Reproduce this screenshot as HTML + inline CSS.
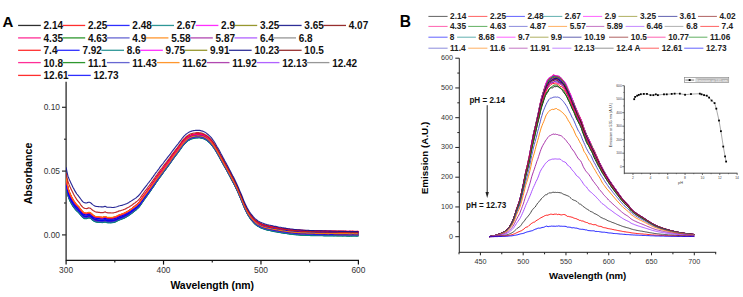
<!DOCTYPE html>
<html><head><meta charset="utf-8"><style>
html,body{margin:0;padding:0;background:#fff;width:743px;height:297px;overflow:hidden}
svg{display:block}
text{font-family:"Liberation Sans",sans-serif}
</style></head><body>
<svg width="743" height="297" viewBox="0 0 743 297" font-family="Liberation Sans, sans-serif">
<defs><clipPath id="clipA"><rect x="66" y="80" width="300" height="180"/></clipPath></defs>
<line x1="66.10" y1="81.80" x2="66.10" y2="261.00" stroke="#2a2a2a" stroke-width="1.3" />
<line x1="66.10" y1="260.40" x2="359.00" y2="260.40" stroke="#111" stroke-width="1.3" />
<line x1="62.00" y1="234.90" x2="66.10" y2="234.90" stroke="#2a2a2a" stroke-width="1.2" />
<text x="60.00" y="237.90" font-size="8.4" font-weight="normal" text-anchor="end" fill="#333" >0.00</text>
<line x1="62.00" y1="171.10" x2="66.10" y2="171.10" stroke="#2a2a2a" stroke-width="1.2" />
<text x="60.00" y="174.10" font-size="8.4" font-weight="normal" text-anchor="end" fill="#333" >0.05</text>
<line x1="62.00" y1="107.30" x2="66.10" y2="107.30" stroke="#2a2a2a" stroke-width="1.2" />
<text x="60.00" y="110.30" font-size="8.4" font-weight="normal" text-anchor="end" fill="#333" >0.10</text>
<line x1="64.00" y1="203.00" x2="66.10" y2="203.00" stroke="#2a2a2a" stroke-width="1.1" />
<line x1="64.00" y1="139.20" x2="66.10" y2="139.20" stroke="#2a2a2a" stroke-width="1.1" />
<line x1="66.10" y1="260.40" x2="66.10" y2="264.60" stroke="#111" stroke-width="1.2" />
<text x="66.10" y="272.90" font-size="8.4" font-weight="normal" text-anchor="middle" fill="#333" >300</text>
<line x1="163.53" y1="260.40" x2="163.53" y2="264.60" stroke="#111" stroke-width="1.2" />
<text x="163.53" y="272.90" font-size="8.4" font-weight="normal" text-anchor="middle" fill="#333" >400</text>
<line x1="260.97" y1="260.40" x2="260.97" y2="264.60" stroke="#111" stroke-width="1.2" />
<text x="260.97" y="272.90" font-size="8.4" font-weight="normal" text-anchor="middle" fill="#333" >500</text>
<line x1="358.40" y1="260.40" x2="358.40" y2="264.60" stroke="#111" stroke-width="1.2" />
<text x="358.40" y="272.90" font-size="8.4" font-weight="normal" text-anchor="middle" fill="#333" >600</text>
<line x1="114.82" y1="260.40" x2="114.82" y2="262.60" stroke="#111" stroke-width="1.1" />
<line x1="212.25" y1="260.40" x2="212.25" y2="262.60" stroke="#111" stroke-width="1.1" />
<line x1="309.68" y1="260.40" x2="309.68" y2="262.60" stroke="#111" stroke-width="1.1" />
<text x="170.40" y="289.00" font-size="10.45" font-weight="bold" text-anchor="start" fill="#000" >Wavelength (nm)</text>
<text x="32.20" y="173.40" font-size="10.7" font-weight="bold" text-anchor="middle" fill="#000" transform="rotate(-90 32.2 173.4)">Absorbance</text>
<text x="2.60" y="27.40" font-size="15.0" font-weight="bold" text-anchor="start" fill="#000" >A</text>
<g clip-path="url(#clipA)">
<polyline points="66.1,181.2 67.1,186.6 68.0,190.9 69.0,193.9 70.0,196.4 71.0,198.6 71.9,200.3 72.9,202.1 73.9,203.6 74.9,204.9 75.8,206.2 76.8,207.1 77.8,208.2 78.8,209.1 79.7,210.3 80.7,211.5 81.7,212.8 82.7,213.8 83.6,214.7 84.6,215.0 85.6,215.3 86.6,215.2 87.5,215.1 88.5,214.6 89.5,214.7 90.5,215.1 91.4,215.7 92.4,216.7 93.4,217.5 94.4,218.1 95.3,218.5 96.3,218.8 97.3,218.9 98.3,219.0 99.2,219.0 100.2,219.1 101.2,219.3 102.2,219.4 103.1,219.4 104.1,218.9 105.1,218.7 106.0,219.0 107.0,219.5 108.0,219.5 109.0,219.6 109.9,219.6 110.9,219.6 111.9,219.4 112.9,219.4 113.8,219.2 114.8,219.0 115.8,218.6 116.8,218.1 117.7,217.7 118.7,217.2 119.7,216.8 120.7,216.6 121.6,216.1 122.6,215.8 123.6,215.4 124.6,214.9 125.5,214.4 126.5,213.8 127.5,213.3 128.5,212.7 129.4,212.0 130.4,211.4 131.4,210.7 132.4,209.9 133.3,209.1 134.3,208.4 135.3,207.6 136.3,206.9 137.2,206.0 138.2,205.0 139.2,203.9 140.1,202.7 141.1,201.4 142.1,200.0 143.1,198.4 144.0,197.0 145.0,195.6 146.0,194.5 147.0,193.1 147.9,191.7 148.9,190.4 149.9,189.1 150.9,187.6 151.8,186.2 152.8,184.8 153.8,183.3 154.8,181.9 155.7,180.4 156.7,179.0 157.7,177.6 158.7,176.3 159.6,175.0 160.6,173.6 161.6,172.3 162.6,171.0 163.5,169.7 164.5,168.3 165.5,167.0 166.5,165.7 167.4,164.4 168.4,163.0 169.4,161.8 170.4,160.5 171.3,159.0 172.3,157.5 173.3,156.2 174.3,154.8 175.2,153.5 176.2,152.2 177.2,151.1 178.1,149.8 179.1,148.5 180.1,147.0 181.1,145.6 182.0,144.2 183.0,143.1 184.0,142.0 185.0,140.8 185.9,139.9 186.9,138.9 187.9,138.3 188.9,137.7 189.8,137.2 190.8,136.8 191.8,136.4 192.8,136.1 193.7,135.8 194.7,135.6 195.7,135.6 196.7,135.4 197.6,135.4 198.6,135.3 199.6,135.4 200.6,135.5 201.5,135.8 202.5,135.9 203.5,136.2 204.5,136.7 205.4,137.3 206.4,137.8 207.4,138.5 208.4,139.3 209.3,140.1 210.3,141.0 211.3,142.2 212.2,143.4 213.2,144.7 214.2,146.0 215.2,147.5 216.1,149.2 217.1,150.8 218.1,152.6 219.1,154.3 220.0,156.1 221.0,157.9 222.0,159.5 223.0,161.4 223.9,163.1 224.9,164.9 225.9,166.7 226.9,168.5 227.8,170.2 228.8,172.1 229.8,173.9 230.8,175.8 231.7,177.6 232.7,179.3 233.7,181.2 234.7,183.1 235.6,185.0 236.6,187.1 237.6,189.3 238.6,191.5 239.5,193.8 240.5,196.1 241.5,198.3 242.5,200.7 243.4,203.1 244.4,205.4 245.4,207.6 246.4,209.5 247.3,211.5 248.3,213.1 249.3,214.7 250.2,216.1 251.2,217.4 252.2,218.5 253.2,219.7 254.1,220.7 255.1,221.7 256.1,222.5 257.1,223.2 258.0,223.9 259.0,224.5 260.0,224.9 261.0,225.5 261.9,225.8 262.9,226.1 263.9,226.5 264.9,226.8 265.8,227.1 266.8,227.3 267.8,227.6 268.8,227.8 269.7,228.0 270.7,228.1 271.7,228.5 272.7,228.5 273.6,228.7 274.6,228.8 275.6,229.0 276.6,229.2 277.5,229.4 278.5,229.5 279.5,229.7 280.5,230.0 281.4,230.0 282.4,230.2 283.4,230.3 284.4,230.5 285.3,230.6 286.3,230.8 287.3,230.8 288.2,231.0 289.2,231.0 290.2,231.2 291.2,231.4 292.1,231.5 293.1,231.5 294.1,231.7 295.1,231.7 296.0,231.7 297.0,231.8 298.0,231.9 299.0,232.1 299.9,232.1 300.9,232.1 301.9,232.3 302.9,232.2 303.8,232.2 304.8,232.3 305.8,232.4 306.8,232.4 307.7,232.5 308.7,232.5 309.7,232.4 310.7,232.4 311.6,232.7 312.6,232.7 313.6,232.6 314.6,232.6 315.5,232.7 316.5,232.7 317.5,232.7 318.5,232.6 319.4,232.8 320.4,232.7 321.4,232.7 322.3,232.7 323.3,232.8 324.3,232.8 325.3,232.8 326.2,232.8 327.2,232.8 328.2,232.8 329.2,232.8 330.1,232.8 331.1,233.0 332.1,232.9 333.1,232.9 334.0,232.9 335.0,232.9 336.0,232.9 337.0,232.9 337.9,233.0 338.9,232.9 339.9,233.0 340.9,233.0 341.8,233.0 342.8,233.0 343.8,233.0 344.8,232.9 345.7,233.0 346.7,233.1 347.7,233.0 348.7,233.0 349.6,233.1 350.6,233.0 351.6,233.1 352.6,233.2 353.5,233.0 354.5,233.1 355.5,233.1 356.5,233.0 357.4,233.1 358.4,233.1" fill="none" stroke="#808080" stroke-width="1.2" stroke-linejoin="round" stroke-opacity="0.92"/>
<polyline points="66.1,182.5 67.1,187.8 68.0,191.9 69.0,195.0 70.0,197.4 71.0,199.5 71.9,201.3 72.9,202.9 73.9,204.4 74.9,205.7 75.8,206.9 76.8,208.0 77.8,209.0 78.8,209.9 79.7,211.0 80.7,212.3 81.7,213.5 82.7,214.6 83.6,215.4 84.6,215.7 85.6,216.0 86.6,216.1 87.5,215.9 88.5,215.4 89.5,215.4 90.5,215.8 91.4,216.5 92.4,217.5 93.4,218.2 94.4,218.8 95.3,219.3 96.3,219.5 97.3,219.6 98.3,219.7 99.2,219.8 100.2,219.9 101.2,220.0 102.2,220.1 103.1,220.0 104.1,219.6 105.1,219.3 106.0,219.8 107.0,220.2 108.0,220.3 109.0,220.3 109.9,220.2 110.9,220.3 111.9,220.1 112.9,220.2 113.8,219.9 114.8,219.6 115.8,219.3 116.8,218.8 117.7,218.2 118.7,217.9 119.7,217.4 120.7,217.2 121.6,216.8 122.6,216.5 123.6,216.1 124.6,215.6 125.5,215.1 126.5,214.5 127.5,213.9 128.5,213.3 129.4,212.6 130.4,212.0 131.4,211.3 132.4,210.5 133.3,209.7 134.3,209.0 135.3,208.2 136.3,207.4 137.2,206.6 138.2,205.7 139.2,204.5 140.1,203.4 141.1,201.8 142.1,200.5 143.1,199.1 144.0,197.7 145.0,196.3 146.0,194.9 147.0,193.7 147.9,192.4 148.9,191.0 149.9,189.5 150.9,188.2 151.8,186.8 152.8,185.4 153.8,184.0 154.8,182.5 155.7,181.0 156.7,179.7 157.7,178.2 158.7,177.0 159.6,175.5 160.6,174.2 161.6,172.8 162.6,171.6 163.5,170.3 164.5,169.0 165.5,167.6 166.5,166.3 167.4,164.9 168.4,163.7 169.4,162.3 170.4,161.0 171.3,159.5 172.3,158.1 173.3,156.9 174.3,155.4 175.2,154.1 176.2,152.9 177.2,151.7 178.1,150.4 179.1,149.0 180.1,147.6 181.1,146.2 182.0,144.8 183.0,143.6 184.0,142.5 185.0,141.5 185.9,140.4 186.9,139.5 187.9,138.9 188.9,138.3 189.8,137.8 190.8,137.2 191.8,136.9 192.8,136.6 193.7,136.4 194.7,136.2 195.7,136.0 196.7,136.0 197.6,135.9 198.6,135.9 199.6,135.9 200.6,136.1 201.5,136.3 202.5,136.5 203.5,136.8 204.5,137.3 205.4,137.7 206.4,138.5 207.4,139.0 208.4,139.9 209.3,140.7 210.3,141.6 211.3,142.6 212.2,143.9 213.2,145.3 214.2,146.6 215.2,148.1 216.1,149.6 217.1,151.4 218.1,153.0 219.1,154.8 220.0,156.7 221.0,158.4 222.0,160.1 223.0,162.0 223.9,163.7 224.9,165.4 225.9,167.2 226.9,168.9 227.8,170.7 228.8,172.6 229.8,174.3 230.8,176.2 231.7,178.0 232.7,179.7 233.7,181.7 234.7,183.6 235.6,185.4 236.6,187.6 237.6,189.7 238.6,191.9 239.5,194.2 240.5,196.6 241.5,198.8 242.5,201.2 243.4,203.6 244.4,205.9 245.4,208.1 246.4,210.1 247.3,211.9 248.3,213.7 249.3,215.2 250.2,216.6 251.2,217.9 252.2,219.1 253.2,220.3 254.1,221.3 255.1,222.1 256.1,223.0 257.1,223.7 258.0,224.3 259.0,224.9 260.0,225.5 261.0,225.9 261.9,226.3 262.9,226.7 263.9,227.2 264.9,227.3 265.8,227.7 266.8,227.9 267.8,228.3 268.8,228.3 269.7,228.6 270.7,228.7 271.7,229.0 272.7,229.0 273.6,229.2 274.6,229.5 275.6,229.7 276.6,229.9 277.5,230.0 278.5,230.2 279.5,230.4 280.5,230.5 281.4,230.7 282.4,230.8 283.4,231.0 284.4,231.1 285.3,231.2 286.3,231.3 287.3,231.5 288.2,231.5 289.2,231.6 290.2,231.8 291.2,232.0 292.1,232.0 293.1,232.2 294.1,232.3 295.1,232.3 296.0,232.5 297.0,232.5 298.0,232.6 299.0,232.7 299.9,232.7 300.9,232.7 301.9,232.9 302.9,232.9 303.8,232.9 304.8,232.9 305.8,232.9 306.8,233.0 307.7,233.1 308.7,233.2 309.7,233.1 310.7,233.1 311.6,233.2 312.6,233.3 313.6,233.2 314.6,233.3 315.5,233.3 316.5,233.3 317.5,233.4 318.5,233.4 319.4,233.5 320.4,233.4 321.4,233.3 322.3,233.5 323.3,233.4 324.3,233.5 325.3,233.5 326.2,233.4 327.2,233.6 328.2,233.5 329.2,233.6 330.1,233.5 331.1,233.6 332.1,233.6 333.1,233.5 334.0,233.6 335.0,233.7 336.0,233.5 337.0,233.6 337.9,233.6 338.9,233.6 339.9,233.7 340.9,233.6 341.8,233.6 342.8,233.7 343.8,233.7 344.8,233.6 345.7,233.6 346.7,233.7 347.7,233.8 348.7,233.7 349.6,233.8 350.6,233.7 351.6,233.7 352.6,233.7 353.5,233.7 354.5,233.8 355.5,233.8 356.5,233.8 357.4,233.8 358.4,233.8" fill="none" stroke="#808080" stroke-width="1.2" stroke-linejoin="round" stroke-opacity="0.92"/>
<polyline points="66.1,181.9 67.1,187.4 68.0,191.6 69.0,194.6 70.0,196.9 71.0,199.1 71.9,201.0 72.9,202.6 73.9,204.2 74.9,205.5 75.8,206.7 76.8,207.7 77.8,208.6 78.8,209.6 79.7,210.7 80.7,212.1 81.7,213.1 82.7,214.2 83.6,215.1 84.6,215.5 85.6,215.8 86.6,215.8 87.5,215.5 88.5,215.0 89.5,215.1 90.5,215.5 91.4,216.2 92.4,217.1 93.4,217.9 94.4,218.5 95.3,218.9 96.3,219.2 97.3,219.4 98.3,219.4 99.2,219.5 100.2,219.6 101.2,219.8 102.2,219.8 103.1,219.6 104.1,219.3 105.1,219.1 106.0,219.5 107.0,219.9 108.0,220.1 109.0,220.0 109.9,220.0 110.9,219.9 111.9,219.9 112.9,219.8 113.8,219.7 114.8,219.3 115.8,219.1 116.8,218.6 117.7,218.0 118.7,217.6 119.7,217.3 120.7,216.9 121.6,216.5 122.6,216.2 123.6,215.8 124.6,215.3 125.5,214.7 126.5,214.2 127.5,213.6 128.5,213.1 129.4,212.4 130.4,211.6 131.4,211.0 132.4,210.3 133.3,209.6 134.3,208.7 135.3,208.0 136.3,207.2 137.2,206.5 138.2,205.5 139.2,204.3 140.1,203.1 141.1,201.8 142.1,200.3 143.1,198.8 144.0,197.4 145.0,196.1 146.0,194.7 147.0,193.3 147.9,192.1 148.9,190.7 149.9,189.4 150.9,188.0 151.8,186.6 152.8,185.2 153.8,183.8 154.8,182.3 155.7,180.8 156.7,179.5 157.7,178.0 158.7,176.7 159.6,175.3 160.6,174.0 161.6,172.7 162.6,171.4 163.5,170.0 164.5,168.7 165.5,167.3 166.5,166.0 167.4,164.6 168.4,163.3 169.4,162.1 170.4,160.7 171.3,159.3 172.3,157.9 173.3,156.5 174.3,155.3 175.2,153.9 176.2,152.7 177.2,151.4 178.1,150.2 179.1,148.8 180.1,147.4 181.1,146.0 182.0,144.6 183.0,143.3 184.0,142.3 185.0,141.1 185.9,140.3 186.9,139.4 187.9,138.6 188.9,138.0 189.8,137.4 190.8,137.1 191.8,136.7 192.8,136.4 193.7,136.1 194.7,135.9 195.7,135.9 196.7,135.7 197.6,135.6 198.6,135.7 199.6,135.8 200.6,135.9 201.5,136.1 202.5,136.3 203.5,136.6 204.5,137.0 205.4,137.6 206.4,138.1 207.4,138.8 208.4,139.6 209.3,140.5 210.3,141.4 211.3,142.5 212.2,143.6 213.2,145.0 214.2,146.4 215.2,147.8 216.1,149.5 217.1,151.1 218.1,152.8 219.1,154.8 220.0,156.4 221.0,158.2 222.0,159.9 223.0,161.7 223.9,163.5 224.9,165.3 225.9,167.0 226.9,168.7 227.8,170.6 228.8,172.4 229.8,174.2 230.8,176.0 231.7,177.9 232.7,179.7 233.7,181.5 234.7,183.3 235.6,185.3 236.6,187.3 237.6,189.5 238.6,191.7 239.5,194.0 240.5,196.3 241.5,198.6 242.5,201.0 243.4,203.4 244.4,205.7 245.4,207.8 246.4,210.0 247.3,211.7 248.3,213.3 249.3,215.1 250.2,216.4 251.2,217.6 252.2,218.9 253.2,219.9 254.1,221.1 255.1,222.0 256.1,222.8 257.1,223.6 258.0,224.1 259.0,224.7 260.0,225.3 261.0,225.7 261.9,226.1 262.9,226.4 263.9,226.8 264.9,227.1 265.8,227.3 266.8,227.7 267.8,228.0 268.8,228.1 269.7,228.3 270.7,228.5 271.7,228.7 272.7,228.9 273.6,229.0 274.6,229.2 275.6,229.4 276.6,229.6 277.5,229.8 278.5,229.8 279.5,230.1 280.5,230.3 281.4,230.4 282.4,230.6 283.4,230.7 284.4,230.9 285.3,230.9 286.3,231.1 287.3,231.3 288.2,231.4 289.2,231.6 290.2,231.7 291.2,231.7 292.1,231.7 293.1,232.0 294.1,232.1 295.1,232.1 296.0,232.2 297.0,232.2 298.0,232.4 299.0,232.4 299.9,232.5 300.9,232.5 301.9,232.6 302.9,232.6 303.8,232.7 304.8,232.7 305.8,232.7 306.8,232.8 307.7,232.8 308.7,232.7 309.7,232.8 310.7,233.0 311.6,233.0 312.6,233.0 313.6,233.0 314.6,233.1 315.5,233.1 316.5,233.1 317.5,233.0 318.5,233.1 319.4,233.1 320.4,233.2 321.4,233.2 322.3,233.3 323.3,233.2 324.3,233.1 325.3,233.2 326.2,233.3 327.2,233.3 328.2,233.2 329.2,233.3 330.1,233.3 331.1,233.2 332.1,233.4 333.1,233.2 334.0,233.3 335.0,233.4 336.0,233.3 337.0,233.5 337.9,233.3 338.9,233.4 339.9,233.4 340.9,233.4 341.8,233.5 342.8,233.4 343.8,233.5 344.8,233.4 345.7,233.4 346.7,233.5 347.7,233.4 348.7,233.5 349.6,233.5 350.6,233.4 351.6,233.4 352.6,233.5 353.5,233.5 354.5,233.6 355.5,233.5 356.5,233.5 357.4,233.5 358.4,233.5" fill="none" stroke="#808000" stroke-width="1.2" stroke-linejoin="round" stroke-opacity="0.92"/>
<polyline points="66.1,184.8 67.1,190.0 68.0,194.1 69.0,197.1 70.0,199.4 71.0,201.5 71.9,203.1 72.9,204.7 73.9,206.1 74.9,207.5 75.8,208.5 76.8,209.6 77.8,210.7 78.8,211.5 79.7,212.6 80.7,213.9 81.7,215.0 82.7,216.0 83.6,216.9 84.6,217.3 85.6,217.5 86.6,217.5 87.5,217.2 88.5,216.8 89.5,216.8 90.5,217.3 91.4,218.0 92.4,218.9 93.4,219.6 94.4,220.1 95.3,220.6 96.3,220.9 97.3,221.1 98.3,221.1 99.2,221.2 100.2,221.3 101.2,221.4 102.2,221.4 103.1,221.4 104.1,220.9 105.1,220.8 106.0,221.2 107.0,221.5 108.0,221.7 109.0,221.7 109.9,221.7 110.9,221.6 111.9,221.6 112.9,221.4 113.8,221.3 114.8,220.9 115.8,220.6 116.8,220.1 117.7,219.7 118.7,219.2 119.7,218.9 120.7,218.5 121.6,218.2 122.6,217.7 123.6,217.3 124.6,217.0 125.5,216.4 126.5,215.8 127.5,215.2 128.5,214.7 129.4,214.0 130.4,213.2 131.4,212.6 132.4,211.7 133.3,211.0 134.3,210.3 135.3,209.6 136.3,208.8 137.2,207.8 138.2,206.9 139.2,205.8 140.1,204.5 141.1,203.1 142.1,201.7 143.1,200.4 144.0,199.0 145.0,197.5 146.0,196.2 147.0,194.9 147.9,193.4 148.9,192.2 149.9,190.8 150.9,189.3 151.8,188.0 152.8,186.6 153.8,185.2 154.8,183.6 155.7,182.3 156.7,180.8 157.7,179.4 158.7,178.1 159.6,176.7 160.6,175.4 161.6,174.0 162.6,172.7 163.5,171.4 164.5,170.0 165.5,168.7 166.5,167.4 167.4,166.1 168.4,164.8 169.4,163.5 170.4,162.0 171.3,160.8 172.3,159.2 173.3,157.9 174.3,156.6 175.2,155.2 176.2,154.0 177.2,152.8 178.1,151.4 179.1,150.0 180.1,148.8 181.1,147.3 182.0,146.0 183.0,144.7 184.0,143.4 185.0,142.5 185.9,141.6 186.9,140.7 187.9,139.9 188.9,139.3 189.8,138.9 190.8,138.3 191.8,137.9 192.8,137.8 193.7,137.5 194.7,137.3 195.7,137.1 196.7,137.0 197.6,137.0 198.6,136.9 199.6,137.1 200.6,137.1 201.5,137.3 202.5,137.6 203.5,137.9 204.5,138.3 205.4,138.7 206.4,139.4 207.4,140.1 208.4,140.8 209.3,141.7 210.3,142.6 211.3,143.7 212.2,144.9 213.2,146.3 214.2,147.5 215.2,149.1 216.1,150.7 217.1,152.4 218.1,154.1 219.1,156.0 220.0,157.6 221.0,159.4 222.0,161.1 223.0,162.8 223.9,164.7 224.9,166.3 225.9,168.2 226.9,169.9 227.8,171.8 228.8,173.5 229.8,175.4 230.8,177.2 231.7,179.1 232.7,180.8 233.7,182.7 234.7,184.5 235.6,186.5 236.6,188.5 237.6,190.7 238.6,192.9 239.5,195.2 240.5,197.5 241.5,199.8 242.5,202.2 243.4,204.6 244.4,206.9 245.4,209.1 246.4,211.1 247.3,213.0 248.3,214.6 249.3,216.3 250.2,217.6 251.2,218.9 252.2,220.2 253.2,221.3 254.1,222.3 255.1,223.3 256.1,224.0 257.1,224.8 258.0,225.4 259.0,225.9 260.0,226.5 261.0,227.0 261.9,227.3 262.9,227.8 263.9,228.1 264.9,228.4 265.8,228.8 266.8,229.0 267.8,229.2 268.8,229.5 269.7,229.7 270.7,230.1 271.7,230.1 272.7,230.3 273.6,230.4 274.6,230.6 275.6,230.8 276.6,230.9 277.5,231.1 278.5,231.4 279.5,231.4 280.5,231.6 281.4,231.8 282.4,232.1 283.4,232.1 284.4,232.3 285.3,232.4 286.3,232.6 287.3,232.6 288.2,232.8 289.2,233.0 290.2,233.0 291.2,233.3 292.1,233.3 293.1,233.4 294.1,233.5 295.1,233.7 296.0,233.8 297.0,233.8 298.0,233.8 299.0,234.0 299.9,234.0 300.9,234.1 301.9,234.1 302.9,234.2 303.8,234.2 304.8,234.4 305.8,234.4 306.8,234.4 307.7,234.5 308.7,234.4 309.7,234.4 310.7,234.5 311.6,234.5 312.6,234.5 313.6,234.6 314.6,234.5 315.5,234.7 316.5,234.5 317.5,234.7 318.5,234.6 319.4,234.7 320.4,234.7 321.4,234.7 322.3,234.7 323.3,234.8 324.3,234.7 325.3,234.8 326.2,234.8 327.2,234.7 328.2,234.9 329.2,234.8 330.1,234.9 331.1,234.8 332.1,234.8 333.1,234.8 334.0,234.9 335.0,234.9 336.0,234.9 337.0,234.8 337.9,234.9 338.9,234.8 339.9,235.0 340.9,234.9 341.8,235.0 342.8,235.0 343.8,234.9 344.8,234.9 345.7,235.0 346.7,234.9 347.7,235.0 348.7,235.0 349.6,235.0 350.6,235.0 351.6,235.1 352.6,235.1 353.5,235.0 354.5,235.0 355.5,234.9 356.5,235.0 357.4,235.0 358.4,235.1" fill="none" stroke="#808000" stroke-width="1.2" stroke-linejoin="round" stroke-opacity="0.92"/>
<polyline points="66.1,185.7 67.1,190.9 68.0,194.9 69.0,197.8 70.0,200.2 71.0,202.2 71.9,203.9 72.9,205.4 73.9,206.9 74.9,208.2 75.8,209.2 76.8,210.3 77.8,211.3 78.8,212.2 79.7,213.3 80.7,214.5 81.7,215.7 82.7,216.7 83.6,217.5 84.6,217.9 85.6,218.0 86.6,218.1 87.5,217.8 88.5,217.3 89.5,217.5 90.5,217.8 91.4,218.5 92.4,219.4 93.4,220.1 94.4,220.8 95.3,221.1 96.3,221.5 97.3,221.6 98.3,221.6 99.2,221.7 100.2,221.8 101.2,222.0 102.2,222.0 103.1,222.0 104.1,221.6 105.1,221.4 106.0,221.7 107.0,222.1 108.0,222.3 109.0,222.4 109.9,222.3 110.9,222.3 111.9,222.2 112.9,222.0 113.8,221.8 114.8,221.6 115.8,221.1 116.8,220.7 117.7,220.2 118.7,219.7 119.7,219.4 120.7,219.0 121.6,218.7 122.6,218.3 123.6,217.9 124.6,217.4 125.5,217.0 126.5,216.4 127.5,215.8 128.5,215.1 129.4,214.5 130.4,213.7 131.4,213.1 132.4,212.3 133.3,211.4 134.3,210.8 135.3,210.0 136.3,209.1 137.2,208.4 138.2,207.4 139.2,206.3 140.1,205.0 141.1,203.7 142.1,202.2 143.1,200.9 144.0,199.5 145.0,198.0 146.0,196.8 147.0,195.4 147.9,194.0 148.9,192.7 149.9,191.2 150.9,189.9 151.8,188.4 152.8,187.0 153.8,185.7 154.8,184.2 155.7,182.7 156.7,181.3 157.7,179.9 158.7,178.6 159.6,177.2 160.6,175.9 161.6,174.5 162.6,173.1 163.5,171.8 164.5,170.5 165.5,169.1 166.5,167.8 167.4,166.6 168.4,165.2 169.4,163.9 170.4,162.5 171.3,161.1 172.3,159.8 173.3,158.3 174.3,156.9 175.2,155.8 176.2,154.3 177.2,153.2 178.1,151.8 179.1,150.6 180.1,149.2 181.1,147.7 182.0,146.4 183.0,145.2 184.0,144.1 185.0,142.9 185.9,142.0 186.9,141.1 187.9,140.3 188.9,139.7 189.8,139.2 190.8,138.8 191.8,138.5 192.8,138.1 193.7,137.9 194.7,137.7 195.7,137.5 196.7,137.5 197.6,137.4 198.6,137.4 199.6,137.4 200.6,137.6 201.5,137.7 202.5,137.9 203.5,138.2 204.5,138.7 205.4,139.3 206.4,139.8 207.4,140.5 208.4,141.1 209.3,142.1 210.3,143.0 211.3,144.2 212.2,145.3 213.2,146.6 214.2,148.0 215.2,149.6 216.1,151.0 217.1,152.8 218.1,154.5 219.1,156.3 220.0,158.0 221.0,159.8 222.0,161.6 223.0,163.4 223.9,165.1 224.9,166.8 225.9,168.6 226.9,170.3 227.8,172.1 228.8,174.0 229.8,175.7 230.8,177.7 231.7,179.5 232.7,181.3 233.7,183.1 234.7,185.0 235.6,186.9 236.6,189.0 237.6,191.0 238.6,193.2 239.5,195.6 240.5,197.9 241.5,200.2 242.5,202.6 243.4,204.9 244.4,207.3 245.4,209.5 246.4,211.5 247.3,213.3 248.3,215.1 249.3,216.6 250.2,218.0 251.2,219.3 252.2,220.6 253.2,221.7 254.1,222.7 255.1,223.7 256.1,224.5 257.1,225.3 258.0,225.9 259.0,226.4 260.0,227.0 261.0,227.5 261.9,227.8 262.9,228.3 263.9,228.6 264.9,228.9 265.8,229.2 266.8,229.4 267.8,229.7 268.8,230.0 269.7,230.1 270.7,230.3 271.7,230.6 272.7,230.7 273.6,230.9 274.6,231.1 275.6,231.3 276.6,231.5 277.5,231.5 278.5,231.9 279.5,232.0 280.5,232.2 281.4,232.4 282.4,232.4 283.4,232.7 284.4,232.7 285.3,233.0 286.3,233.2 287.3,233.2 288.2,233.3 289.2,233.5 290.2,233.6 291.2,233.7 292.1,233.8 293.1,234.0 294.1,234.0 295.1,234.2 296.0,234.3 297.0,234.3 298.0,234.3 299.0,234.5 299.9,234.6 300.9,234.6 301.9,234.6 302.9,234.8 303.8,234.8 304.8,234.9 305.8,234.8 306.8,234.9 307.7,234.9 308.7,234.9 309.7,234.9 310.7,235.0 311.6,235.0 312.6,235.0 313.6,235.1 314.6,235.1 315.5,235.1 316.5,235.1 317.5,235.2 318.5,235.2 319.4,235.2 320.4,235.3 321.4,235.3 322.3,235.2 323.3,235.2 324.3,235.3 325.3,235.3 326.2,235.3 327.2,235.3 328.2,235.3 329.2,235.3 330.1,235.3 331.1,235.2 332.1,235.4 333.1,235.4 334.0,235.4 335.0,235.5 336.0,235.4 337.0,235.4 337.9,235.5 338.9,235.4 339.9,235.4 340.9,235.5 341.8,235.5 342.8,235.5 343.8,235.4 344.8,235.5 345.7,235.5 346.7,235.6 347.7,235.5 348.7,235.5 349.6,235.6 350.6,235.5 351.6,235.5 352.6,235.5 353.5,235.5 354.5,235.5 355.5,235.4 356.5,235.5 357.4,235.5 358.4,235.6" fill="none" stroke="#008000" stroke-width="1.2" stroke-linejoin="round" stroke-opacity="0.92"/>
<polyline points="66.1,185.8 67.1,191.1 68.0,195.1 69.0,198.1 70.0,200.4 71.0,202.4 71.9,204.0 72.9,205.6 73.9,207.1 74.9,208.3 75.8,209.5 76.8,210.6 77.8,211.4 78.8,212.4 79.7,213.4 80.7,214.7 81.7,215.8 82.7,216.9 83.6,217.6 84.6,218.1 85.6,218.2 86.6,218.3 87.5,217.9 88.5,217.6 89.5,217.6 90.5,217.9 91.4,218.7 92.4,219.5 93.4,220.4 94.4,220.9 95.3,221.4 96.3,221.6 97.3,221.8 98.3,221.9 99.2,221.9 100.2,222.0 101.2,222.1 102.2,222.2 103.1,222.2 104.1,221.7 105.1,221.5 106.0,221.8 107.0,222.3 108.0,222.4 109.0,222.4 109.9,222.5 110.9,222.3 111.9,222.3 112.9,222.3 113.8,222.0 114.8,221.7 115.8,221.2 116.8,220.8 117.7,220.3 118.7,219.8 119.7,219.5 120.7,219.2 121.6,218.9 122.6,218.4 123.6,218.0 124.6,217.5 125.5,217.1 126.5,216.4 127.5,215.9 128.5,215.3 129.4,214.6 130.4,213.9 131.4,213.2 132.4,212.5 133.3,211.7 134.3,210.9 135.3,210.1 136.3,209.4 137.2,208.4 138.2,207.5 139.2,206.5 140.1,205.1 141.1,203.8 142.1,202.4 143.1,200.9 144.0,199.6 145.0,198.2 146.0,196.7 147.0,195.4 147.9,194.1 148.9,192.8 149.9,191.3 150.9,190.0 151.8,188.6 152.8,187.2 153.8,185.7 154.8,184.3 155.7,182.8 156.7,181.3 157.7,180.0 158.7,178.6 159.6,177.3 160.6,176.0 161.6,174.7 162.6,173.2 163.5,172.0 164.5,170.7 165.5,169.3 166.5,167.9 167.4,166.6 168.4,165.3 169.4,164.1 170.4,162.7 171.3,161.3 172.3,159.9 173.3,158.4 174.3,157.1 175.2,155.7 176.2,154.5 177.2,153.3 178.1,152.1 179.1,150.7 180.1,149.2 181.1,147.9 182.0,146.5 183.0,145.3 184.0,144.0 185.0,143.0 185.9,142.0 186.9,141.2 187.9,140.3 188.9,139.9 189.8,139.3 190.8,138.8 191.8,138.5 192.8,138.2 193.7,138.0 194.7,137.7 195.7,137.7 196.7,137.5 197.6,137.6 198.6,137.4 199.6,137.5 200.6,137.7 201.5,137.8 202.5,138.1 203.5,138.4 204.5,138.7 205.4,139.3 206.4,139.9 207.4,140.5 208.4,141.4 209.3,142.1 210.3,143.2 211.3,144.2 212.2,145.4 213.2,146.8 214.2,148.1 215.2,149.7 216.1,151.1 217.1,152.8 218.1,154.6 219.1,156.4 220.0,158.2 221.0,160.0 222.0,161.7 223.0,163.4 223.9,165.2 224.9,166.9 225.9,168.7 226.9,170.5 227.8,172.2 228.8,174.0 229.8,175.9 230.8,177.7 231.7,179.6 232.7,181.4 233.7,183.3 234.7,185.1 235.6,186.9 236.6,189.1 237.6,191.2 238.6,193.4 239.5,195.6 240.5,197.9 241.5,200.3 242.5,202.7 243.4,205.0 244.4,207.3 245.4,209.6 246.4,211.6 247.3,213.4 248.3,215.1 249.3,216.7 250.2,218.2 251.2,219.5 252.2,220.7 253.2,221.8 254.1,222.8 255.1,223.8 256.1,224.7 257.1,225.3 258.0,226.0 259.0,226.5 260.0,227.1 261.0,227.6 261.9,227.9 262.9,228.3 263.9,228.7 264.9,229.0 265.8,229.2 266.8,229.6 267.8,229.9 268.8,230.0 269.7,230.2 270.7,230.4 271.7,230.6 272.7,230.7 273.6,231.1 274.6,231.2 275.6,231.4 276.6,231.6 277.5,231.8 278.5,231.9 279.5,232.2 280.5,232.3 281.4,232.5 282.4,232.6 283.4,232.7 284.4,233.0 285.3,233.0 286.3,233.2 287.3,233.4 288.2,233.4 289.2,233.7 290.2,233.7 291.2,233.9 292.1,234.0 293.1,234.0 294.1,234.2 295.1,234.3 296.0,234.3 297.0,234.5 298.0,234.5 299.0,234.7 299.9,234.7 300.9,234.8 301.9,234.8 302.9,234.9 303.8,234.9 304.8,234.9 305.8,235.0 306.8,235.0 307.7,235.0 308.7,235.1 309.7,235.1 310.7,235.1 311.6,235.1 312.6,235.2 313.6,235.2 314.6,235.4 315.5,235.2 316.5,235.2 317.5,235.3 318.5,235.4 319.4,235.3 320.4,235.4 321.4,235.2 322.3,235.3 323.3,235.5 324.3,235.4 325.3,235.4 326.2,235.4 327.2,235.4 328.2,235.5 329.2,235.5 330.1,235.5 331.1,235.4 332.1,235.5 333.1,235.4 334.0,235.6 335.0,235.5 336.0,235.5 337.0,235.6 337.9,235.6 338.9,235.6 339.9,235.6 340.9,235.6 341.8,235.6 342.8,235.6 343.8,235.6 344.8,235.6 345.7,235.6 346.7,235.6 347.7,235.6 348.7,235.6 349.6,235.8 350.6,235.6 351.6,235.6 352.6,235.7 353.5,235.7 354.5,235.7 355.5,235.6 356.5,235.7 357.4,235.7 358.4,235.7" fill="none" stroke="#008000" stroke-width="1.2" stroke-linejoin="round" stroke-opacity="0.92"/>
<polyline points="66.1,178.8 67.1,184.4 68.0,188.7 69.0,191.9 70.0,194.3 71.0,196.6 71.9,198.5 72.9,200.2 73.9,201.8 74.9,203.2 75.8,204.4 76.8,205.6 77.8,206.5 78.8,207.5 79.7,208.7 80.7,209.9 81.7,211.2 82.7,212.2 83.6,213.1 84.6,213.5 85.6,213.8 86.6,213.8 87.5,213.4 88.5,213.2 89.5,213.3 90.5,213.7 91.4,214.4 92.4,215.2 93.4,216.1 94.4,216.6 95.3,217.0 96.3,217.3 97.3,217.5 98.3,217.6 99.2,217.7 100.2,217.7 101.2,217.9 102.2,218.0 103.1,217.8 104.1,217.4 105.1,217.3 106.0,217.5 107.0,218.0 108.0,218.1 109.0,218.2 109.9,218.1 110.9,218.1 111.9,218.2 112.9,218.0 113.8,217.8 114.8,217.6 115.8,217.3 116.8,216.8 117.7,216.2 118.7,216.0 119.7,215.4 120.7,215.1 121.6,214.8 122.6,214.4 123.6,214.1 124.6,213.6 125.5,213.1 126.5,212.5 127.5,212.0 128.5,211.5 129.4,210.8 130.4,210.1 131.4,209.3 132.4,208.6 133.3,207.9 134.3,207.1 135.3,206.5 136.3,205.6 137.2,204.7 138.2,203.8 139.2,202.8 140.1,201.5 141.1,200.1 142.1,198.7 143.1,197.4 144.0,195.9 145.0,194.6 146.0,193.1 147.0,191.9 147.9,190.5 148.9,189.3 149.9,187.8 150.9,186.4 151.8,185.0 152.8,183.5 153.8,182.2 154.8,180.7 155.7,179.2 156.7,177.9 157.7,176.5 158.7,175.2 159.6,173.9 160.6,172.4 161.6,171.2 162.6,169.8 163.5,168.5 164.5,167.2 165.5,165.8 166.5,164.6 167.4,163.2 168.4,161.9 169.4,160.7 170.4,159.3 171.3,157.9 172.3,156.5 173.3,155.1 174.3,153.7 175.2,152.4 176.2,151.3 177.2,149.9 178.1,148.8 179.1,147.4 180.1,145.9 181.1,144.5 182.0,143.2 183.0,141.9 184.0,140.8 185.0,139.7 185.9,138.9 186.9,138.1 187.9,137.3 188.9,136.6 189.8,136.1 190.8,135.7 191.8,135.2 192.8,135.1 193.7,134.8 194.7,134.7 195.7,134.5 196.7,134.4 197.6,134.3 198.6,134.2 199.6,134.5 200.6,134.5 201.5,134.7 202.5,135.0 203.5,135.2 204.5,135.7 205.4,136.1 206.4,136.8 207.4,137.4 208.4,138.2 209.3,139.1 210.3,140.1 211.3,141.1 212.2,142.3 213.2,143.5 214.2,145.0 215.2,146.5 216.1,148.1 217.1,149.8 218.1,151.5 219.1,153.4 220.0,155.1 221.0,156.8 222.0,158.7 223.0,160.5 223.9,162.0 224.9,164.0 225.9,165.7 226.9,167.5 227.8,169.2 228.8,171.0 229.8,172.7 230.8,174.6 231.7,176.5 232.7,178.4 233.7,180.1 234.7,182.1 235.6,184.0 236.6,186.1 237.6,188.2 238.6,190.5 239.5,192.7 240.5,195.1 241.5,197.4 242.5,199.6 243.4,202.1 244.4,204.5 245.4,206.5 246.4,208.7 247.3,210.4 248.3,212.2 249.3,213.6 250.2,215.0 251.2,216.4 252.2,217.6 253.2,218.7 254.1,219.6 255.1,220.6 256.1,221.3 257.1,222.1 258.0,222.8 259.0,223.4 260.0,223.9 261.0,224.2 261.9,224.7 262.9,225.0 263.9,225.4 264.9,225.7 265.8,226.0 266.8,226.2 267.8,226.4 268.8,226.6 269.7,226.9 270.7,227.0 271.7,227.2 272.7,227.3 273.6,227.6 274.6,227.7 275.6,227.9 276.6,228.1 277.5,228.2 278.5,228.4 279.5,228.5 280.5,228.7 281.4,228.9 282.4,229.0 283.4,229.1 284.4,229.3 285.3,229.4 286.3,229.6 287.3,229.7 288.2,229.7 289.2,229.8 290.2,230.0 291.2,230.1 292.1,230.2 293.1,230.2 294.1,230.3 295.1,230.5 296.0,230.5 297.0,230.5 298.0,230.7 299.0,230.8 299.9,230.8 300.9,230.8 301.9,230.9 302.9,230.9 303.8,230.9 304.8,231.0 305.8,231.0 306.8,231.1 307.7,231.1 308.7,231.1 309.7,231.2 310.7,231.2 311.6,231.3 312.6,231.3 313.6,231.3 314.6,231.4 315.5,231.3 316.5,231.4 317.5,231.3 318.5,231.4 319.4,231.4 320.4,231.5 321.4,231.4 322.3,231.5 323.3,231.5 324.3,231.6 325.3,231.5 326.2,231.6 327.2,231.5 328.2,231.6 329.2,231.7 330.1,231.5 331.1,231.6 332.1,231.6 333.1,231.6 334.0,231.7 335.0,231.6 336.0,231.7 337.0,231.7 337.9,231.7 338.9,231.7 339.9,231.7 340.9,231.7 341.8,231.7 342.8,231.7 343.8,231.7 344.8,231.7 345.7,231.8 346.7,231.8 347.7,231.8 348.7,231.7 349.6,231.9 350.6,231.8 351.6,231.9 352.6,231.8 353.5,231.8 354.5,231.8 355.5,231.9 356.5,231.8 357.4,231.8 358.4,231.8" fill="none" stroke="#ff8000" stroke-width="1.2" stroke-linejoin="round" stroke-opacity="0.92"/>
<polyline points="66.1,181.5 67.1,186.9 68.0,191.0 69.0,194.2 70.0,196.6 71.0,198.6 71.9,200.6 72.9,202.1 73.9,203.7 74.9,205.1 75.8,206.3 76.8,207.4 77.8,208.4 78.8,209.3 79.7,210.4 80.7,211.7 81.7,212.8 82.7,214.0 83.6,214.8 84.6,215.2 85.6,215.4 86.6,215.4 87.5,215.2 88.5,214.8 89.5,214.9 90.5,215.2 91.4,215.9 92.4,216.9 93.4,217.7 94.4,218.2 95.3,218.7 96.3,218.9 97.3,219.0 98.3,219.1 99.2,219.3 100.2,219.4 101.2,219.4 102.2,219.6 103.1,219.4 104.1,219.0 105.1,218.8 106.0,219.2 107.0,219.6 108.0,219.7 109.0,219.7 109.9,219.7 110.9,219.7 111.9,219.6 112.9,219.6 113.8,219.3 114.8,219.0 115.8,218.8 116.8,218.2 117.7,217.8 118.7,217.3 119.7,216.9 120.7,216.6 121.6,216.3 122.6,216.0 123.6,215.5 124.6,215.1 125.5,214.5 126.5,214.0 127.5,213.4 128.5,212.7 129.4,212.2 130.4,211.5 131.4,210.8 132.4,210.0 133.3,209.2 134.3,208.5 135.3,207.7 136.3,206.9 137.2,206.1 138.2,205.1 139.2,204.1 140.1,202.9 141.1,201.5 142.1,200.0 143.1,198.7 144.0,197.2 145.0,195.9 146.0,194.5 147.0,193.1 147.9,191.9 148.9,190.5 149.9,189.2 150.9,187.8 151.8,186.4 152.8,184.9 153.8,183.5 154.8,181.9 155.7,180.6 156.7,179.2 157.7,177.7 158.7,176.4 159.6,175.1 160.6,173.7 161.6,172.4 162.6,171.1 163.5,169.8 164.5,168.5 165.5,167.1 166.5,165.8 167.4,164.4 168.4,163.2 169.4,161.9 170.4,160.5 171.3,159.1 172.3,157.6 173.3,156.3 174.3,154.9 175.2,153.7 176.2,152.3 177.2,151.2 178.1,150.0 179.1,148.6 180.1,147.2 181.1,145.7 182.0,144.5 183.0,143.2 184.0,142.0 185.0,140.9 185.9,140.0 186.9,139.1 187.9,138.5 188.9,137.8 189.8,137.2 190.8,136.9 191.8,136.5 192.8,136.2 193.7,135.9 194.7,135.8 195.7,135.6 196.7,135.5 197.6,135.6 198.6,135.5 199.6,135.6 200.6,135.6 201.5,135.8 202.5,136.1 203.5,136.3 204.5,136.8 205.4,137.3 206.4,138.0 207.4,138.6 208.4,139.3 209.3,140.3 210.3,141.2 211.3,142.4 212.2,143.5 213.2,144.8 214.2,146.2 215.2,147.7 216.1,149.3 217.1,150.9 218.1,152.6 219.1,154.4 220.0,156.2 221.0,158.0 222.0,159.8 223.0,161.6 223.9,163.2 224.9,165.1 225.9,166.8 226.9,168.6 227.8,170.4 228.8,172.2 229.8,174.0 230.8,175.7 231.7,177.6 232.7,179.5 233.7,181.3 234.7,183.2 235.6,185.1 236.6,187.1 237.6,189.2 238.6,191.5 239.5,193.9 240.5,196.1 241.5,198.4 242.5,200.8 243.4,203.2 244.4,205.5 245.4,207.7 246.4,209.6 247.3,211.5 248.3,213.2 249.3,214.8 250.2,216.3 251.2,217.5 252.2,218.7 253.2,219.9 254.1,220.7 255.1,221.8 256.1,222.7 257.1,223.3 258.0,223.8 259.0,224.5 260.0,225.0 261.0,225.5 261.9,225.8 262.9,226.2 263.9,226.7 264.9,226.9 265.8,227.2 266.8,227.5 267.8,227.7 268.8,227.8 269.7,228.0 270.7,228.3 271.7,228.5 272.7,228.7 273.6,228.8 274.6,229.0 275.6,229.2 276.6,229.4 277.5,229.5 278.5,229.7 279.5,229.9 280.5,230.1 281.4,230.2 282.4,230.4 283.4,230.6 284.4,230.6 285.3,230.7 286.3,230.9 287.3,231.0 288.2,231.1 289.2,231.1 290.2,231.4 291.2,231.4 292.1,231.6 293.1,231.7 294.1,231.7 295.1,231.9 296.0,232.0 297.0,232.0 298.0,232.1 299.0,232.2 299.9,232.1 300.9,232.2 301.9,232.3 302.9,232.4 303.8,232.4 304.8,232.4 305.8,232.5 306.8,232.5 307.7,232.5 308.7,232.5 309.7,232.6 310.7,232.7 311.6,232.6 312.6,232.7 313.6,232.8 314.6,232.7 315.5,232.7 316.5,232.7 317.5,232.8 318.5,232.8 319.4,232.8 320.4,232.9 321.4,232.8 322.3,232.9 323.3,232.9 324.3,233.0 325.3,233.0 326.2,233.0 327.2,233.0 328.2,233.0 329.2,233.0 330.1,233.0 331.1,233.0 332.1,233.1 333.1,233.0 334.0,233.1 335.0,233.0 336.0,233.1 337.0,233.1 337.9,233.0 338.9,233.0 339.9,233.1 340.9,233.1 341.8,233.1 342.8,233.1 343.8,233.1 344.8,233.2 345.7,233.1 346.7,233.1 347.7,233.1 348.7,233.2 349.6,233.2 350.6,233.3 351.6,233.2 352.6,233.2 353.5,233.2 354.5,233.3 355.5,233.2 356.5,233.2 357.4,233.2 358.4,233.2" fill="none" stroke="#a040ff" stroke-width="1.2" stroke-linejoin="round" stroke-opacity="0.92"/>
<polyline points="66.1,185.5 67.1,190.7 68.0,194.7 69.0,197.7 70.0,200.0 71.0,202.0 71.9,203.7 72.9,205.2 73.9,206.8 74.9,208.0 75.8,209.1 76.8,210.1 77.8,211.2 78.8,211.9 79.7,213.0 80.7,214.4 81.7,215.5 82.7,216.5 83.6,217.5 84.6,217.7 85.6,218.0 86.6,217.9 87.5,217.6 88.5,217.3 89.5,217.3 90.5,217.7 91.4,218.4 92.4,219.3 93.4,220.1 94.4,220.6 95.3,221.1 96.3,221.3 97.3,221.5 98.3,221.5 99.2,221.6 100.2,221.7 101.2,221.8 102.2,222.0 103.1,221.9 104.1,221.4 105.1,221.2 106.0,221.6 107.0,221.9 108.0,222.1 109.0,222.1 109.9,222.1 110.9,222.1 111.9,222.0 112.9,221.8 113.8,221.7 114.8,221.3 115.8,221.1 116.8,220.5 117.7,220.1 118.7,219.7 119.7,219.2 120.7,218.8 121.6,218.5 122.6,218.1 123.6,217.7 124.6,217.2 125.5,216.8 126.5,216.2 127.5,215.6 128.5,215.0 129.4,214.4 130.4,213.7 131.4,213.0 132.4,212.3 133.3,211.5 134.3,210.7 135.3,209.9 136.3,209.0 137.2,208.3 138.2,207.3 139.2,206.1 140.1,205.0 141.1,203.5 142.1,202.1 143.1,200.7 144.0,199.3 145.0,197.9 146.0,196.4 147.0,195.2 147.9,193.9 148.9,192.5 149.9,191.2 150.9,189.8 151.8,188.5 152.8,186.9 153.8,185.5 154.8,183.9 155.7,182.5 156.7,181.2 157.7,179.8 158.7,178.4 159.6,177.1 160.6,175.8 161.6,174.4 162.6,173.2 163.5,171.8 164.5,170.4 165.5,169.1 166.5,167.7 167.4,166.3 168.4,165.1 169.4,163.7 170.4,162.4 171.3,161.0 172.3,159.6 173.3,158.3 174.3,156.9 175.2,155.6 176.2,154.3 177.2,153.1 178.1,151.8 179.1,150.4 180.1,149.1 181.1,147.7 182.0,146.3 183.0,145.0 184.0,143.9 185.0,142.8 185.9,141.9 186.9,140.9 187.9,140.3 188.9,139.7 189.8,139.1 190.8,138.6 191.8,138.3 192.8,137.9 193.7,137.9 194.7,137.6 195.7,137.5 196.7,137.3 197.6,137.3 198.6,137.2 199.6,137.3 200.6,137.5 201.5,137.6 202.5,137.8 203.5,138.2 204.5,138.6 205.4,139.1 206.4,139.7 207.4,140.4 208.4,141.1 209.3,141.8 210.3,142.9 211.3,144.1 212.2,145.2 213.2,146.6 214.2,147.9 215.2,149.4 216.1,150.9 217.1,152.7 218.1,154.4 219.1,156.1 220.0,158.0 221.0,159.6 222.0,161.5 223.0,163.2 223.9,164.9 224.9,166.7 225.9,168.5 226.9,170.3 227.8,172.1 228.8,173.8 229.8,175.6 230.8,177.6 231.7,179.4 232.7,181.1 233.7,182.9 234.7,184.8 235.6,186.8 236.6,188.9 237.6,190.9 238.6,193.2 239.5,195.5 240.5,197.8 241.5,200.0 242.5,202.5 243.4,204.8 244.4,207.2 245.4,209.4 246.4,211.4 247.3,213.2 248.3,214.9 249.3,216.5 250.2,217.9 251.2,219.4 252.2,220.5 253.2,221.6 254.1,222.6 255.1,223.6 256.1,224.5 257.1,225.2 258.0,225.8 259.0,226.4 260.0,226.9 261.0,227.3 261.9,227.8 262.9,228.2 263.9,228.5 264.9,228.9 265.8,229.0 266.8,229.4 267.8,229.6 268.8,229.8 269.7,230.1 270.7,230.2 271.7,230.4 272.7,230.7 273.6,230.8 274.6,230.9 275.6,231.2 276.6,231.5 277.5,231.5 278.5,231.7 279.5,231.9 280.5,231.9 281.4,232.3 282.4,232.4 283.4,232.5 284.4,232.8 285.3,232.8 286.3,233.0 287.3,233.1 288.2,233.1 289.2,233.3 290.2,233.5 291.2,233.6 292.1,233.8 293.1,233.7 294.1,234.0 295.1,234.0 296.0,234.1 297.0,234.1 298.0,234.3 299.0,234.4 299.9,234.4 300.9,234.5 301.9,234.5 302.9,234.5 303.8,234.5 304.8,234.8 305.8,234.7 306.8,234.7 307.7,234.7 308.7,234.7 309.7,234.8 310.7,234.8 311.6,234.9 312.6,235.0 313.6,235.0 314.6,234.9 315.5,235.0 316.5,234.9 317.5,235.0 318.5,235.0 319.4,235.1 320.4,235.0 321.4,235.1 322.3,235.1 323.3,235.0 324.3,235.2 325.3,235.1 326.2,235.2 327.2,235.1 328.2,235.2 329.2,235.2 330.1,235.3 331.1,235.2 332.1,235.3 333.1,235.2 334.0,235.3 335.0,235.2 336.0,235.3 337.0,235.2 337.9,235.4 338.9,235.4 339.9,235.3 340.9,235.3 341.8,235.4 342.8,235.4 343.8,235.4 344.8,235.3 345.7,235.3 346.7,235.4 347.7,235.3 348.7,235.3 349.6,235.3 350.6,235.4 351.6,235.3 352.6,235.4 353.5,235.3 354.5,235.5 355.5,235.4 356.5,235.4 357.4,235.4 358.4,235.4" fill="none" stroke="#a040ff" stroke-width="1.2" stroke-linejoin="round" stroke-opacity="0.92"/>
<polyline points="66.1,180.5 67.1,185.9 68.0,190.2 69.0,193.3 70.0,195.8 71.0,198.0 71.9,199.7 72.9,201.5 73.9,203.1 74.9,204.3 75.8,205.6 76.8,206.8 77.8,207.6 78.8,208.7 79.7,209.8 80.7,211.0 81.7,212.3 82.7,213.3 83.6,214.3 84.6,214.6 85.6,214.9 86.6,214.9 87.5,214.6 88.5,214.2 89.5,214.2 90.5,214.6 91.4,215.3 92.4,216.3 93.4,217.0 94.4,217.7 95.3,218.1 96.3,218.4 97.3,218.5 98.3,218.6 99.2,218.7 100.2,218.7 101.2,218.8 102.2,219.0 103.1,218.7 104.1,218.4 105.1,218.2 106.0,218.6 107.0,219.1 108.0,219.2 109.0,219.1 109.9,219.2 110.9,219.1 111.9,219.1 112.9,218.9 113.8,218.7 114.8,218.5 115.8,218.1 116.8,217.8 117.7,217.2 118.7,216.8 119.7,216.4 120.7,216.1 121.6,215.7 122.6,215.4 123.6,215.0 124.6,214.5 125.5,214.1 126.5,213.4 127.5,213.0 128.5,212.4 129.4,211.7 130.4,210.9 131.4,210.2 132.4,209.4 133.3,208.8 134.3,207.9 135.3,207.2 136.3,206.4 137.2,205.5 138.2,204.7 139.2,203.6 140.1,202.3 141.1,201.0 142.1,199.5 143.1,198.1 144.0,196.7 145.0,195.4 146.0,194.1 147.0,192.7 147.9,191.3 148.9,190.0 149.9,188.7 150.9,187.2 151.8,185.8 152.8,184.4 153.8,183.0 154.8,181.5 155.7,180.1 156.7,178.7 157.7,177.3 158.7,176.0 159.6,174.6 160.6,173.3 161.6,171.9 162.6,170.6 163.5,169.3 164.5,168.0 165.5,166.7 166.5,165.3 167.4,164.0 168.4,162.7 169.4,161.4 170.4,160.0 171.3,158.7 172.3,157.3 173.3,155.8 174.3,154.6 175.2,153.2 176.2,152.0 177.2,150.8 178.1,149.5 179.1,148.1 180.1,146.8 181.1,145.3 182.0,144.0 183.0,142.6 184.0,141.6 185.0,140.5 185.9,139.6 186.9,138.8 187.9,138.0 188.9,137.5 189.8,136.9 190.8,136.5 191.8,136.1 192.8,135.7 193.7,135.5 194.7,135.4 195.7,135.3 196.7,135.1 197.6,135.1 198.6,135.1 199.6,135.2 200.6,135.2 201.5,135.4 202.5,135.7 203.5,136.0 204.5,136.3 205.4,136.9 206.4,137.5 207.4,138.2 208.4,139.0 209.3,139.8 210.3,140.8 211.3,141.9 212.2,143.1 213.2,144.4 214.2,145.8 215.2,147.2 216.1,148.9 217.1,150.5 218.1,152.3 219.1,154.1 220.0,155.8 221.0,157.6 222.0,159.3 223.0,161.0 223.9,162.9 224.9,164.6 225.9,166.4 226.9,168.1 227.8,170.0 228.8,171.7 229.8,173.7 230.8,175.4 231.7,177.2 232.7,179.0 233.7,180.9 234.7,182.8 235.6,184.7 236.6,186.8 237.6,188.9 238.6,191.0 239.5,193.5 240.5,195.7 241.5,198.1 242.5,200.4 243.4,202.8 244.4,205.0 245.4,207.4 246.4,209.3 247.3,211.1 248.3,212.8 249.3,214.4 250.2,215.9 251.2,217.0 252.2,218.3 253.2,219.4 254.1,220.4 255.1,221.3 256.1,222.2 257.1,222.9 258.0,223.4 259.0,224.1 260.0,224.5 261.0,224.9 261.9,225.4 262.9,225.8 263.9,226.1 264.9,226.4 265.8,226.9 266.8,227.0 267.8,227.2 268.8,227.4 269.7,227.7 270.7,227.8 271.7,228.1 272.7,228.2 273.6,228.4 274.6,228.5 275.6,228.7 276.6,228.9 277.5,228.9 278.5,229.2 279.5,229.5 280.5,229.5 281.4,229.7 282.4,229.9 283.4,229.9 284.4,230.0 285.3,230.2 286.3,230.4 287.3,230.5 288.2,230.6 289.2,230.7 290.2,230.8 291.2,231.0 292.1,231.0 293.1,231.1 294.1,231.2 295.1,231.4 296.0,231.4 297.0,231.5 298.0,231.6 299.0,231.6 299.9,231.7 300.9,231.7 301.9,231.8 302.9,231.8 303.8,231.9 304.8,231.8 305.8,231.9 306.8,232.0 307.7,232.0 308.7,232.0 309.7,232.2 310.7,232.2 311.6,232.2 312.6,232.3 313.6,232.1 314.6,232.1 315.5,232.2 316.5,232.4 317.5,232.3 318.5,232.4 319.4,232.4 320.4,232.3 321.4,232.4 322.3,232.4 323.3,232.4 324.3,232.4 325.3,232.4 326.2,232.5 327.2,232.5 328.2,232.5 329.2,232.5 330.1,232.5 331.1,232.5 332.1,232.5 333.1,232.6 334.0,232.5 335.0,232.5 336.0,232.6 337.0,232.6 337.9,232.5 338.9,232.6 339.9,232.6 340.9,232.6 341.8,232.6 342.8,232.6 343.8,232.6 344.8,232.7 345.7,232.6 346.7,232.7 347.7,232.7 348.7,232.6 349.6,232.6 350.6,232.7 351.6,232.6 352.6,232.7 353.5,232.7 354.5,232.7 355.5,232.7 356.5,232.7 357.4,232.7 358.4,232.8" fill="none" stroke="#a020a0" stroke-width="1.2" stroke-linejoin="round" stroke-opacity="0.92"/>
<polyline points="66.1,184.5 67.1,189.8 68.0,194.0 69.0,196.9 70.0,199.2 71.0,201.2 71.9,203.0 72.9,204.6 73.9,206.0 74.9,207.2 75.8,208.5 76.8,209.5 77.8,210.5 78.8,211.3 79.7,212.4 80.7,213.8 81.7,214.9 82.7,216.0 83.6,216.8 84.6,217.2 85.6,217.3 86.6,217.4 87.5,217.0 88.5,216.7 89.5,216.7 90.5,217.1 91.4,217.7 92.4,218.7 93.4,219.6 94.4,220.0 95.3,220.5 96.3,220.7 97.3,221.0 98.3,220.9 99.2,221.1 100.2,221.1 101.2,221.3 102.2,221.3 103.1,221.5 104.1,220.9 105.1,220.7 106.0,221.0 107.0,221.4 108.0,221.6 109.0,221.5 109.9,221.6 110.9,221.5 111.9,221.5 112.9,221.3 113.8,221.0 114.8,221.0 115.8,220.6 116.8,220.1 117.7,219.5 118.7,219.1 119.7,218.7 120.7,218.4 121.6,218.1 122.6,217.6 123.6,217.3 124.6,216.8 125.5,216.2 126.5,215.7 127.5,215.1 128.5,214.6 129.4,213.9 130.4,213.1 131.4,212.4 132.4,211.7 133.3,210.9 134.3,210.2 135.3,209.4 136.3,208.6 137.2,207.7 138.2,206.8 139.2,205.6 140.1,204.4 141.1,203.1 142.1,201.6 143.1,200.1 144.0,198.8 145.0,197.5 146.0,196.2 147.0,194.7 147.9,193.4 148.9,192.0 149.9,190.7 150.9,189.2 151.8,188.0 152.8,186.4 153.8,184.9 154.8,183.6 155.7,182.2 156.7,180.8 157.7,179.3 158.7,178.0 159.6,176.6 160.6,175.3 161.6,174.0 162.6,172.5 163.5,171.3 164.5,169.9 165.5,168.5 166.5,167.3 167.4,165.9 168.4,164.6 169.4,163.2 170.4,161.9 171.3,160.5 172.3,159.1 173.3,157.8 174.3,156.5 175.2,155.1 176.2,153.9 177.2,152.6 178.1,151.3 179.1,150.0 180.1,148.5 181.1,147.2 182.0,145.7 183.0,144.5 184.0,143.4 185.0,142.2 185.9,141.4 186.9,140.5 187.9,139.8 188.9,139.2 189.8,138.6 190.8,138.2 191.8,137.9 192.8,137.6 193.7,137.3 194.7,137.2 195.7,137.1 196.7,137.0 197.6,136.9 198.6,136.8 199.6,136.9 200.6,137.0 201.5,137.1 202.5,137.4 203.5,137.8 204.5,138.1 205.4,138.7 206.4,139.2 207.4,139.9 208.4,140.7 209.3,141.5 210.3,142.5 211.3,143.7 212.2,144.8 213.2,146.1 214.2,147.5 215.2,149.0 216.1,150.6 217.1,152.3 218.1,154.0 219.1,155.7 220.0,157.6 221.0,159.3 222.0,161.1 223.0,162.9 223.9,164.5 224.9,166.3 225.9,168.1 226.9,169.9 227.8,171.6 228.8,173.5 229.8,175.3 230.8,177.1 231.7,178.9 232.7,180.8 233.7,182.6 234.7,184.3 235.6,186.3 236.6,188.4 237.6,190.6 238.6,192.9 239.5,195.1 240.5,197.4 241.5,199.7 242.5,202.1 243.4,204.5 244.4,206.8 245.4,208.9 246.4,211.0 247.3,212.9 248.3,214.6 249.3,216.2 250.2,217.5 251.2,218.9 252.2,220.1 253.2,221.2 254.1,222.2 255.1,223.1 256.1,224.0 257.1,224.7 258.0,225.4 259.0,225.9 260.0,226.4 261.0,226.9 261.9,227.4 262.9,227.7 263.9,228.0 264.9,228.4 265.8,228.7 266.8,228.9 267.8,229.2 268.8,229.4 269.7,229.5 270.7,229.8 271.7,230.0 272.7,230.2 273.6,230.3 274.6,230.5 275.6,230.8 276.6,230.9 277.5,231.2 278.5,231.2 279.5,231.5 280.5,231.5 281.4,231.8 282.4,231.8 283.4,232.0 284.4,232.2 285.3,232.3 286.3,232.5 287.3,232.6 288.2,232.7 289.2,232.8 290.2,232.9 291.2,233.1 292.1,233.2 293.1,233.4 294.1,233.5 295.1,233.5 296.0,233.6 297.0,233.7 298.0,233.8 299.0,233.9 299.9,233.9 300.9,234.1 301.9,234.0 302.9,234.0 303.8,234.1 304.8,234.1 305.8,234.3 306.8,234.2 307.7,234.2 308.7,234.3 309.7,234.3 310.7,234.3 311.6,234.3 312.6,234.4 313.6,234.4 314.6,234.4 315.5,234.5 316.5,234.5 317.5,234.5 318.5,234.5 319.4,234.6 320.4,234.5 321.4,234.6 322.3,234.5 323.3,234.6 324.3,234.7 325.3,234.6 326.2,234.7 327.2,234.7 328.2,234.7 329.2,234.6 330.1,234.6 331.1,234.7 332.1,234.7 333.1,234.6 334.0,234.7 335.0,234.8 336.0,234.7 337.0,234.7 337.9,234.7 338.9,234.7 339.9,234.7 340.9,234.8 341.8,234.8 342.8,234.9 343.8,234.8 344.8,234.9 345.7,234.9 346.7,234.9 347.7,234.8 348.7,234.8 349.6,234.9 350.6,235.0 351.6,234.9 352.6,234.9 353.5,234.9 354.5,234.9 355.5,235.0 356.5,234.8 357.4,234.9 358.4,234.9" fill="none" stroke="#a020a0" stroke-width="1.2" stroke-linejoin="round" stroke-opacity="0.92"/>
<polyline points="66.1,182.9 67.1,188.2 68.0,192.4 69.0,195.4 70.0,197.8 71.0,199.9 71.9,201.6 72.9,203.2 73.9,204.8 74.9,206.2 75.8,207.3 76.8,208.4 77.8,209.3 78.8,210.2 79.7,211.3 80.7,212.6 81.7,213.7 82.7,214.9 83.6,215.8 84.6,216.2 85.6,216.3 86.6,216.3 87.5,216.1 88.5,215.5 89.5,215.7 90.5,216.1 91.4,216.8 92.4,217.8 93.4,218.5 94.4,219.1 95.3,219.6 96.3,219.9 97.3,219.9 98.3,219.9 99.2,220.1 100.2,220.2 101.2,220.3 102.2,220.4 103.1,220.3 104.1,219.8 105.1,219.7 106.0,219.9 107.0,220.4 108.0,220.5 109.0,220.6 109.9,220.5 110.9,220.4 111.9,220.5 112.9,220.4 113.8,220.1 114.8,219.9 115.8,219.6 116.8,219.1 117.7,218.5 118.7,218.1 119.7,217.8 120.7,217.4 121.6,217.2 122.6,216.7 123.6,216.2 124.6,215.8 125.5,215.3 126.5,214.8 127.5,214.2 128.5,213.6 129.4,213.0 130.4,212.3 131.4,211.6 132.4,210.8 133.3,210.1 134.3,209.2 135.3,208.6 136.3,207.7 137.2,206.9 138.2,206.0 139.2,204.8 140.1,203.7 141.1,202.1 142.1,200.8 143.1,199.4 144.0,198.0 145.0,196.6 146.0,195.3 147.0,193.9 147.9,192.5 148.9,191.1 149.9,189.9 150.9,188.4 151.8,187.0 152.8,185.6 153.8,184.2 154.8,182.6 155.7,181.2 156.7,180.0 157.7,178.4 158.7,177.1 159.6,175.8 160.6,174.4 161.6,173.2 162.6,171.8 163.5,170.4 164.5,169.2 165.5,167.9 166.5,166.5 167.4,165.1 168.4,163.9 169.4,162.5 170.4,161.2 171.3,159.7 172.3,158.3 173.3,157.0 174.3,155.6 175.2,154.3 176.2,153.1 177.2,151.9 178.1,150.6 179.1,149.2 180.1,147.8 181.1,146.4 182.0,145.0 183.0,143.8 184.0,142.7 185.0,141.6 185.9,140.6 186.9,139.7 187.9,139.1 188.9,138.5 189.8,137.9 190.8,137.5 191.8,137.1 192.8,136.8 193.7,136.6 194.7,136.4 195.7,136.4 196.7,136.1 197.6,136.1 198.6,136.1 199.6,136.1 200.6,136.3 201.5,136.5 202.5,136.7 203.5,137.0 204.5,137.5 205.4,137.9 206.4,138.5 207.4,139.2 208.4,140.0 209.3,140.8 210.3,141.8 211.3,142.8 212.2,144.0 213.2,145.5 214.2,146.8 215.2,148.4 216.1,149.9 217.1,151.6 218.1,153.3 219.1,155.0 220.0,156.8 221.0,158.6 222.0,160.4 223.0,162.2 223.9,163.9 224.9,165.5 225.9,167.3 226.9,169.2 227.8,171.0 228.8,172.8 229.8,174.5 230.8,176.4 231.7,178.3 232.7,180.1 233.7,181.9 234.7,183.8 235.6,185.7 236.6,187.7 237.6,190.0 238.6,192.2 239.5,194.5 240.5,196.7 241.5,199.0 242.5,201.4 243.4,203.8 244.4,206.1 245.4,208.2 246.4,210.3 247.3,212.2 248.3,213.8 249.3,215.4 250.2,216.9 251.2,218.1 252.2,219.4 253.2,220.5 254.1,221.5 255.1,222.4 256.1,223.2 257.1,223.9 258.0,224.6 259.0,225.1 260.0,225.6 261.0,226.1 261.9,226.5 262.9,226.9 263.9,227.2 264.9,227.5 265.8,227.8 266.8,228.2 267.8,228.3 268.8,228.6 269.7,228.7 270.7,229.1 271.7,229.2 272.7,229.3 273.6,229.6 274.6,229.7 275.6,229.8 276.6,230.1 277.5,230.2 278.5,230.4 279.5,230.6 280.5,230.6 281.4,230.9 282.4,231.0 283.4,231.2 284.4,231.3 285.3,231.5 286.3,231.5 287.3,231.7 288.2,231.9 289.2,232.0 290.2,232.1 291.2,232.3 292.1,232.4 293.1,232.5 294.1,232.6 295.1,232.5 296.0,232.7 297.0,232.7 298.0,232.8 299.0,232.9 299.9,233.0 300.9,233.0 301.9,233.1 302.9,233.2 303.8,233.1 304.8,233.1 305.8,233.2 306.8,233.3 307.7,233.4 308.7,233.2 309.7,233.3 310.7,233.5 311.6,233.5 312.6,233.5 313.6,233.5 314.6,233.5 315.5,233.6 316.5,233.6 317.5,233.6 318.5,233.6 319.4,233.7 320.4,233.6 321.4,233.6 322.3,233.7 323.3,233.8 324.3,233.7 325.3,233.8 326.2,233.8 327.2,233.7 328.2,233.7 329.2,233.8 330.1,233.8 331.1,233.7 332.1,233.9 333.1,233.8 334.0,233.8 335.0,233.8 336.0,233.9 337.0,233.9 337.9,233.8 338.9,233.8 339.9,233.9 340.9,233.9 341.8,233.9 342.8,233.9 343.8,234.0 344.8,233.9 345.7,233.9 346.7,234.0 347.7,233.9 348.7,234.0 349.6,234.1 350.6,234.0 351.6,234.1 352.6,233.9 353.5,234.0 354.5,233.9 355.5,234.1 356.5,234.0 357.4,233.9 358.4,233.9" fill="none" stroke="#800000" stroke-width="1.2" stroke-linejoin="round" stroke-opacity="0.92"/>
<polyline points="66.1,179.6 67.1,185.0 68.0,189.4 69.0,192.5 70.0,195.0 71.0,197.2 71.9,199.2 72.9,200.8 73.9,202.4 74.9,203.8 75.8,204.9 76.8,206.0 77.8,207.0 78.8,207.9 79.7,209.1 80.7,210.5 81.7,211.6 82.7,212.7 83.6,213.6 84.6,214.0 85.6,214.2 86.6,214.2 87.5,214.1 88.5,213.6 89.5,213.6 90.5,214.1 91.4,214.8 92.4,215.8 93.4,216.5 94.4,217.2 95.3,217.5 96.3,217.8 97.3,217.9 98.3,218.0 99.2,218.0 100.2,218.2 101.2,218.3 102.2,218.5 103.1,218.4 104.1,217.9 105.1,217.7 106.0,218.0 107.0,218.5 108.0,218.6 109.0,218.6 109.9,218.5 110.9,218.5 111.9,218.6 112.9,218.4 113.8,218.2 114.8,218.0 115.8,217.6 116.8,217.1 117.7,216.6 118.7,216.2 119.7,215.9 120.7,215.5 121.6,215.2 122.6,214.8 123.6,214.4 124.6,214.1 125.5,213.4 126.5,213.0 127.5,212.3 128.5,211.8 129.4,211.1 130.4,210.5 131.4,209.8 132.4,208.9 133.3,208.2 134.3,207.6 135.3,206.7 136.3,206.0 137.2,205.1 138.2,204.2 139.2,203.1 140.1,201.9 141.1,200.6 142.1,199.1 143.1,197.6 144.0,196.3 145.0,194.8 146.0,193.5 147.0,192.2 147.9,190.9 148.9,189.4 149.9,188.2 150.9,186.8 151.8,185.4 152.8,183.9 153.8,182.6 154.8,181.1 155.7,179.7 156.7,178.2 157.7,176.9 158.7,175.4 159.6,174.1 160.6,172.9 161.6,171.6 162.6,170.2 163.5,168.9 164.5,167.6 165.5,166.1 166.5,164.8 167.4,163.4 168.4,162.3 169.4,160.9 170.4,159.6 171.3,158.2 172.3,156.8 173.3,155.3 174.3,154.0 175.2,152.8 176.2,151.6 177.2,150.3 178.1,149.0 179.1,147.7 180.1,146.3 181.1,144.9 182.0,143.6 183.0,142.3 184.0,141.2 185.0,140.2 185.9,139.1 186.9,138.4 187.9,137.5 188.9,136.9 189.8,136.3 190.8,136.0 191.8,135.6 192.8,135.3 193.7,135.1 194.7,135.0 195.7,134.8 196.7,134.7 197.6,134.6 198.6,134.7 199.6,134.6 200.6,134.9 201.5,135.0 202.5,135.2 203.5,135.5 204.5,136.0 205.4,136.5 206.4,137.1 207.4,137.8 208.4,138.6 209.3,139.4 210.3,140.4 211.3,141.4 212.2,142.7 213.2,144.0 214.2,145.3 215.2,146.9 216.1,148.4 217.1,150.1 218.1,151.8 219.1,153.6 220.0,155.5 221.0,157.2 222.0,158.9 223.0,160.7 223.9,162.5 224.9,164.1 225.9,166.0 226.9,167.7 227.8,169.5 228.8,171.3 229.8,173.1 230.8,175.0 231.7,176.8 232.7,178.7 233.7,180.6 234.7,182.4 235.6,184.3 236.6,186.4 237.6,188.5 238.6,190.7 239.5,193.0 240.5,195.3 241.5,197.7 242.5,200.0 243.4,202.4 244.4,204.7 245.4,206.9 246.4,208.9 247.3,210.7 248.3,212.4 249.3,214.0 250.2,215.4 251.2,216.7 252.2,217.9 253.2,219.0 254.1,220.0 255.1,221.0 256.1,221.7 257.1,222.5 258.0,223.1 259.0,223.6 260.0,224.2 261.0,224.6 261.9,225.1 262.9,225.4 263.9,225.8 264.9,226.1 265.8,226.3 266.8,226.6 267.8,226.8 268.8,226.9 269.7,227.1 270.7,227.4 271.7,227.5 272.7,227.7 273.6,227.8 274.6,228.1 275.6,228.2 276.6,228.4 277.5,228.6 278.5,228.8 279.5,228.8 280.5,229.1 281.4,229.3 282.4,229.3 283.4,229.5 284.4,229.6 285.3,229.8 286.3,230.0 287.3,230.1 288.2,230.1 289.2,230.2 290.2,230.4 291.2,230.5 292.1,230.5 293.1,230.7 294.1,230.9 295.1,230.8 296.0,230.9 297.0,231.0 298.0,231.0 299.0,231.1 299.9,231.3 300.9,231.3 301.9,231.3 302.9,231.3 303.8,231.3 304.8,231.4 305.8,231.4 306.8,231.5 307.7,231.5 308.7,231.6 309.7,231.6 310.7,231.6 311.6,231.7 312.6,231.6 313.6,231.7 314.6,231.7 315.5,231.7 316.5,231.8 317.5,231.7 318.5,231.8 319.4,231.8 320.4,231.8 321.4,231.9 322.3,231.9 323.3,231.9 324.3,231.9 325.3,232.0 326.2,232.0 327.2,232.0 328.2,232.0 329.2,232.0 330.1,232.0 331.1,232.1 332.1,231.9 333.1,232.0 334.0,232.0 335.0,232.0 336.0,232.0 337.0,232.1 337.9,232.1 338.9,232.1 339.9,232.1 340.9,232.1 341.8,232.1 342.8,232.3 343.8,232.1 344.8,232.2 345.7,232.2 346.7,232.2 347.7,232.2 348.7,232.2 349.6,232.2 350.6,232.2 351.6,232.2 352.6,232.2 353.5,232.2 354.5,232.2 355.5,232.1 356.5,232.2 357.4,232.3 358.4,232.3" fill="none" stroke="#ff0080" stroke-width="1.2" stroke-linejoin="round" stroke-opacity="0.92"/>
<polyline points="66.1,179.7 67.1,185.3 68.0,189.6 69.0,192.8 70.0,195.2 71.0,197.4 71.9,199.2 72.9,200.9 73.9,202.5 74.9,203.9 75.8,205.2 76.8,206.3 77.8,207.2 78.8,208.1 79.7,209.4 80.7,210.7 81.7,211.8 82.7,212.8 83.6,213.8 84.6,214.2 85.6,214.3 86.6,214.5 87.5,214.1 88.5,213.6 89.5,213.8 90.5,214.2 91.4,214.9 92.4,215.9 93.4,216.6 94.4,217.2 95.3,217.7 96.3,217.9 97.3,218.1 98.3,218.2 99.2,218.2 100.2,218.3 101.2,218.4 102.2,218.5 103.1,218.6 104.1,218.0 105.1,217.8 106.0,218.2 107.0,218.6 108.0,218.7 109.0,218.6 109.9,218.8 110.9,218.7 111.9,218.7 112.9,218.7 113.8,218.4 114.8,218.1 115.8,217.7 116.8,217.2 117.7,216.8 118.7,216.4 119.7,216.0 120.7,215.6 121.6,215.4 122.6,215.0 123.6,214.6 124.6,214.2 125.5,213.5 126.5,213.1 127.5,212.5 128.5,211.8 129.4,211.3 130.4,210.6 131.4,209.8 132.4,209.2 133.3,208.4 134.3,207.6 135.3,206.8 136.3,206.0 137.2,205.2 138.2,204.2 139.2,203.1 140.1,201.9 141.1,200.6 142.1,199.2 143.1,197.8 144.0,196.3 145.0,195.1 146.0,193.6 147.0,192.2 147.9,191.0 148.9,189.7 149.9,188.3 150.9,186.9 151.8,185.5 152.8,184.1 153.8,182.7 154.8,181.2 155.7,179.7 156.7,178.4 157.7,177.0 158.7,175.6 159.6,174.3 160.6,173.0 161.6,171.6 162.6,170.3 163.5,168.9 164.5,167.6 165.5,166.4 166.5,165.0 167.4,163.6 168.4,162.4 169.4,161.0 170.4,159.6 171.3,158.2 172.3,156.9 173.3,155.4 174.3,154.3 175.2,153.0 176.2,151.6 177.2,150.4 178.1,149.1 179.1,147.8 180.1,146.4 181.1,145.0 182.0,143.6 183.0,142.5 184.0,141.2 185.0,140.2 185.9,139.2 186.9,138.5 187.9,137.7 188.9,137.1 189.8,136.5 190.8,136.0 191.8,135.7 192.8,135.5 193.7,135.2 194.7,135.0 195.7,135.0 196.7,134.8 197.6,134.7 198.6,134.7 199.6,134.8 200.6,134.9 201.5,135.1 202.5,135.4 203.5,135.6 204.5,136.1 205.4,136.6 206.4,137.3 207.4,137.9 208.4,138.6 209.3,139.5 210.3,140.5 211.3,141.5 212.2,142.7 213.2,144.1 214.2,145.5 215.2,147.0 216.1,148.6 217.1,150.2 218.1,151.9 219.1,153.7 220.0,155.6 221.0,157.3 222.0,159.1 223.0,160.8 223.9,162.6 224.9,164.4 225.9,166.0 226.9,167.7 227.8,169.5 228.8,171.4 229.8,173.3 230.8,175.1 231.7,177.0 232.7,178.7 233.7,180.6 234.7,182.5 235.6,184.4 236.6,186.4 237.6,188.6 238.6,190.8 239.5,193.2 240.5,195.4 241.5,197.8 242.5,200.0 243.4,202.5 244.4,204.8 245.4,207.0 246.4,209.1 247.3,210.9 248.3,212.5 249.3,214.0 250.2,215.5 251.2,216.8 252.2,218.0 253.2,219.2 254.1,220.2 255.1,221.1 256.1,221.9 257.1,222.6 258.0,223.1 259.0,223.8 260.0,224.2 261.0,224.6 261.9,225.0 262.9,225.6 263.9,225.9 264.9,226.1 265.8,226.5 266.8,226.7 267.8,227.0 268.8,227.2 269.7,227.4 270.7,227.5 271.7,227.6 272.7,227.8 273.6,228.0 274.6,228.3 275.6,228.4 276.6,228.5 277.5,228.7 278.5,228.9 279.5,229.1 280.5,229.2 281.4,229.4 282.4,229.5 283.4,229.6 284.4,229.7 285.3,229.8 286.3,230.1 287.3,230.1 288.2,230.2 289.2,230.4 290.2,230.4 291.2,230.6 292.1,230.6 293.1,230.7 294.1,230.9 295.1,231.0 296.0,231.1 297.0,231.2 298.0,231.1 299.0,231.2 299.9,231.2 300.9,231.3 301.9,231.4 302.9,231.4 303.8,231.5 304.8,231.6 305.8,231.6 306.8,231.6 307.7,231.7 308.7,231.7 309.7,231.7 310.7,231.8 311.6,231.8 312.6,231.7 313.6,231.7 314.6,231.9 315.5,231.9 316.5,231.9 317.5,231.9 318.5,231.8 319.4,231.9 320.4,231.9 321.4,231.9 322.3,232.0 323.3,232.0 324.3,232.0 325.3,232.0 326.2,232.1 327.2,232.0 328.2,232.0 329.2,232.0 330.1,232.1 331.1,232.2 332.1,232.2 333.1,232.1 334.0,232.1 335.0,232.2 336.0,232.2 337.0,232.2 337.9,232.3 338.9,232.2 339.9,232.3 340.9,232.2 341.8,232.2 342.8,232.3 343.8,232.2 344.8,232.2 345.7,232.3 346.7,232.3 347.7,232.2 348.7,232.3 349.6,232.2 350.6,232.4 351.6,232.3 352.6,232.3 353.5,232.4 354.5,232.5 355.5,232.3 356.5,232.4 357.4,232.4 358.4,232.3" fill="none" stroke="#000000" stroke-width="1.2" stroke-linejoin="round" stroke-opacity="0.92"/>
<polyline points="66.1,186.1 67.1,191.4 68.0,195.4 69.0,198.3 70.0,200.5 71.0,202.6 71.9,204.1 72.9,205.8 73.9,207.2 74.9,208.7 75.8,209.5 76.8,210.7 77.8,211.6 78.8,212.5 79.7,213.5 80.7,214.8 81.7,215.9 82.7,217.1 83.6,217.8 84.6,218.2 85.6,218.3 86.6,218.4 87.5,218.1 88.5,217.7 89.5,217.7 90.5,218.1 91.4,218.7 92.4,219.7 93.4,220.5 94.4,221.0 95.3,221.5 96.3,221.8 97.3,221.9 98.3,221.9 99.2,222.0 100.2,222.2 101.2,222.2 102.2,222.4 103.1,222.3 104.1,221.8 105.1,221.7 106.0,222.0 107.0,222.4 108.0,222.5 109.0,222.5 109.9,222.5 110.9,222.6 111.9,222.4 112.9,222.2 113.8,222.1 114.8,221.9 115.8,221.4 116.8,220.9 117.7,220.5 118.7,220.0 119.7,219.6 120.7,219.3 121.6,218.9 122.6,218.5 123.6,218.1 124.6,217.7 125.5,217.2 126.5,216.7 127.5,216.1 128.5,215.3 129.4,214.7 130.4,214.1 131.4,213.3 132.4,212.6 133.3,211.8 134.3,211.0 135.3,210.3 136.3,209.5 137.2,208.6 138.2,207.7 139.2,206.5 140.1,205.4 141.1,203.9 142.1,202.5 143.1,201.0 144.0,199.7 145.0,198.4 146.0,197.0 147.0,195.6 147.9,194.3 148.9,192.9 149.9,191.6 150.9,190.0 151.8,188.7 152.8,187.3 153.8,185.9 154.8,184.4 155.7,182.9 156.7,181.5 157.7,180.1 158.7,178.6 159.6,177.4 160.6,176.1 161.6,174.8 162.6,173.4 163.5,172.0 164.5,170.7 165.5,169.5 166.5,168.1 167.4,166.8 168.4,165.4 169.4,164.1 170.4,162.7 171.3,161.4 172.3,160.0 173.3,158.5 174.3,157.2 175.2,155.8 176.2,154.6 177.2,153.4 178.1,152.1 179.1,150.8 180.1,149.4 181.1,148.0 182.0,146.6 183.0,145.4 184.0,144.2 185.0,143.1 185.9,142.2 186.9,141.3 187.9,140.6 188.9,140.0 189.8,139.5 190.8,139.0 191.8,138.6 192.8,138.3 193.7,138.1 194.7,137.9 195.7,137.8 196.7,137.7 197.6,137.7 198.6,137.5 199.6,137.5 200.6,137.8 201.5,138.0 202.5,138.2 203.5,138.5 204.5,139.0 205.4,139.3 206.4,140.1 207.4,140.6 208.4,141.5 209.3,142.3 210.3,143.3 211.3,144.3 212.2,145.5 213.2,146.8 214.2,148.2 215.2,149.7 216.1,151.3 217.1,153.0 218.1,154.7 219.1,156.4 220.0,158.3 221.0,160.0 222.0,161.8 223.0,163.6 223.9,165.2 224.9,167.1 225.9,168.7 226.9,170.5 227.8,172.4 228.8,174.1 229.8,176.0 230.8,177.8 231.7,179.7 232.7,181.4 233.7,183.3 234.7,185.2 235.6,187.1 236.6,189.2 237.6,191.3 238.6,193.5 239.5,195.8 240.5,198.1 241.5,200.5 242.5,202.8 243.4,205.2 244.4,207.4 245.4,209.7 246.4,211.8 247.3,213.5 248.3,215.2 249.3,216.8 250.2,218.3 251.2,219.5 252.2,220.9 253.2,221.9 254.1,222.9 255.1,223.9 256.1,224.6 257.1,225.5 258.0,226.1 259.0,226.7 260.0,227.2 261.0,227.6 261.9,228.1 262.9,228.5 263.9,228.8 264.9,229.2 265.8,229.4 266.8,229.7 267.8,230.0 268.8,230.0 269.7,230.3 270.7,230.6 271.7,230.7 272.7,231.0 273.6,231.1 274.6,231.3 275.6,231.5 276.6,231.7 277.5,231.9 278.5,232.0 279.5,232.2 280.5,232.3 281.4,232.7 282.4,232.7 283.4,232.9 284.4,233.1 285.3,233.2 286.3,233.2 287.3,233.4 288.2,233.5 289.2,233.8 290.2,233.8 291.2,233.9 292.1,234.0 293.1,234.1 294.1,234.3 295.1,234.5 296.0,234.5 297.0,234.6 298.0,234.7 299.0,234.8 299.9,234.9 300.9,235.0 301.9,234.9 302.9,235.0 303.8,235.0 304.8,235.0 305.8,235.1 306.8,235.1 307.7,235.1 308.7,235.2 309.7,235.3 310.7,235.3 311.6,235.3 312.6,235.4 313.6,235.3 314.6,235.4 315.5,235.4 316.5,235.4 317.5,235.4 318.5,235.4 319.4,235.4 320.4,235.4 321.4,235.5 322.3,235.5 323.3,235.5 324.3,235.6 325.3,235.5 326.2,235.6 327.2,235.6 328.2,235.5 329.2,235.6 330.1,235.7 331.1,235.6 332.1,235.6 333.1,235.7 334.0,235.6 335.0,235.6 336.0,235.6 337.0,235.6 337.9,235.7 338.9,235.6 339.9,235.7 340.9,235.7 341.8,235.6 342.8,235.7 343.8,235.7 344.8,235.7 345.7,235.7 346.7,235.8 347.7,235.6 348.7,235.8 349.6,235.7 350.6,235.8 351.6,235.8 352.6,235.7 353.5,235.8 354.5,235.9 355.5,235.8 356.5,235.7 357.4,235.8 358.4,235.8" fill="none" stroke="#008080" stroke-width="1.2" stroke-linejoin="round" stroke-opacity="0.92"/>
<polyline points="66.1,186.7 67.1,191.8 68.0,195.8 69.0,198.8 70.0,201.1 71.0,202.8 71.9,204.6 72.9,206.2 73.9,207.6 74.9,208.8 75.8,210.0 76.8,211.1 77.8,211.8 78.8,212.8 79.7,213.9 80.7,215.1 81.7,216.3 82.7,217.3 83.6,218.1 84.6,218.6 85.6,218.6 86.6,218.7 87.5,218.3 88.5,217.9 89.5,217.9 90.5,218.3 91.4,219.0 92.4,220.0 93.4,220.8 94.4,221.4 95.3,221.8 96.3,222.0 97.3,222.2 98.3,222.2 99.2,222.4 100.2,222.4 101.2,222.5 102.2,222.6 103.1,222.5 104.1,222.2 105.1,221.9 106.0,222.3 107.0,222.7 108.0,222.8 109.0,222.8 109.9,222.7 110.9,222.8 111.9,222.7 112.9,222.6 113.8,222.3 114.8,222.1 115.8,221.7 116.8,221.2 117.7,220.7 118.7,220.3 119.7,219.9 120.7,219.5 121.6,219.2 122.6,218.8 123.6,218.4 124.6,217.9 125.5,217.4 126.5,216.8 127.5,216.3 128.5,215.7 129.4,215.0 130.4,214.3 131.4,213.6 132.4,212.7 133.3,212.0 134.3,211.3 135.3,210.5 136.3,209.7 137.2,208.7 138.2,207.9 139.2,206.8 140.1,205.6 141.1,204.2 142.1,202.6 143.1,201.3 144.0,199.9 145.0,198.6 146.0,197.2 147.0,195.8 147.9,194.5 148.9,193.1 149.9,191.7 150.9,190.3 151.8,188.9 152.8,187.5 153.8,186.1 154.8,184.5 155.7,183.2 156.7,181.7 157.7,180.4 158.7,179.0 159.6,177.6 160.6,176.4 161.6,174.9 162.6,173.7 163.5,172.3 164.5,170.9 165.5,169.7 166.5,168.2 167.4,166.9 168.4,165.8 169.4,164.2 170.4,162.9 171.3,161.6 172.3,160.2 173.3,158.7 174.3,157.5 175.2,156.1 176.2,154.8 177.2,153.7 178.1,152.3 179.1,150.9 180.1,149.7 181.1,148.3 182.0,146.9 183.0,145.5 184.0,144.4 185.0,143.4 185.9,142.5 186.9,141.6 187.9,140.7 188.9,140.2 189.8,139.7 190.8,139.2 191.8,138.8 192.8,138.6 193.7,138.2 194.7,138.1 195.7,138.0 196.7,137.9 197.6,137.8 198.6,137.8 199.6,137.8 200.6,137.9 201.5,138.1 202.5,138.5 203.5,138.7 204.5,139.1 205.4,139.6 206.4,140.2 207.4,140.8 208.4,141.7 209.3,142.5 210.3,143.4 211.3,144.6 212.2,145.7 213.2,147.0 214.2,148.4 215.2,149.9 216.1,151.5 217.1,153.2 218.1,154.9 219.1,156.6 220.0,158.4 221.0,160.2 222.0,161.9 223.0,163.7 223.9,165.5 224.9,167.2 225.9,168.9 226.9,170.8 227.8,172.5 228.8,174.3 229.8,176.1 230.8,178.0 231.7,179.8 232.7,181.7 233.7,183.5 234.7,185.3 235.6,187.3 236.6,189.4 237.6,191.5 238.6,193.7 239.5,196.0 240.5,198.3 241.5,200.5 242.5,203.0 243.4,205.4 244.4,207.7 245.4,209.9 246.4,211.9 247.3,213.7 248.3,215.4 249.3,217.1 250.2,218.4 251.2,219.8 252.2,220.9 253.2,222.1 254.1,223.2 255.1,224.1 256.1,225.0 257.1,225.7 258.0,226.3 259.0,226.8 260.0,227.4 261.0,227.9 261.9,228.2 262.9,228.7 263.9,229.0 264.9,229.3 265.8,229.6 266.8,230.0 267.8,230.2 268.8,230.3 269.7,230.5 270.7,230.8 271.7,230.9 272.7,231.3 273.6,231.4 274.6,231.6 275.6,231.8 276.6,232.0 277.5,232.1 278.5,232.2 279.5,232.4 280.5,232.6 281.4,232.8 282.4,232.9 283.4,233.1 284.4,233.4 285.3,233.4 286.3,233.5 287.3,233.8 288.2,233.8 289.2,233.9 290.2,234.1 291.2,234.2 292.1,234.3 293.1,234.5 294.1,234.6 295.1,234.7 296.0,234.8 297.0,234.9 298.0,234.9 299.0,235.0 299.9,235.0 300.9,235.2 301.9,235.2 302.9,235.2 303.8,235.2 304.8,235.3 305.8,235.4 306.8,235.4 307.7,235.4 308.7,235.5 309.7,235.5 310.7,235.6 311.6,235.6 312.6,235.6 313.6,235.6 314.6,235.7 315.5,235.6 316.5,235.6 317.5,235.6 318.5,235.7 319.4,235.7 320.4,235.6 321.4,235.6 322.3,235.7 323.3,235.8 324.3,235.8 325.3,235.7 326.2,235.8 327.2,235.9 328.2,235.8 329.2,235.8 330.1,235.9 331.1,235.9 332.1,235.9 333.1,235.9 334.0,235.9 335.0,235.9 336.0,235.9 337.0,236.0 337.9,235.9 338.9,235.9 339.9,235.9 340.9,236.0 341.8,236.0 342.8,236.1 343.8,236.0 344.8,236.0 345.7,236.0 346.7,236.0 347.7,236.1 348.7,236.1 349.6,236.0 350.6,236.0 351.6,236.1 352.6,236.0 353.5,236.0 354.5,236.0 355.5,236.0 356.5,236.2 357.4,236.0 358.4,236.0" fill="none" stroke="#008080" stroke-width="1.2" stroke-linejoin="round" stroke-opacity="0.92"/>
<polyline points="66.1,178.2 67.1,183.7 68.0,188.1 69.0,191.4 70.0,193.9 71.0,196.1 71.9,197.9 72.9,199.6 73.9,201.2 74.9,202.6 75.8,204.0 76.8,205.1 77.8,206.1 78.8,207.1 79.7,208.3 80.7,209.5 81.7,210.9 82.7,211.9 83.6,212.6 84.6,213.1 85.6,213.3 86.6,213.4 87.5,213.2 88.5,212.7 89.5,212.8 90.5,213.2 91.4,213.9 92.4,214.9 93.4,215.6 94.4,216.2 95.3,216.6 96.3,217.0 97.3,217.1 98.3,217.2 99.2,217.3 100.2,217.3 101.2,217.5 102.2,217.5 103.1,217.5 104.1,216.9 105.1,216.8 106.0,217.1 107.0,217.7 108.0,217.7 109.0,217.7 109.9,217.8 110.9,217.7 111.9,217.8 112.9,217.5 113.8,217.4 114.8,217.1 115.8,216.7 116.8,216.4 117.7,215.9 118.7,215.4 119.7,215.1 120.7,214.8 121.6,214.4 122.6,214.0 123.6,213.7 124.6,213.1 125.5,212.8 126.5,212.2 127.5,211.5 128.5,211.0 129.4,210.4 130.4,209.7 131.4,209.0 132.4,208.3 133.3,207.4 134.3,206.6 135.3,206.0 136.3,205.3 137.2,204.4 138.2,203.4 139.2,202.3 140.1,201.1 141.1,199.7 142.1,198.3 143.1,196.9 144.0,195.4 145.0,194.1 146.0,192.8 147.0,191.5 147.9,190.2 148.9,188.8 149.9,187.5 150.9,186.1 151.8,184.7 152.8,183.2 153.8,181.9 154.8,180.3 155.7,178.8 156.7,177.5 157.7,176.2 158.7,174.8 159.6,173.4 160.6,172.2 161.6,170.8 162.6,169.6 163.5,168.2 164.5,166.8 165.5,165.6 166.5,164.1 167.4,162.9 168.4,161.6 169.4,160.3 170.4,159.0 171.3,157.5 172.3,156.1 173.3,154.7 174.3,153.5 175.2,152.3 176.2,150.9 177.2,149.6 178.1,148.4 179.1,147.0 180.1,145.6 181.1,144.3 182.0,143.0 183.0,141.7 184.0,140.5 185.0,139.5 185.9,138.5 186.9,137.8 187.9,136.9 188.9,136.3 189.8,135.8 190.8,135.3 191.8,135.0 192.8,134.7 193.7,134.5 194.7,134.2 195.7,134.2 196.7,134.0 197.6,134.0 198.6,133.9 199.6,133.9 200.6,134.2 201.5,134.4 202.5,134.6 203.5,135.0 204.5,135.2 205.4,135.8 206.4,136.6 207.4,137.2 208.4,137.9 209.3,138.8 210.3,139.7 211.3,140.9 212.2,142.0 213.2,143.4 214.2,144.7 215.2,146.3 216.1,147.8 217.1,149.5 218.1,151.3 219.1,153.0 220.0,154.8 221.0,156.5 222.0,158.4 223.0,160.1 223.9,161.8 224.9,163.7 225.9,165.4 226.9,167.1 227.8,169.0 228.8,170.9 229.8,172.6 230.8,174.4 231.7,176.2 232.7,178.1 233.7,179.8 234.7,181.8 235.6,183.8 236.6,185.7 237.6,187.9 238.6,190.2 239.5,192.5 240.5,194.7 241.5,197.0 242.5,199.4 243.4,201.8 244.4,204.0 245.4,206.3 246.4,208.4 247.3,210.2 248.3,211.8 249.3,213.3 250.2,214.7 251.2,216.1 252.2,217.2 253.2,218.3 254.1,219.3 255.1,220.3 256.1,221.2 257.1,221.9 258.0,222.4 259.0,223.0 260.0,223.5 261.0,223.9 261.9,224.4 262.9,224.7 263.9,225.0 264.9,225.3 265.8,225.6 266.8,225.9 267.8,226.1 268.8,226.4 269.7,226.5 270.7,226.7 271.7,226.9 272.7,227.0 273.6,227.2 274.6,227.4 275.6,227.5 276.6,227.7 277.5,227.9 278.5,228.0 279.5,228.1 280.5,228.4 281.4,228.5 282.4,228.6 283.4,228.7 284.4,228.9 285.3,229.1 286.3,229.2 287.3,229.3 288.2,229.3 289.2,229.4 290.2,229.6 291.2,229.8 292.1,229.8 293.1,229.8 294.1,230.0 295.1,230.1 296.0,230.3 297.0,230.2 298.0,230.3 299.0,230.3 299.9,230.4 300.9,230.4 301.9,230.4 302.9,230.6 303.8,230.6 304.8,230.6 305.8,230.6 306.8,230.6 307.7,230.7 308.7,230.8 309.7,230.7 310.7,230.8 311.6,230.8 312.6,230.9 313.6,230.8 314.6,231.0 315.5,230.9 316.5,230.9 317.5,231.0 318.5,231.0 319.4,231.0 320.4,231.1 321.4,231.1 322.3,231.1 323.3,231.1 324.3,231.2 325.3,231.2 326.2,231.1 327.2,231.2 328.2,231.1 329.2,231.2 330.1,231.2 331.1,231.3 332.1,231.2 333.1,231.2 334.0,231.3 335.0,231.3 336.0,231.3 337.0,231.3 337.9,231.3 338.9,231.3 339.9,231.4 340.9,231.2 341.8,231.3 342.8,231.4 343.8,231.4 344.8,231.4 345.7,231.3 346.7,231.4 347.7,231.3 348.7,231.4 349.6,231.4 350.6,231.5 351.6,231.4 352.6,231.4 353.5,231.4 354.5,231.5 355.5,231.5 356.5,231.5 357.4,231.4 358.4,231.5" fill="none" stroke="#ff00ff" stroke-width="1.2" stroke-linejoin="round" stroke-opacity="0.92"/>
<polyline points="66.1,184.0 67.1,189.4 68.0,193.4 69.0,196.5 70.0,198.8 71.0,200.7 71.9,202.6 72.9,204.1 73.9,205.6 74.9,207.0 75.8,208.1 76.8,209.3 77.8,210.1 78.8,211.1 79.7,212.1 80.7,213.4 81.7,214.6 82.7,215.6 83.6,216.4 84.6,216.9 85.6,217.0 86.6,217.0 87.5,216.8 88.5,216.3 89.5,216.4 90.5,216.7 91.4,217.5 92.4,218.4 93.4,219.2 94.4,219.8 95.3,220.3 96.3,220.4 97.3,220.6 98.3,220.7 99.2,220.8 100.2,220.8 101.2,220.9 102.2,221.1 103.1,221.0 104.1,220.6 105.1,220.3 106.0,220.6 107.0,221.1 108.0,221.2 109.0,221.2 109.9,221.3 110.9,221.3 111.9,221.2 112.9,221.1 113.8,220.8 114.8,220.5 115.8,220.3 116.8,219.7 117.7,219.3 118.7,218.8 119.7,218.4 120.7,218.0 121.6,217.7 122.6,217.4 123.6,216.9 124.6,216.5 125.5,215.9 126.5,215.4 127.5,214.8 128.5,214.2 129.4,213.6 130.4,212.9 131.4,212.1 132.4,211.4 133.3,210.7 134.3,209.8 135.3,209.1 136.3,208.3 137.2,207.4 138.2,206.5 139.2,205.4 140.1,204.2 141.1,202.9 142.1,201.4 143.1,199.9 144.0,198.6 145.0,197.2 146.0,195.8 147.0,194.6 147.9,193.1 148.9,191.9 149.9,190.4 150.9,189.1 151.8,187.7 152.8,186.1 153.8,184.8 154.8,183.4 155.7,181.8 156.7,180.5 157.7,179.1 158.7,177.8 159.6,176.4 160.6,175.1 161.6,173.8 162.6,172.4 163.5,171.0 164.5,169.7 165.5,168.3 166.5,167.0 167.4,165.7 168.4,164.4 169.4,163.1 170.4,161.6 171.3,160.4 172.3,158.9 173.3,157.5 174.3,156.2 175.2,154.9 176.2,153.7 177.2,152.4 178.1,151.2 179.1,149.7 180.1,148.4 181.1,147.0 182.0,145.6 183.0,144.4 184.0,143.2 185.0,142.1 185.9,141.2 186.9,140.4 187.9,139.6 188.9,139.0 189.8,138.4 190.8,138.0 191.8,137.7 192.8,137.4 193.7,137.1 194.7,137.0 195.7,136.8 196.7,136.8 197.6,136.6 198.6,136.7 199.6,136.7 200.6,136.7 201.5,137.0 202.5,137.2 203.5,137.6 204.5,137.9 205.4,138.4 206.4,139.0 207.4,139.8 208.4,140.6 209.3,141.3 210.3,142.2 211.3,143.4 212.2,144.6 213.2,145.9 214.2,147.4 215.2,148.8 216.1,150.5 217.1,152.0 218.1,153.8 219.1,155.5 220.0,157.3 221.0,159.1 222.0,160.9 223.0,162.7 223.9,164.3 224.9,166.3 225.9,168.0 226.9,169.7 227.8,171.4 228.8,173.3 229.8,175.1 230.8,176.8 231.7,178.7 232.7,180.7 233.7,182.4 234.7,184.2 235.6,186.2 236.6,188.3 237.6,190.4 238.6,192.6 239.5,194.9 240.5,197.2 241.5,199.5 242.5,201.9 243.4,204.2 244.4,206.5 245.4,208.9 246.4,210.8 247.3,212.7 248.3,214.3 249.3,215.8 250.2,217.3 251.2,218.6 252.2,219.9 253.2,221.0 254.1,222.0 255.1,222.9 256.1,223.8 257.1,224.4 258.0,225.2 259.0,225.6 260.0,226.3 261.0,226.6 261.9,227.1 262.9,227.5 263.9,227.8 264.9,228.2 265.8,228.4 266.8,228.8 267.8,228.9 268.8,229.1 269.7,229.4 270.7,229.5 271.7,229.7 272.7,229.8 273.6,230.1 274.6,230.3 275.6,230.6 276.6,230.7 277.5,230.8 278.5,231.0 279.5,231.2 280.5,231.3 281.4,231.4 282.4,231.6 283.4,231.9 284.4,231.9 285.3,232.1 286.3,232.2 287.3,232.4 288.2,232.5 289.2,232.6 290.2,232.7 291.2,232.9 292.1,233.0 293.1,233.0 294.1,233.2 295.1,233.3 296.0,233.3 297.0,233.4 298.0,233.5 299.0,233.6 299.9,233.6 300.9,233.7 301.9,233.7 302.9,233.7 303.8,233.8 304.8,233.9 305.8,233.9 306.8,233.9 307.7,233.9 308.7,234.0 309.7,234.0 310.7,234.0 311.6,234.1 312.6,234.1 313.6,234.2 314.6,234.1 315.5,234.2 316.5,234.1 317.5,234.2 318.5,234.3 319.4,234.3 320.4,234.3 321.4,234.3 322.3,234.3 323.3,234.3 324.3,234.4 325.3,234.4 326.2,234.4 327.2,234.3 328.2,234.4 329.2,234.4 330.1,234.4 331.1,234.5 332.1,234.5 333.1,234.5 334.0,234.5 335.0,234.4 336.0,234.5 337.0,234.6 337.9,234.6 338.9,234.6 339.9,234.7 340.9,234.6 341.8,234.6 342.8,234.6 343.8,234.6 344.8,234.6 345.7,234.6 346.7,234.6 347.7,234.5 348.7,234.6 349.6,234.7 350.6,234.6 351.6,234.6 352.6,234.5 353.5,234.6 354.5,234.6 355.5,234.6 356.5,234.6 357.4,234.6 358.4,234.6" fill="none" stroke="#ff0000" stroke-width="1.2" stroke-linejoin="round" stroke-opacity="0.92"/>
<polyline points="66.1,182.2 67.1,187.5 68.0,191.7 69.0,194.8 70.0,197.2 71.0,199.3 71.9,201.1 72.9,202.8 73.9,204.3 74.9,205.6 75.8,206.7 76.8,207.9 77.8,208.9 78.8,209.7 79.7,210.8 80.7,212.1 81.7,213.4 82.7,214.4 83.6,215.4 84.6,215.7 85.6,215.8 86.6,215.9 87.5,215.6 88.5,215.2 89.5,215.2 90.5,215.8 91.4,216.4 92.4,217.3 93.4,218.1 94.4,218.7 95.3,219.1 96.3,219.3 97.3,219.6 98.3,219.6 99.2,219.6 100.2,219.8 101.2,219.8 102.2,220.0 103.1,219.9 104.1,219.4 105.1,219.2 106.0,219.6 107.0,220.1 108.0,220.0 109.0,220.1 109.9,220.1 110.9,220.1 111.9,220.1 112.9,220.0 113.8,219.7 114.8,219.5 115.8,219.1 116.8,218.7 117.7,218.2 118.7,217.7 119.7,217.4 120.7,217.1 121.6,216.7 122.6,216.3 123.6,215.9 124.6,215.5 125.5,215.0 126.5,214.4 127.5,213.9 128.5,213.2 129.4,212.5 130.4,211.9 131.4,211.1 132.4,210.4 133.3,209.6 134.3,208.9 135.3,208.2 136.3,207.3 137.2,206.5 138.2,205.5 139.2,204.5 140.1,203.2 141.1,201.8 142.1,200.5 143.1,199.1 144.0,197.6 145.0,196.3 146.0,194.9 147.0,193.5 147.9,192.2 148.9,190.9 149.9,189.4 150.9,188.1 151.8,186.7 152.8,185.4 153.8,183.8 154.8,182.5 155.7,181.0 156.7,179.5 157.7,178.0 158.7,176.8 159.6,175.5 160.6,174.1 161.6,172.8 162.6,171.4 163.5,170.1 164.5,168.8 165.5,167.5 166.5,166.2 167.4,164.8 168.4,163.5 169.4,162.2 170.4,160.8 171.3,159.4 172.3,158.0 173.3,156.7 174.3,155.3 175.2,154.0 176.2,152.8 177.2,151.5 178.1,150.2 179.1,148.9 180.1,147.5 181.1,146.1 182.0,144.8 183.0,143.6 184.0,142.4 185.0,141.3 185.9,140.4 186.9,139.6 187.9,138.7 188.9,138.1 189.8,137.6 190.8,137.1 191.8,136.8 192.8,136.5 193.7,136.2 194.7,136.1 195.7,136.0 196.7,135.9 197.6,135.8 198.6,135.8 199.6,135.7 200.6,136.0 201.5,136.1 202.5,136.4 203.5,136.7 204.5,137.1 205.4,137.7 206.4,138.2 207.4,138.9 208.4,139.7 209.3,140.5 210.3,141.4 211.3,142.7 212.2,143.9 213.2,145.1 214.2,146.5 215.2,147.9 216.1,149.6 217.1,151.4 218.1,153.0 219.1,154.8 220.0,156.4 221.0,158.3 222.0,160.1 223.0,161.7 223.9,163.6 224.9,165.3 225.9,167.1 226.9,168.8 227.8,170.6 228.8,172.4 229.8,174.3 230.8,176.1 231.7,178.0 232.7,179.8 233.7,181.6 234.7,183.5 235.6,185.3 236.6,187.5 237.6,189.6 238.6,191.8 239.5,194.1 240.5,196.5 241.5,198.7 242.5,201.1 243.4,203.4 244.4,205.7 245.4,208.0 246.4,210.0 247.3,211.9 248.3,213.6 249.3,215.1 250.2,216.5 251.2,217.8 252.2,218.9 253.2,220.1 254.1,221.1 255.1,222.1 256.1,222.9 257.1,223.6 258.0,224.3 259.0,224.9 260.0,225.3 261.0,225.8 261.9,226.3 262.9,226.6 263.9,227.0 264.9,227.3 265.8,227.6 266.8,227.8 267.8,228.0 268.8,228.4 269.7,228.4 270.7,228.6 271.7,228.8 272.7,229.0 273.6,229.2 274.6,229.3 275.6,229.5 276.6,229.7 277.5,229.9 278.5,230.1 279.5,230.2 280.5,230.4 281.4,230.5 282.4,230.7 283.4,230.9 284.4,231.0 285.3,231.1 286.3,231.3 287.3,231.4 288.2,231.4 289.2,231.5 290.2,231.7 291.2,231.8 292.1,232.0 293.1,232.1 294.1,232.2 295.1,232.2 296.0,232.3 297.0,232.3 298.0,232.5 299.0,232.4 299.9,232.5 300.9,232.6 301.9,232.8 302.9,232.6 303.8,232.8 304.8,233.0 305.8,232.8 306.8,232.9 307.7,233.0 308.7,233.0 309.7,233.0 310.7,233.1 311.6,233.1 312.6,233.1 313.6,233.1 314.6,232.9 315.5,233.2 316.5,233.2 317.5,233.2 318.5,233.2 319.4,233.2 320.4,233.2 321.4,233.2 322.3,233.3 323.3,233.4 324.3,233.3 325.3,233.3 326.2,233.3 327.2,233.4 328.2,233.4 329.2,233.4 330.1,233.4 331.1,233.3 332.1,233.4 333.1,233.5 334.0,233.5 335.0,233.4 336.0,233.5 337.0,233.4 337.9,233.5 338.9,233.5 339.9,233.5 340.9,233.5 341.8,233.5 342.8,233.4 343.8,233.5 344.8,233.6 345.7,233.6 346.7,233.5 347.7,233.5 348.7,233.6 349.6,233.6 350.6,233.5 351.6,233.6 352.6,233.6 353.5,233.7 354.5,233.6 355.5,233.7 356.5,233.5 357.4,233.6 358.4,233.6" fill="none" stroke="#000080" stroke-width="1.2" stroke-linejoin="round" stroke-opacity="0.92"/>
<polyline points="66.1,179.2 67.1,184.6 68.0,188.9 69.0,192.1 70.0,194.7 71.0,196.8 71.9,198.6 72.9,200.4 73.9,202.0 74.9,203.4 75.8,204.7 76.8,205.8 77.8,206.7 78.8,207.8 79.7,208.8 80.7,210.1 81.7,211.4 82.7,212.4 83.6,213.2 84.6,213.7 85.6,213.9 86.6,213.9 87.5,213.8 88.5,213.3 89.5,213.4 90.5,213.7 91.4,214.6 92.4,215.4 93.4,216.2 94.4,216.8 95.3,217.2 96.3,217.4 97.3,217.7 98.3,217.8 99.2,217.8 100.2,217.9 101.2,218.0 102.2,218.1 103.1,218.1 104.1,217.6 105.1,217.5 106.0,217.9 107.0,218.1 108.0,218.3 109.0,218.3 109.9,218.3 110.9,218.3 111.9,218.3 112.9,218.1 113.8,217.9 114.8,217.8 115.8,217.4 116.8,216.9 117.7,216.4 118.7,215.9 119.7,215.5 120.7,215.3 121.6,214.9 122.6,214.6 123.6,214.2 124.6,213.7 125.5,213.3 126.5,212.6 127.5,212.1 128.5,211.5 129.4,210.9 130.4,210.1 131.4,209.5 132.4,208.8 133.3,208.0 134.3,207.2 135.3,206.4 136.3,205.8 137.2,204.9 138.2,203.9 139.2,202.8 140.1,201.6 141.1,200.3 142.1,198.8 143.1,197.4 144.0,196.1 145.0,194.7 146.0,193.3 147.0,192.1 147.9,190.6 148.9,189.3 149.9,187.9 150.9,186.5 151.8,185.0 152.8,183.8 153.8,182.3 154.8,180.9 155.7,179.3 156.7,177.9 157.7,176.6 158.7,175.3 159.6,173.9 160.6,172.6 161.6,171.4 162.6,170.0 163.5,168.6 164.5,167.2 165.5,165.9 166.5,164.6 167.4,163.3 168.4,162.0 169.4,160.6 170.4,159.4 171.3,157.9 172.3,156.5 173.3,155.2 174.3,153.8 175.2,152.7 176.2,151.3 177.2,150.2 178.1,148.8 179.1,147.5 180.1,146.1 181.1,144.7 182.0,143.4 183.0,142.1 184.0,141.0 185.0,139.8 185.9,139.0 186.9,138.1 187.9,137.3 188.9,136.7 189.8,136.3 190.8,135.8 191.8,135.4 192.8,135.1 193.7,134.9 194.7,134.7 195.7,134.6 196.7,134.4 197.6,134.4 198.6,134.5 199.6,134.4 200.6,134.6 201.5,134.8 202.5,135.2 203.5,135.4 204.5,135.7 205.4,136.2 206.4,137.0 207.4,137.6 208.4,138.3 209.3,139.1 210.3,140.2 211.3,141.3 212.2,142.4 213.2,143.8 214.2,145.2 215.2,146.7 216.1,148.2 217.1,150.0 218.1,151.6 219.1,153.4 220.0,155.2 221.0,156.9 222.0,158.7 223.0,160.5 223.9,162.3 224.9,164.0 225.9,165.8 226.9,167.5 227.8,169.2 228.8,171.2 229.8,173.1 230.8,174.8 231.7,176.7 232.7,178.5 233.7,180.3 234.7,182.2 235.6,184.1 236.6,186.2 237.6,188.4 238.6,190.6 239.5,192.8 240.5,195.1 241.5,197.4 242.5,199.8 243.4,202.2 244.4,204.5 245.4,206.6 246.4,208.7 247.3,210.5 248.3,212.2 249.3,213.7 250.2,215.2 251.2,216.4 252.2,217.6 253.2,218.8 254.1,219.8 255.1,220.8 256.1,221.5 257.1,222.2 258.0,222.8 259.0,223.5 260.0,224.0 261.0,224.4 261.9,224.8 262.9,225.1 263.9,225.5 264.9,225.8 265.8,226.1 266.8,226.3 267.8,226.6 268.8,226.8 269.7,227.0 270.7,227.1 271.7,227.3 272.7,227.5 273.6,227.7 274.6,227.8 275.6,228.0 276.6,228.2 277.5,228.3 278.5,228.6 279.5,228.6 280.5,228.8 281.4,229.0 282.4,229.2 283.4,229.2 284.4,229.3 285.3,229.5 286.3,229.7 287.3,229.8 288.2,229.8 289.2,230.0 290.2,230.1 291.2,230.1 292.1,230.3 293.1,230.4 294.1,230.5 295.1,230.6 296.0,230.6 297.0,230.7 298.0,230.8 299.0,230.7 299.9,230.9 300.9,231.0 301.9,231.0 302.9,231.1 303.8,231.1 304.8,231.1 305.8,231.1 306.8,231.3 307.7,231.3 308.7,231.4 309.7,231.3 310.7,231.4 311.6,231.3 312.6,231.3 313.6,231.4 314.6,231.4 315.5,231.6 316.5,231.4 317.5,231.5 318.5,231.5 319.4,231.6 320.4,231.6 321.4,231.5 322.3,231.7 323.3,231.7 324.3,231.7 325.3,231.6 326.2,231.8 327.2,231.6 328.2,231.7 329.2,231.7 330.1,231.6 331.1,231.7 332.1,231.7 333.1,231.7 334.0,231.8 335.0,231.8 336.0,231.8 337.0,231.8 337.9,231.8 338.9,231.9 339.9,231.9 340.9,231.8 341.8,231.9 342.8,231.9 343.8,231.8 344.8,232.0 345.7,232.0 346.7,231.9 347.7,231.9 348.7,231.9 349.6,231.9 350.6,231.9 351.6,232.0 352.6,232.0 353.5,232.0 354.5,232.0 355.5,232.0 356.5,231.9 357.4,231.9 358.4,231.9" fill="none" stroke="#000080" stroke-width="1.2" stroke-linejoin="round" stroke-opacity="0.92"/>
<polyline points="66.1,181.7 67.1,187.1 68.0,191.3 69.0,194.4 70.0,196.9 71.0,198.9 71.9,200.7 72.9,202.3 73.9,203.9 74.9,205.2 75.8,206.5 76.8,207.6 77.8,208.5 78.8,209.4 79.7,210.6 80.7,211.9 81.7,213.1 82.7,214.1 83.6,214.9 84.6,215.3 85.6,215.6 86.6,215.6 87.5,215.2 88.5,214.9 89.5,215.0 90.5,215.4 91.4,216.0 92.4,216.9 93.4,217.8 94.4,218.3 95.3,218.7 96.3,219.0 97.3,219.1 98.3,219.4 99.2,219.4 100.2,219.4 101.2,219.6 102.2,219.7 103.1,219.6 104.1,219.2 105.1,218.9 106.0,219.3 107.0,219.8 108.0,219.8 109.0,219.7 109.9,219.9 110.9,219.8 111.9,219.8 112.9,219.7 113.8,219.5 114.8,219.2 115.8,218.9 116.8,218.4 117.7,217.8 118.7,217.5 119.7,217.2 120.7,216.8 121.6,216.4 122.6,216.0 123.6,215.7 124.6,215.0 125.5,214.7 126.5,214.2 127.5,213.6 128.5,212.9 129.4,212.3 130.4,211.6 131.4,210.9 132.4,210.2 133.3,209.4 134.3,208.7 135.3,207.9 136.3,207.1 137.2,206.2 138.2,205.4 139.2,204.2 140.1,203.0 141.1,201.5 142.1,200.2 143.1,198.8 144.0,197.3 145.0,196.0 146.0,194.6 147.0,193.3 147.9,191.9 148.9,190.6 149.9,189.2 150.9,187.8 151.8,186.5 152.8,184.9 153.8,183.6 154.8,182.0 155.7,180.7 156.7,179.3 157.7,178.0 158.7,176.7 159.6,175.3 160.6,174.0 161.6,172.5 162.6,171.3 163.5,169.8 164.5,168.7 165.5,167.2 166.5,165.9 167.4,164.7 168.4,163.3 169.4,161.9 170.4,160.6 171.3,159.2 172.3,157.7 173.3,156.4 174.3,155.1 175.2,153.8 176.2,152.6 177.2,151.3 178.1,150.0 179.1,148.7 180.1,147.3 181.1,145.9 182.0,144.5 183.0,143.3 184.0,142.1 185.0,141.0 185.9,140.2 186.9,139.2 187.9,138.5 188.9,137.9 189.8,137.4 190.8,137.0 191.8,136.5 192.8,136.3 193.7,136.1 194.7,135.9 195.7,135.8 196.7,135.6 197.6,135.6 198.6,135.6 199.6,135.7 200.6,135.8 201.5,136.0 202.5,136.2 203.5,136.5 204.5,137.0 205.4,137.4 206.4,138.0 207.4,138.8 208.4,139.5 209.3,140.3 210.3,141.3 211.3,142.3 212.2,143.6 213.2,144.9 214.2,146.3 215.2,147.8 216.1,149.4 217.1,151.1 218.1,152.7 219.1,154.4 220.0,156.3 221.0,158.0 222.0,159.8 223.0,161.6 223.9,163.3 224.9,165.2 225.9,166.9 226.9,168.6 227.8,170.4 228.8,172.3 229.8,174.0 230.8,176.1 231.7,177.7 232.7,179.6 233.7,181.3 234.7,183.3 235.6,185.2 236.6,187.3 237.6,189.4 238.6,191.6 239.5,193.9 240.5,196.2 241.5,198.5 242.5,200.9 243.4,203.2 244.4,205.6 245.4,207.7 246.4,209.8 247.3,211.6 248.3,213.3 249.3,214.9 250.2,216.3 251.2,217.7 252.2,218.8 253.2,220.0 254.1,220.9 255.1,221.8 256.1,222.8 257.1,223.4 258.0,224.1 259.0,224.6 260.0,225.2 261.0,225.7 261.9,226.0 262.9,226.4 263.9,226.7 264.9,227.1 265.8,227.2 266.8,227.5 267.8,227.8 268.8,228.1 269.7,228.2 270.7,228.4 271.7,228.6 272.7,228.8 273.6,229.0 274.6,229.1 275.6,229.3 276.6,229.4 277.5,229.8 278.5,229.8 279.5,230.0 280.5,230.1 281.4,230.2 282.4,230.4 283.4,230.5 284.4,230.8 285.3,230.9 286.3,231.0 287.3,231.1 288.2,231.2 289.2,231.4 290.2,231.4 291.2,231.5 292.1,231.6 293.1,231.7 294.1,232.0 295.1,232.0 296.0,232.1 297.0,232.2 298.0,232.2 299.0,232.3 299.9,232.3 300.9,232.4 301.9,232.4 302.9,232.5 303.8,232.6 304.8,232.6 305.8,232.6 306.8,232.5 307.7,232.7 308.7,232.8 309.7,232.7 310.7,232.7 311.6,232.8 312.6,232.8 313.6,232.9 314.6,232.8 315.5,233.0 316.5,233.0 317.5,232.9 318.5,233.0 319.4,232.9 320.4,233.0 321.4,233.0 322.3,233.0 323.3,232.9 324.3,233.1 325.3,233.1 326.2,233.1 327.2,233.1 328.2,233.2 329.2,233.1 330.1,233.2 331.1,233.1 332.1,233.1 333.1,233.1 334.0,233.2 335.0,233.2 336.0,233.2 337.0,233.2 337.9,233.3 338.9,233.3 339.9,233.1 340.9,233.3 341.8,233.3 342.8,233.3 343.8,233.3 344.8,233.3 345.7,233.3 346.7,233.3 347.7,233.4 348.7,233.4 349.6,233.4 350.6,233.3 351.6,233.3 352.6,233.3 353.5,233.4 354.5,233.4 355.5,233.3 356.5,233.4 357.4,233.5 358.4,233.3" fill="none" stroke="#4545c8" stroke-width="1.2" stroke-linejoin="round" stroke-opacity="0.92"/>
<polyline points="66.1,184.9 67.1,190.2 68.0,194.2 69.0,197.3 70.0,199.6 71.0,201.6 71.9,203.3 72.9,204.9 73.9,206.4 74.9,207.6 75.8,208.8 76.8,210.0 77.8,210.8 78.8,211.7 79.7,212.7 80.7,214.1 81.7,215.1 82.7,216.3 83.6,217.1 84.6,217.5 85.6,217.6 86.6,217.7 87.5,217.4 88.5,217.0 89.5,217.0 90.5,217.4 91.4,218.1 92.4,219.1 93.4,219.7 94.4,220.3 95.3,220.8 96.3,221.0 97.3,221.2 98.3,221.3 99.2,221.4 100.2,221.6 101.2,221.5 102.2,221.6 103.1,221.6 104.1,221.1 105.1,220.8 106.0,221.4 107.0,221.7 108.0,221.7 109.0,221.8 109.9,221.7 110.9,221.8 111.9,221.8 112.9,221.7 113.8,221.4 114.8,221.1 115.8,220.7 116.8,220.3 117.7,219.8 118.7,219.4 119.7,219.1 120.7,218.6 121.6,218.2 122.6,217.7 123.6,217.5 124.6,217.0 125.5,216.6 126.5,216.0 127.5,215.4 128.5,214.7 129.4,214.1 130.4,213.4 131.4,212.7 132.4,211.9 133.3,211.1 134.3,210.4 135.3,209.6 136.3,208.8 137.2,208.0 138.2,207.0 139.2,205.9 140.1,204.7 141.1,203.4 142.1,201.9 143.1,200.4 144.0,199.1 145.0,197.7 146.0,196.4 147.0,194.9 147.9,193.7 148.9,192.3 149.9,190.9 150.9,189.6 151.8,188.1 152.8,186.8 153.8,185.2 154.8,183.8 155.7,182.4 156.7,181.0 157.7,179.5 158.7,178.1 159.6,176.8 160.6,175.5 161.6,174.3 162.6,172.7 163.5,171.6 164.5,170.2 165.5,168.8 166.5,167.5 167.4,166.2 168.4,164.8 169.4,163.6 170.4,162.1 171.3,160.8 172.3,159.4 173.3,157.9 174.3,156.6 175.2,155.5 176.2,154.1 177.2,152.8 178.1,151.5 179.1,150.2 180.1,148.8 181.1,147.4 182.0,146.0 183.0,144.8 184.0,143.7 185.0,142.6 185.9,141.6 186.9,140.7 187.9,140.0 188.9,139.4 189.8,138.9 190.8,138.4 191.8,138.1 192.8,137.7 193.7,137.5 194.7,137.3 195.7,137.3 196.7,137.1 197.6,137.1 198.6,137.0 199.6,137.1 200.6,137.1 201.5,137.4 202.5,137.6 203.5,137.9 204.5,138.4 205.4,138.9 206.4,139.5 207.4,140.1 208.4,140.9 209.3,141.7 210.3,142.6 211.3,143.8 212.2,145.0 213.2,146.3 214.2,147.8 215.2,149.2 216.1,150.7 217.1,152.4 218.1,154.2 219.1,156.0 220.0,157.7 221.0,159.5 222.0,161.2 223.0,163.0 223.9,164.7 224.9,166.4 225.9,168.3 226.9,170.0 227.8,171.9 228.8,173.7 229.8,175.4 230.8,177.3 231.7,179.1 232.7,181.0 233.7,182.8 234.7,184.8 235.6,186.6 236.6,188.8 237.6,190.9 238.6,193.1 239.5,195.2 240.5,197.7 241.5,199.9 242.5,202.2 243.4,204.7 244.4,207.0 245.4,209.3 246.4,211.2 247.3,213.1 248.3,214.7 249.3,216.3 250.2,217.7 251.2,219.1 252.2,220.3 253.2,221.4 254.1,222.4 255.1,223.3 256.1,224.2 257.1,224.9 258.0,225.6 259.0,226.1 260.0,226.6 261.0,227.1 261.9,227.5 262.9,227.9 263.9,228.3 264.9,228.6 265.8,228.9 266.8,229.1 267.8,229.4 268.8,229.6 269.7,229.8 270.7,229.9 271.7,230.2 272.7,230.4 273.6,230.5 274.6,230.8 275.6,230.8 276.6,231.1 277.5,231.3 278.5,231.5 279.5,231.6 280.5,231.8 281.4,232.1 282.4,232.2 283.4,232.3 284.4,232.4 285.3,232.7 286.3,232.7 287.3,232.8 288.2,232.9 289.2,233.1 290.2,233.2 291.2,233.3 292.1,233.4 293.1,233.5 294.1,233.7 295.1,233.8 296.0,233.8 297.0,234.0 298.0,234.0 299.0,234.0 299.9,234.2 300.9,234.2 301.9,234.3 302.9,234.3 303.8,234.3 304.8,234.4 305.8,234.4 306.8,234.5 307.7,234.5 308.7,234.5 309.7,234.5 310.7,234.5 311.6,234.5 312.6,234.7 313.6,234.6 314.6,234.6 315.5,234.7 316.5,234.9 317.5,234.8 318.5,234.7 319.4,234.9 320.4,234.7 321.4,234.9 322.3,234.8 323.3,234.9 324.3,234.9 325.3,234.9 326.2,235.0 327.2,234.9 328.2,235.0 329.2,234.9 330.1,235.0 331.1,234.9 332.1,234.9 333.1,235.0 334.0,235.1 335.0,235.0 336.0,235.0 337.0,235.0 337.9,235.0 338.9,235.0 339.9,235.1 340.9,235.1 341.8,235.1 342.8,235.1 343.8,235.1 344.8,235.0 345.7,235.1 346.7,235.0 347.7,235.1 348.7,235.2 349.6,235.2 350.6,235.1 351.6,235.1 352.6,235.1 353.5,235.1 354.5,235.2 355.5,235.2 356.5,235.1 357.4,235.1 358.4,235.1" fill="none" stroke="#4545c8" stroke-width="1.2" stroke-linejoin="round" stroke-opacity="0.92"/>
<polyline points="66.1,180.3 67.1,185.7 68.0,190.1 69.0,193.1 70.0,195.5 71.0,197.8 71.9,199.6 72.9,201.3 73.9,202.8 74.9,204.3 75.8,205.5 76.8,206.6 77.8,207.6 78.8,208.6 79.7,209.6 80.7,210.9 81.7,212.1 82.7,213.2 83.6,214.2 84.6,214.5 85.6,214.7 86.6,214.8 87.5,214.5 88.5,214.0 89.5,214.1 90.5,214.5 91.4,215.2 92.4,216.1 93.4,216.9 94.4,217.4 95.3,217.8 96.3,218.2 97.3,218.3 98.3,218.4 99.2,218.5 100.2,218.6 101.2,218.7 102.2,218.9 103.1,218.7 104.1,218.3 105.1,218.2 106.0,218.4 107.0,218.9 108.0,219.0 109.0,219.0 109.9,219.0 110.9,219.0 111.9,219.0 112.9,218.8 113.8,218.6 114.8,218.3 115.8,218.0 116.8,217.6 117.7,217.1 118.7,216.6 119.7,216.3 120.7,215.9 121.6,215.7 122.6,215.2 123.6,214.8 124.6,214.4 125.5,213.9 126.5,213.2 127.5,212.7 128.5,212.2 129.4,211.5 130.4,210.8 131.4,210.1 132.4,209.4 133.3,208.6 134.3,207.8 135.3,207.1 136.3,206.3 137.2,205.4 138.2,204.5 139.2,203.4 140.1,202.2 141.1,200.9 142.1,199.4 143.1,198.1 144.0,196.6 145.0,195.2 146.0,194.0 147.0,192.6 147.9,191.2 148.9,189.9 149.9,188.5 150.9,187.1 151.8,185.7 152.8,184.4 153.8,182.9 154.8,181.4 155.7,180.0 156.7,178.6 157.7,177.3 158.7,175.8 159.6,174.5 160.6,173.3 161.6,171.9 162.6,170.5 163.5,169.2 164.5,167.9 165.5,166.5 166.5,165.2 167.4,163.9 168.4,162.6 169.4,161.3 170.4,160.0 171.3,158.6 172.3,157.1 173.3,155.7 174.3,154.4 175.2,153.2 176.2,151.9 177.2,150.6 178.1,149.3 179.1,148.1 180.1,146.6 181.1,145.2 182.0,143.8 183.0,142.5 184.0,141.6 185.0,140.5 185.9,139.5 186.9,138.5 187.9,137.9 188.9,137.2 189.8,136.7 190.8,136.3 191.8,136.0 192.8,135.6 193.7,135.5 194.7,135.3 195.7,135.1 196.7,135.0 197.6,135.0 198.6,135.0 199.6,135.0 200.6,135.0 201.5,135.3 202.5,135.5 203.5,135.8 204.5,136.3 205.4,136.8 206.4,137.4 207.4,138.1 208.4,138.8 209.3,139.8 210.3,140.7 211.3,141.8 212.2,142.9 213.2,144.2 214.2,145.7 215.2,147.2 216.1,148.8 217.1,150.4 218.1,152.1 219.1,153.9 220.0,155.7 221.0,157.5 222.0,159.2 223.0,161.0 223.9,162.7 224.9,164.5 225.9,166.3 226.9,167.9 227.8,169.9 228.8,171.7 229.8,173.4 230.8,175.3 231.7,177.1 232.7,178.9 233.7,180.7 234.7,182.7 235.6,184.5 236.6,186.7 237.6,188.9 238.6,191.1 239.5,193.3 240.5,195.7 241.5,197.9 242.5,200.3 243.4,202.7 244.4,205.1 245.4,207.2 246.4,209.2 247.3,211.1 248.3,212.7 249.3,214.2 250.2,215.7 251.2,217.0 252.2,218.2 253.2,219.2 254.1,220.3 255.1,221.2 256.1,222.0 257.1,222.8 258.0,223.4 259.0,223.9 260.0,224.5 261.0,225.0 261.9,225.2 262.9,225.6 263.9,226.1 264.9,226.2 265.8,226.7 266.8,226.9 267.8,227.2 268.8,227.3 269.7,227.5 270.7,227.7 271.7,227.9 272.7,228.1 273.6,228.3 274.6,228.5 275.6,228.5 276.6,228.8 277.5,228.9 278.5,229.0 279.5,229.2 280.5,229.4 281.4,229.5 282.4,229.7 283.4,229.9 284.4,229.9 285.3,230.0 286.3,230.2 287.3,230.3 288.2,230.5 289.2,230.6 290.2,230.7 291.2,230.9 292.1,231.0 293.1,231.0 294.1,231.2 295.1,231.2 296.0,231.2 297.0,231.4 298.0,231.5 299.0,231.5 299.9,231.5 300.9,231.6 301.9,231.7 302.9,231.7 303.8,231.7 304.8,231.8 305.8,231.9 306.8,231.9 307.7,231.9 308.7,232.0 309.7,231.9 310.7,232.0 311.6,232.0 312.6,232.0 313.6,232.1 314.6,232.1 315.5,232.1 316.5,232.2 317.5,232.1 318.5,232.2 319.4,232.2 320.4,232.3 321.4,232.2 322.3,232.2 323.3,232.2 324.3,232.3 325.3,232.3 326.2,232.4 327.2,232.3 328.2,232.3 329.2,232.3 330.1,232.4 331.1,232.3 332.1,232.4 333.1,232.5 334.0,232.4 335.0,232.4 336.0,232.4 337.0,232.3 337.9,232.5 338.9,232.4 339.9,232.5 340.9,232.5 341.8,232.5 342.8,232.5 343.8,232.6 344.8,232.5 345.7,232.5 346.7,232.5 347.7,232.5 348.7,232.6 349.6,232.6 350.6,232.5 351.6,232.6 352.6,232.6 353.5,232.6 354.5,232.6 355.5,232.7 356.5,232.6 357.4,232.5 358.4,232.6" fill="none" stroke="#0000ff" stroke-width="1.2" stroke-linejoin="round" stroke-opacity="0.92"/>
<polyline points="66.1,183.4 67.1,188.6 68.0,192.8 69.0,195.8 70.0,198.2 71.0,200.2 71.9,202.0 72.9,203.6 73.9,205.1 74.9,206.5 75.8,207.6 76.8,208.7 77.8,209.7 78.8,210.6 79.7,211.6 80.7,212.9 81.7,214.2 82.7,215.1 83.6,216.0 84.6,216.4 85.6,216.5 86.6,216.7 87.5,216.3 88.5,215.9 89.5,215.9 90.5,216.3 91.4,217.0 92.4,218.0 93.4,218.8 94.4,219.3 95.3,219.8 96.3,219.9 97.3,220.1 98.3,220.4 99.2,220.5 100.2,220.4 101.2,220.6 102.2,220.6 103.1,220.7 104.1,220.1 105.1,220.0 106.0,220.3 107.0,220.8 108.0,220.7 109.0,220.9 109.9,220.7 110.9,220.8 111.9,220.8 112.9,220.7 113.8,220.5 114.8,220.1 115.8,219.9 116.8,219.4 117.7,218.9 118.7,218.4 119.7,218.0 120.7,217.8 121.6,217.4 122.6,216.9 123.6,216.6 124.6,216.0 125.5,215.5 126.5,215.0 127.5,214.4 128.5,213.9 129.4,213.2 130.4,212.5 131.4,211.7 132.4,211.0 133.3,210.3 134.3,209.5 135.3,208.8 136.3,207.9 137.2,207.1 138.2,206.1 139.2,205.0 140.1,203.8 141.1,202.4 142.1,201.0 143.1,199.6 144.0,198.2 145.0,196.8 146.0,195.5 147.0,194.2 147.9,192.8 148.9,191.4 149.9,190.2 150.9,188.6 151.8,187.4 152.8,185.9 153.8,184.4 154.8,182.9 155.7,181.5 156.7,180.1 157.7,178.7 158.7,177.3 159.6,175.9 160.6,174.7 161.6,173.5 162.6,172.1 163.5,170.7 164.5,169.2 165.5,168.1 166.5,166.7 167.4,165.3 168.4,164.0 169.4,162.8 170.4,161.3 171.3,160.1 172.3,158.6 173.3,157.1 174.3,155.9 175.2,154.6 176.2,153.2 177.2,152.1 178.1,150.8 179.1,149.5 180.1,148.0 181.1,146.7 182.0,145.3 183.0,144.1 184.0,143.0 185.0,141.8 185.9,140.9 186.9,140.1 187.9,139.3 188.9,138.7 189.8,138.2 190.8,137.6 191.8,137.3 192.8,137.1 193.7,136.8 194.7,136.6 195.7,136.5 196.7,136.4 197.6,136.4 198.6,136.3 199.6,136.5 200.6,136.4 201.5,136.7 202.5,136.8 203.5,137.3 204.5,137.6 205.4,138.2 206.4,138.8 207.4,139.4 208.4,140.2 209.3,141.0 210.3,142.1 211.3,143.0 212.2,144.3 213.2,145.6 214.2,147.0 215.2,148.5 216.1,150.1 217.1,151.6 218.1,153.5 219.1,155.2 220.0,157.1 221.0,158.7 222.0,160.6 223.0,162.4 223.9,164.1 224.9,165.9 225.9,167.7 226.9,169.5 227.8,171.2 228.8,173.0 229.8,174.8 230.8,176.6 231.7,178.4 232.7,180.2 233.7,182.1 234.7,184.0 235.6,185.8 236.6,187.8 237.6,190.1 238.6,192.4 239.5,194.6 240.5,196.9 241.5,199.2 242.5,201.7 243.4,204.0 244.4,206.3 245.4,208.6 246.4,210.6 247.3,212.3 248.3,214.0 249.3,215.6 250.2,217.0 251.2,218.3 252.2,219.5 253.2,220.6 254.1,221.7 255.1,222.6 256.1,223.4 257.1,224.2 258.0,224.9 259.0,225.4 260.0,225.9 261.0,226.4 261.9,226.7 262.9,227.2 263.9,227.5 264.9,227.8 265.8,228.2 266.8,228.4 267.8,228.5 268.8,228.7 269.7,229.0 270.7,229.1 271.7,229.3 272.7,229.6 273.6,229.8 274.6,229.9 275.6,230.1 276.6,230.3 277.5,230.4 278.5,230.6 279.5,230.8 280.5,230.9 281.4,231.1 282.4,231.2 283.4,231.4 284.4,231.6 285.3,231.7 286.3,231.8 287.3,231.9 288.2,232.1 289.2,232.3 290.2,232.4 291.2,232.5 292.1,232.5 293.1,232.6 294.1,232.9 295.1,232.9 296.0,233.0 297.0,233.1 298.0,233.1 299.0,233.2 299.9,233.3 300.9,233.3 301.9,233.3 302.9,233.4 303.8,233.4 304.8,233.5 305.8,233.6 306.8,233.5 307.7,233.6 308.7,233.7 309.7,233.7 310.7,233.6 311.6,233.7 312.6,233.7 313.6,233.8 314.6,233.7 315.5,233.8 316.5,233.9 317.5,233.9 318.5,233.9 319.4,233.9 320.4,233.9 321.4,234.0 322.3,233.9 323.3,233.9 324.3,234.1 325.3,233.9 326.2,234.0 327.2,234.0 328.2,234.0 329.2,234.0 330.1,234.1 331.1,234.2 332.1,234.1 333.1,234.1 334.0,234.1 335.0,234.1 336.0,234.1 337.0,234.2 337.9,234.1 338.9,234.2 339.9,234.2 340.9,234.2 341.8,234.2 342.8,234.2 343.8,234.2 344.8,234.1 345.7,234.2 346.7,234.2 347.7,234.2 348.7,234.3 349.6,234.3 350.6,234.3 351.6,234.3 352.6,234.4 353.5,234.2 354.5,234.2 355.5,234.3 356.5,234.3 357.4,234.2 358.4,234.3" fill="none" stroke="#0000ff" stroke-width="1.2" stroke-linejoin="round" stroke-opacity="0.92"/>
<polyline points="66.1,178.6 67.1,184.2 68.0,188.5 69.0,191.6 70.0,194.2 71.0,196.4 71.9,198.3 72.9,200.0 73.9,201.7 74.9,203.1 75.8,204.3 76.8,205.4 77.8,206.4 78.8,207.4 79.7,208.5 80.7,209.9 81.7,211.1 82.7,212.1 83.6,213.1 84.6,213.3 85.6,213.7 86.6,213.6 87.5,213.3 88.5,212.9 89.5,213.1 90.5,213.5 91.4,214.3 92.4,215.1 93.4,215.9 94.4,216.4 95.3,216.9 96.3,217.2 97.3,217.4 98.3,217.4 99.2,217.5 100.2,217.6 101.2,217.8 102.2,217.9 103.1,217.8 104.1,217.3 105.1,217.1 106.0,217.5 107.0,217.8 108.0,218.0 109.0,217.9 109.9,218.0 110.9,218.2 111.9,218.0 112.9,217.9 113.8,217.6 114.8,217.5 115.8,217.1 116.8,216.7 117.7,216.1 118.7,215.8 119.7,215.3 120.7,215.0 121.6,214.6 122.6,214.3 123.6,213.9 124.6,213.4 125.5,213.0 126.5,212.4 127.5,211.9 128.5,211.2 129.4,210.5 130.4,209.9 131.4,209.3 132.4,208.4 133.3,207.8 134.3,207.0 135.3,206.2 136.3,205.5 137.2,204.6 138.2,203.7 139.2,202.5 140.1,201.3 141.1,200.1 142.1,198.6 143.1,197.2 144.0,195.8 145.0,194.4 146.0,193.1 147.0,191.7 147.9,190.4 148.9,189.0 149.9,187.6 150.9,186.3 151.8,184.8 152.8,183.5 153.8,182.1 154.8,180.6 155.7,179.2 156.7,177.8 157.7,176.4 158.7,175.0 159.6,173.7 160.6,172.5 161.6,171.1 162.6,169.8 163.5,168.4 164.5,167.0 165.5,165.7 166.5,164.4 167.4,163.2 168.4,161.8 169.4,160.5 170.4,159.1 171.3,157.7 172.3,156.4 173.3,155.0 174.3,153.5 175.2,152.4 176.2,151.1 177.2,149.9 178.1,148.7 179.1,147.2 180.1,145.9 181.1,144.5 182.0,143.1 183.0,142.0 184.0,140.7 185.0,139.7 185.9,138.7 186.9,137.8 187.9,137.1 188.9,136.5 189.8,136.0 190.8,135.5 191.8,135.3 192.8,134.9 193.7,134.8 194.7,134.5 195.7,134.3 196.7,134.3 197.6,134.1 198.6,134.2 199.6,134.2 200.6,134.4 201.5,134.5 202.5,134.8 203.5,135.1 204.5,135.5 205.4,136.1 206.4,136.6 207.4,137.3 208.4,138.2 209.3,138.9 210.3,139.9 211.3,141.0 212.2,142.2 213.2,143.6 214.2,145.0 215.2,146.4 216.1,148.1 217.1,149.7 218.1,151.4 219.1,153.2 220.0,154.9 221.0,156.7 222.0,158.6 223.0,160.3 223.9,162.2 224.9,163.8 225.9,165.6 226.9,167.4 227.8,169.2 228.8,170.9 229.8,172.8 230.8,174.7 231.7,176.5 232.7,178.2 233.7,180.0 234.7,182.0 235.6,183.8 236.6,186.1 237.6,188.2 238.6,190.4 239.5,192.6 240.5,194.9 241.5,197.2 242.5,199.5 243.4,202.0 244.4,204.3 245.4,206.4 246.4,208.5 247.3,210.4 248.3,212.1 249.3,213.6 250.2,214.9 251.2,216.2 252.2,217.5 253.2,218.5 254.1,219.7 255.1,220.5 256.1,221.4 257.1,222.0 258.0,222.7 259.0,223.2 260.0,223.7 261.0,224.2 261.9,224.5 262.9,225.0 263.9,225.2 264.9,225.6 265.8,226.0 266.8,226.0 267.8,226.3 268.8,226.5 269.7,226.7 270.7,226.9 271.7,227.1 272.7,227.4 273.6,227.5 274.6,227.6 275.6,227.7 276.6,228.0 277.5,228.2 278.5,228.2 279.5,228.5 280.5,228.6 281.4,228.8 282.4,228.8 283.4,229.0 284.4,229.1 285.3,229.2 286.3,229.3 287.3,229.4 288.2,229.6 289.2,229.7 290.2,229.8 291.2,229.9 292.1,230.1 293.1,230.2 294.1,230.3 295.1,230.4 296.0,230.4 297.0,230.4 298.0,230.5 299.0,230.6 299.9,230.6 300.9,230.6 301.9,230.8 302.9,230.8 303.8,230.7 304.8,230.8 305.8,230.9 306.8,230.9 307.7,231.1 308.7,231.1 309.7,231.1 310.7,231.1 311.6,231.1 312.6,231.3 313.6,231.2 314.6,231.2 315.5,231.3 316.5,231.3 317.5,231.2 318.5,231.3 319.4,231.3 320.4,231.3 321.4,231.3 322.3,231.4 323.3,231.4 324.3,231.4 325.3,231.4 326.2,231.4 327.2,231.5 328.2,231.5 329.2,231.5 330.1,231.4 331.1,231.5 332.1,231.5 333.1,231.5 334.0,231.5 335.0,231.5 336.0,231.5 337.0,231.5 337.9,231.6 338.9,231.5 339.9,231.6 340.9,231.6 341.8,231.7 342.8,231.6 343.8,231.5 344.8,231.6 345.7,231.6 346.7,231.7 347.7,231.7 348.7,231.6 349.6,231.7 350.6,231.6 351.6,231.7 352.6,231.7 353.5,231.7 354.5,231.7 355.5,231.6 356.5,231.7 357.4,231.7 358.4,231.6" fill="none" stroke="#ff00ff" stroke-width="1.2" stroke-linejoin="round" stroke-opacity="0.92"/>
<polyline points="66.1,178.4 67.1,183.9 68.0,188.3 69.0,191.5 70.0,194.0 71.0,196.3 71.9,198.1 72.9,199.9 73.9,201.5 74.9,202.8 75.8,204.1 76.8,205.3 77.8,206.3 78.8,207.1 79.7,208.4 80.7,209.7 81.7,211.0 82.7,212.1 83.6,212.9 84.6,213.2 85.6,213.4 86.6,213.5 87.5,213.3 88.5,212.9 89.5,212.9 90.5,213.4 91.4,214.0 92.4,215.0 93.4,215.8 94.4,216.3 95.3,216.8 96.3,217.2 97.3,217.2 98.3,217.2 99.2,217.4 100.2,217.6 101.2,217.6 102.2,217.7 103.1,217.5 104.1,217.2 105.1,216.9 106.0,217.3 107.0,217.8 108.0,217.9 109.0,217.9 109.9,217.9 110.9,217.8 111.9,217.8 112.9,217.8 113.8,217.6 114.8,217.3 115.8,216.9 116.8,216.6 117.7,216.1 118.7,215.5 119.7,215.3 120.7,214.9 121.6,214.6 122.6,214.1 123.6,213.7 124.6,213.4 125.5,212.9 126.5,212.3 127.5,211.7 128.5,211.0 129.4,210.4 130.4,209.8 131.4,209.1 132.4,208.4 133.3,207.6 134.3,206.8 135.3,206.0 136.3,205.3 137.2,204.4 138.2,203.5 139.2,202.5 140.1,201.2 141.1,199.9 142.1,198.4 143.1,197.1 144.0,195.6 145.0,194.2 146.0,193.1 147.0,191.6 147.9,190.3 148.9,188.9 149.9,187.5 150.9,186.2 151.8,184.8 152.8,183.4 153.8,182.0 154.8,180.4 155.7,179.1 156.7,177.7 157.7,176.3 158.7,175.0 159.6,173.5 160.6,172.3 161.6,170.9 162.6,169.6 163.5,168.3 164.5,167.0 165.5,165.6 166.5,164.3 167.4,163.0 168.4,161.7 169.4,160.4 170.4,159.1 171.3,157.6 172.3,156.3 173.3,154.8 174.3,153.6 175.2,152.2 176.2,151.1 177.2,149.7 178.1,148.4 179.1,147.1 180.1,145.7 181.1,144.5 182.0,143.0 183.0,141.7 184.0,140.6 185.0,139.6 185.9,138.6 186.9,137.7 187.9,137.0 188.9,136.4 189.8,135.9 190.8,135.4 191.8,135.1 192.8,134.9 193.7,134.6 194.7,134.4 195.7,134.2 196.7,134.1 197.6,134.1 198.6,134.0 199.6,134.2 200.6,134.3 201.5,134.4 202.5,134.7 203.5,135.0 204.5,135.4 205.4,136.0 206.4,136.7 207.4,137.3 208.4,138.0 209.3,138.8 210.3,139.8 211.3,140.9 212.2,142.2 213.2,143.4 214.2,145.0 215.2,146.4 216.1,147.9 217.1,149.6 218.1,151.4 219.1,153.1 220.0,154.9 221.0,156.6 222.0,158.5 223.0,160.2 223.9,162.0 224.9,163.6 225.9,165.5 226.9,167.3 227.8,169.0 228.8,170.8 229.8,172.6 230.8,174.5 231.7,176.3 232.7,178.1 233.7,179.9 234.7,181.9 235.6,183.9 236.6,186.0 237.6,188.0 238.6,190.2 239.5,192.5 240.5,194.8 241.5,197.3 242.5,199.4 243.4,202.0 244.4,204.2 245.4,206.4 246.4,208.4 247.3,210.2 248.3,211.9 249.3,213.4 250.2,214.9 251.2,216.2 252.2,217.4 253.2,218.5 254.1,219.5 255.1,220.3 256.1,221.3 257.1,221.8 258.0,222.6 259.0,223.1 260.0,223.6 261.0,224.1 261.9,224.5 262.9,224.9 263.9,225.2 264.9,225.4 265.8,225.7 266.8,226.0 267.8,226.2 268.8,226.4 269.7,226.6 270.7,226.9 271.7,227.0 272.7,227.2 273.6,227.3 274.6,227.5 275.6,227.7 276.6,227.8 277.5,228.0 278.5,228.2 279.5,228.3 280.5,228.5 281.4,228.7 282.4,228.9 283.4,228.9 284.4,229.1 285.3,229.1 286.3,229.2 287.3,229.5 288.2,229.5 289.2,229.6 290.2,229.7 291.2,229.8 292.1,230.0 293.1,230.0 294.1,230.1 295.1,230.2 296.0,230.2 297.0,230.3 298.0,230.4 299.0,230.4 299.9,230.5 300.9,230.6 301.9,230.7 302.9,230.6 303.8,230.8 304.8,230.8 305.8,230.8 306.8,230.8 307.7,230.8 308.7,230.9 309.7,230.9 310.7,230.9 311.6,231.1 312.6,231.0 313.6,231.0 314.6,231.0 315.5,231.1 316.5,231.1 317.5,231.1 318.5,231.0 319.4,231.1 320.4,231.2 321.4,231.2 322.3,231.3 323.3,231.2 324.3,231.2 325.3,231.3 326.2,231.2 327.2,231.3 328.2,231.3 329.2,231.3 330.1,231.4 331.1,231.4 332.1,231.4 333.1,231.4 334.0,231.4 335.0,231.3 336.0,231.4 337.0,231.5 337.9,231.5 338.9,231.4 339.9,231.5 340.9,231.5 341.8,231.5 342.8,231.5 343.8,231.4 344.8,231.6 345.7,231.5 346.7,231.5 347.7,231.6 348.7,231.5 349.6,231.5 350.6,231.5 351.6,231.6 352.6,231.6 353.5,231.6 354.5,231.6 355.5,231.6 356.5,231.7 357.4,231.6 358.4,231.5" fill="none" stroke="#800000" stroke-width="1.2" stroke-linejoin="round" stroke-opacity="0.92"/>
<polyline points="66.1,177.9 67.1,183.5 68.0,187.9 69.0,191.1 70.0,193.6 71.0,195.9 71.9,197.7 72.9,199.4 73.9,201.0 74.9,202.5 75.8,203.8 76.8,204.9 77.8,206.0 78.8,206.9 79.7,208.1 80.7,209.4 81.7,210.6 82.7,211.7 83.6,212.5 84.6,212.9 85.6,213.3 86.6,213.2 87.5,213.0 88.5,212.5 89.5,212.6 90.5,213.0 91.4,213.7 92.4,214.7 93.4,215.5 94.4,216.2 95.3,216.6 96.3,216.8 97.3,216.9 98.3,217.1 99.2,217.0 100.2,217.2 101.2,217.2 102.2,217.4 103.1,217.3 104.1,217.0 105.1,216.7 106.0,217.1 107.0,217.5 108.0,217.5 109.0,217.7 109.9,217.6 110.9,217.6 111.9,217.6 112.9,217.5 113.8,217.2 114.8,217.0 115.8,216.6 116.8,216.2 117.7,215.8 118.7,215.3 119.7,214.9 120.7,214.7 121.6,214.3 122.6,213.9 123.6,213.5 124.6,213.0 125.5,212.6 126.5,211.9 127.5,211.5 128.5,210.9 129.4,210.2 130.4,209.6 131.4,208.9 132.4,208.1 133.3,207.3 134.3,206.7 135.3,206.0 136.3,205.0 137.2,204.2 138.2,203.2 139.2,202.1 140.1,201.0 141.1,199.6 142.1,198.2 143.1,196.7 144.0,195.3 145.0,194.1 146.0,192.8 147.0,191.4 147.9,190.1 148.9,188.6 149.9,187.3 150.9,186.0 151.8,184.6 152.8,183.0 153.8,181.7 154.8,180.3 155.7,178.8 156.7,177.4 157.7,176.0 158.7,174.6 159.6,173.4 160.6,172.0 161.6,170.7 162.6,169.3 163.5,168.0 164.5,166.7 165.5,165.4 166.5,164.1 167.4,162.8 168.4,161.4 169.4,160.1 170.4,158.8 171.3,157.4 172.3,156.1 173.3,154.7 174.3,153.2 175.2,152.0 176.2,150.8 177.2,149.6 178.1,148.3 179.1,147.1 180.1,145.4 181.1,144.1 182.0,142.8 183.0,141.6 184.0,140.4 185.0,139.3 185.9,138.4 186.9,137.5 187.9,136.7 188.9,136.1 189.8,135.8 190.8,135.3 191.8,134.9 192.8,134.6 193.7,134.5 194.7,134.3 195.7,134.1 196.7,134.0 197.6,133.9 198.6,133.9 199.6,133.9 200.6,134.2 201.5,134.3 202.5,134.5 203.5,134.8 204.5,135.3 205.4,135.7 206.4,136.3 207.4,137.0 208.4,137.8 209.3,138.7 210.3,139.6 211.3,140.7 212.2,141.9 213.2,143.3 214.2,144.6 215.2,146.3 216.1,147.7 217.1,149.3 218.1,151.1 219.1,152.9 220.0,154.8 221.0,156.5 222.0,158.3 223.0,160.0 223.9,161.7 224.9,163.6 225.9,165.3 226.9,167.1 227.8,168.7 228.8,170.6 229.8,172.5 230.8,174.3 231.7,176.1 232.7,178.0 233.7,179.9 234.7,181.7 235.6,183.5 236.6,185.7 237.6,187.8 238.6,190.1 239.5,192.3 240.5,194.6 241.5,197.0 242.5,199.3 243.4,201.7 244.4,204.0 245.4,206.1 246.4,208.2 247.3,210.0 248.3,211.7 249.3,213.3 250.2,214.6 251.2,215.9 252.2,217.1 253.2,218.2 254.1,219.3 255.1,220.2 256.1,221.0 257.1,221.8 258.0,222.3 259.0,222.9 260.0,223.3 261.0,223.9 261.9,224.2 262.9,224.7 263.9,225.0 264.9,225.2 265.8,225.6 266.8,225.7 267.8,226.1 268.8,226.2 269.7,226.4 270.7,226.6 271.7,226.8 272.7,226.9 273.6,227.2 274.6,227.2 275.6,227.4 276.6,227.5 277.5,227.8 278.5,228.0 279.5,228.1 280.5,228.3 281.4,228.3 282.4,228.5 283.4,228.6 284.4,228.8 285.3,228.8 286.3,229.1 287.3,229.2 288.2,229.2 289.2,229.3 290.2,229.5 291.2,229.6 292.1,229.7 293.1,229.8 294.1,229.9 295.1,230.0 296.0,230.1 297.0,230.1 298.0,230.1 299.0,230.2 299.9,230.2 300.9,230.2 301.9,230.3 302.9,230.3 303.8,230.4 304.8,230.4 305.8,230.5 306.8,230.6 307.7,230.6 308.7,230.5 309.7,230.7 310.7,230.7 311.6,230.8 312.6,230.8 313.6,230.8 314.6,230.8 315.5,230.8 316.5,230.8 317.5,230.9 318.5,230.9 319.4,230.9 320.4,230.8 321.4,231.0 322.3,231.0 323.3,231.0 324.3,230.9 325.3,231.0 326.2,231.0 327.2,231.0 328.2,231.0 329.2,231.0 330.1,231.1 331.1,231.2 332.1,231.1 333.1,231.1 334.0,231.2 335.0,231.2 336.0,231.1 337.0,231.2 337.9,231.1 338.9,231.2 339.9,231.2 340.9,231.2 341.8,231.2 342.8,231.2 343.8,231.3 344.8,231.2 345.7,231.2 346.7,231.3 347.7,231.3 348.7,231.3 349.6,231.3 350.6,231.2 351.6,231.3 352.6,231.2 353.5,231.3 354.5,231.3 355.5,231.3 356.5,231.3 357.4,231.3 358.4,231.3" fill="none" stroke="#ff0000" stroke-width="1.2" stroke-linejoin="round" stroke-opacity="0.92"/>
<polyline points="66.1,178.5 67.1,184.0 68.0,188.4 69.0,191.5 70.0,194.1 71.0,196.4 71.9,198.3 72.9,200.0 73.9,201.5 74.9,202.9 75.8,204.2 76.8,205.4 77.8,206.3 78.8,207.3 79.7,208.5 80.7,209.8 81.7,211.0 82.7,212.0 83.6,213.0 84.6,213.3 85.6,213.6 86.6,213.7 87.5,213.3 88.5,212.9 89.5,213.0 90.5,213.4 91.4,214.1 92.4,215.1 93.4,215.9 94.4,216.4 95.3,216.9 96.3,217.1 97.3,217.3 98.3,217.4 99.2,217.5 100.2,217.6 101.2,217.6 102.2,217.8 103.1,217.7 104.1,217.3 105.1,217.1 106.0,217.4 107.0,217.8 108.0,218.0 109.0,218.0 109.9,217.9 110.9,218.0 111.9,218.0 112.9,217.9 113.8,217.6 114.8,217.3 115.8,217.1 116.8,216.6 117.7,216.1 118.7,215.7 119.7,215.3 120.7,215.0 121.6,214.7 122.6,214.3 123.6,213.9 124.6,213.4 125.5,212.9 126.5,212.5 127.5,211.8 128.5,211.3 129.4,210.6 130.4,209.9 131.4,209.3 132.4,208.4 133.3,207.7 134.3,206.9 135.3,206.1 136.3,205.4 137.2,204.4 138.2,203.6 139.2,202.6 140.1,201.3 141.1,200.0 142.1,198.4 143.1,197.0 144.0,195.6 145.0,194.3 146.0,193.0 147.0,191.7 147.9,190.4 148.9,189.0 149.9,187.7 150.9,186.3 151.8,184.8 152.8,183.4 153.8,182.1 154.8,180.6 155.7,179.2 156.7,177.7 157.7,176.4 158.7,175.1 159.6,173.7 160.6,172.3 161.6,170.9 162.6,169.7 163.5,168.3 164.5,167.1 165.5,165.7 166.5,164.3 167.4,163.0 168.4,161.8 169.4,160.4 170.4,159.0 171.3,157.7 172.3,156.3 173.3,154.9 174.3,153.6 175.2,152.3 176.2,151.1 177.2,149.9 178.1,148.6 179.1,147.2 180.1,145.7 181.1,144.4 182.0,143.1 183.0,141.9 184.0,140.7 185.0,139.7 185.9,138.8 186.9,137.7 187.9,137.2 188.9,136.4 189.8,135.8 190.8,135.5 191.8,135.2 192.8,134.8 193.7,134.7 194.7,134.5 195.7,134.3 196.7,134.3 197.6,134.1 198.6,134.2 199.6,134.2 200.6,134.3 201.5,134.6 202.5,134.8 203.5,135.1 204.5,135.5 205.4,136.0 206.4,136.6 207.4,137.3 208.4,138.1 209.3,139.0 210.3,139.9 211.3,141.0 212.2,142.2 213.2,143.6 214.2,144.8 215.2,146.3 216.1,148.0 217.1,149.7 218.1,151.4 219.1,153.1 220.0,155.0 221.0,156.6 222.0,158.5 223.0,160.2 223.9,162.0 224.9,163.7 225.9,165.5 226.9,167.3 227.8,169.1 228.8,170.9 229.8,172.8 230.8,174.4 231.7,176.4 232.7,178.2 233.7,180.0 234.7,181.9 235.6,183.8 236.6,186.0 237.6,188.0 238.6,190.3 239.5,192.6 240.5,194.8 241.5,197.2 242.5,199.6 243.4,202.0 244.4,204.2 245.4,206.4 246.4,208.4 247.3,210.3 248.3,212.0 249.3,213.6 250.2,215.0 251.2,216.2 252.2,217.4 253.2,218.5 254.1,219.5 255.1,220.4 256.1,221.4 257.1,222.0 258.0,222.6 259.0,223.2 260.0,223.6 261.0,224.1 261.9,224.6 262.9,224.8 263.9,225.3 264.9,225.6 265.8,225.9 266.8,226.1 267.8,226.3 268.8,226.5 269.7,226.7 270.7,226.8 271.7,227.0 272.7,227.2 273.6,227.3 274.6,227.6 275.6,227.8 276.6,228.0 277.5,228.1 278.5,228.3 279.5,228.4 280.5,228.6 281.4,228.7 282.4,228.8 283.4,229.0 284.4,229.0 285.3,229.0 286.3,229.3 287.3,229.4 288.2,229.6 289.2,229.7 290.2,229.8 291.2,229.9 292.1,230.1 293.1,230.0 294.1,230.1 295.1,230.2 296.0,230.2 297.0,230.5 298.0,230.4 299.0,230.5 299.9,230.6 300.9,230.7 301.9,230.7 302.9,230.7 303.8,230.8 304.8,230.8 305.8,230.8 306.8,230.8 307.7,231.0 308.7,231.0 309.7,231.1 310.7,231.0 311.6,231.0 312.6,231.1 313.6,231.1 314.6,231.1 315.5,231.1 316.5,231.2 317.5,231.2 318.5,231.2 319.4,231.2 320.4,231.3 321.4,231.3 322.3,231.3 323.3,231.4 324.3,231.4 325.3,231.3 326.2,231.3 327.2,231.4 328.2,231.4 329.2,231.4 330.1,231.4 331.1,231.5 332.1,231.4 333.1,231.5 334.0,231.4 335.0,231.4 336.0,231.5 337.0,231.5 337.9,231.5 338.9,231.5 339.9,231.6 340.9,231.6 341.8,231.6 342.8,231.6 343.8,231.6 344.8,231.6 345.7,231.6 346.7,231.5 347.7,231.5 348.7,231.6 349.6,231.6 350.6,231.6 351.6,231.6 352.6,231.6 353.5,231.6 354.5,231.7 355.5,231.6 356.5,231.7 357.4,231.7 358.4,231.7" fill="none" stroke="#ff0080" stroke-width="1.2" stroke-linejoin="round" stroke-opacity="0.92"/>
<polyline points="66.1,177.6 67.1,183.1 68.0,187.5 69.0,190.7 70.0,193.3 71.0,195.6 71.9,197.3 72.9,199.1 73.9,200.8 74.9,202.3 75.8,203.4 76.8,204.7 77.8,205.7 78.8,206.6 79.7,207.9 80.7,209.1 81.7,210.4 82.7,211.5 83.6,212.4 84.6,212.8 85.6,213.0 86.6,213.0 87.5,212.7 88.5,212.3 89.5,212.4 90.5,212.8 91.4,213.5 92.4,214.5 93.4,215.3 94.4,215.9 95.3,216.3 96.3,216.5 97.3,216.7 98.3,216.7 99.2,216.9 100.2,217.0 101.2,217.1 102.2,217.3 103.1,217.1 104.1,216.6 105.1,216.5 106.0,216.8 107.0,217.3 108.0,217.3 109.0,217.3 109.9,217.3 110.9,217.5 111.9,217.3 112.9,217.3 113.8,217.0 114.8,216.8 115.8,216.5 116.8,216.0 117.7,215.5 118.7,215.1 119.7,214.8 120.7,214.4 121.6,214.0 122.6,213.8 123.6,213.3 124.6,212.9 125.5,212.5 126.5,212.0 127.5,211.5 128.5,211.0 129.4,210.5 130.4,209.7 131.4,209.1 132.4,208.4 133.3,207.7 134.3,207.1 135.3,206.4 136.3,205.7 137.2,204.9 138.2,203.9 139.2,203.0 140.1,201.8 141.1,200.5 142.1,199.2 143.1,197.8 144.0,196.5 145.0,195.2 146.0,193.9 147.0,192.5 147.9,191.3 148.9,190.0 149.9,188.7 150.9,187.4 151.8,186.1 152.8,184.7 153.8,183.4 154.8,182.0 155.7,180.6 156.7,179.2 157.7,177.9 158.7,176.6 159.6,175.4 160.6,174.1 161.6,172.8 162.6,171.6 163.5,170.2 164.5,168.8 165.5,167.5 166.5,166.3 167.4,164.8 168.4,163.7 169.4,162.3 170.4,161.0 171.3,159.5 172.3,158.2 173.3,156.7 174.3,155.3 175.2,154.1 176.2,152.8 177.2,151.8 178.1,150.3 179.1,149.0 180.1,147.5 181.1,146.2 182.0,144.9 183.0,143.7 184.0,142.5 185.0,141.4 185.9,140.5 186.9,139.5 187.9,138.8 188.9,138.2 189.8,137.7 190.8,137.2 191.8,136.9 192.8,136.6 193.7,136.4 194.7,136.2 195.7,136.0 196.7,136.0 197.6,135.9 198.6,135.8 199.6,136.0 200.6,136.1 201.5,136.2 202.5,136.5 203.5,136.8 204.5,137.2 205.4,137.7 206.4,138.3 207.4,139.1 208.4,139.8 209.3,140.6 210.3,141.5 211.3,142.7 212.2,144.0 213.2,145.2 214.2,146.6 215.2,148.1 216.1,149.7 217.1,151.2 218.1,153.1 219.1,154.8 220.0,156.6 221.0,158.4 222.0,160.2 223.0,162.0 223.9,163.7 224.9,165.6 225.9,167.2 226.9,169.0 227.8,170.8 228.8,172.5 229.8,174.4 230.8,176.2 231.7,178.0 232.7,179.9 233.7,181.7 234.7,183.5 235.6,185.5 236.6,187.5 237.6,189.7 238.6,191.9 239.5,194.3 240.5,196.5 241.5,198.8 242.5,201.2 243.4,203.5 244.4,205.9 245.4,208.1 246.4,210.0 247.3,212.0 248.3,213.6 249.3,215.2 250.2,216.6 251.2,217.9 252.2,219.1 253.2,220.2 254.1,221.2 255.1,222.2 256.1,223.0 257.1,223.7 258.0,224.5 259.0,225.0 260.0,225.3 261.0,225.9 261.9,226.4 262.9,226.8 263.9,227.1 264.9,227.3 265.8,227.6 266.8,228.0 267.8,228.2 268.8,228.4 269.7,228.6 270.7,228.7 271.7,229.0 272.7,229.1 273.6,229.3 274.6,229.5 275.6,229.6 276.6,229.9 277.5,230.0 278.5,230.1 279.5,230.4 280.5,230.4 281.4,230.6 282.4,230.8 283.4,231.0 284.4,231.2 285.3,231.2 286.3,231.5 287.3,231.5 288.2,231.6 289.2,231.8 290.2,231.8 291.2,232.1 292.1,232.1 293.1,232.1 294.1,232.3 295.1,232.4 296.0,232.4 297.0,232.5 298.0,232.7 299.0,232.6 299.9,232.7 300.9,232.8 301.9,232.8 302.9,232.9 303.8,232.9 304.8,232.9 305.8,232.9 306.8,233.1 307.7,233.1 308.7,233.1 309.7,233.1 310.7,233.1 311.6,233.2 312.6,233.2 313.6,233.2 314.6,233.2 315.5,233.3 316.5,233.3 317.5,233.3 318.5,233.4 319.4,233.4 320.4,233.4 321.4,233.3 322.3,233.4 323.3,233.4 324.3,233.4 325.3,233.5 326.2,233.5 327.2,233.4 328.2,233.6 329.2,233.5 330.1,233.5 331.1,233.5 332.1,233.5 333.1,233.5 334.0,233.6 335.0,233.5 336.0,233.6 337.0,233.6 337.9,233.7 338.9,233.7 339.9,233.7 340.9,233.6 341.8,233.7 342.8,233.6 343.8,233.7 344.8,233.7 345.7,233.7 346.7,233.7 347.7,233.7 348.7,233.8 349.6,233.7 350.6,233.8 351.6,233.8 352.6,233.7 353.5,233.6 354.5,233.8 355.5,233.8 356.5,233.7 357.4,233.8 358.4,233.7" fill="none" stroke="#ff8000" stroke-width="1.2" stroke-linejoin="round" stroke-opacity="0.92"/>
<polyline points="66.1,173.0 67.1,177.9 68.0,181.6 69.0,184.4 70.0,186.8 71.0,188.9 71.9,190.7 72.9,192.7 73.9,194.7 74.9,196.5 75.8,198.0 76.8,199.6 77.8,200.9 78.8,202.1 79.7,203.2 80.7,204.8 81.7,206.0 82.7,207.1 83.6,207.9 84.6,208.3 85.6,208.5 86.6,208.6 87.5,208.4 88.5,207.9 89.5,208.0 90.5,208.4 91.4,209.1 92.4,210.0 93.4,210.8 94.4,211.3 95.3,211.8 96.3,212.1 97.3,212.2 98.3,212.3 99.2,212.3 100.2,212.6 101.2,212.7 102.2,212.7 103.1,212.6 104.1,212.2 105.1,211.9 106.0,212.3 107.0,212.7 108.0,212.8 109.0,212.8 109.9,212.8 110.9,212.9 111.9,213.0 112.9,212.9 113.8,212.8 114.8,212.5 115.8,212.4 116.8,211.8 117.7,211.6 118.7,211.1 119.7,210.8 120.7,210.6 121.6,210.3 122.6,210.0 123.6,209.6 124.6,209.3 125.5,208.9 126.5,208.2 127.5,207.7 128.5,207.2 129.4,206.7 130.4,206.0 131.4,205.4 132.4,204.7 133.3,204.0 134.3,203.2 135.3,202.7 136.3,201.8 137.2,201.1 138.2,200.2 139.2,199.2 140.1,198.0 141.1,196.6 142.1,195.2 143.1,193.9 144.0,192.5 145.0,191.2 146.0,190.0 147.0,188.7 147.9,187.3 148.9,186.0 149.9,184.7 150.9,183.3 151.8,182.0 152.8,180.6 153.8,179.2 154.8,177.8 155.7,176.4 156.7,175.1 157.7,173.7 158.7,172.4 159.6,171.2 160.6,169.7 161.6,168.6 162.6,167.3 163.5,165.9 164.5,164.6 165.5,163.3 166.5,162.1 167.4,160.8 168.4,159.5 169.4,158.3 170.4,156.9 171.3,155.6 172.3,154.1 173.3,152.8 174.3,151.5 175.2,150.3 176.2,149.0 177.2,147.9 178.1,146.7 179.1,145.3 180.1,143.9 181.1,142.5 182.0,141.2 183.0,140.0 184.0,138.8 185.0,137.9 185.9,137.0 186.9,136.1 187.9,135.4 188.9,134.7 189.8,134.2 190.8,133.8 191.8,133.5 192.8,133.3 193.7,133.1 194.7,133.0 195.7,132.8 196.7,132.7 197.6,132.7 198.6,132.7 199.6,132.8 200.6,132.9 201.5,133.1 202.5,133.4 203.5,133.8 204.5,134.2 205.4,134.8 206.4,135.3 207.4,136.1 208.4,136.8 209.3,137.7 210.3,138.7 211.3,139.9 212.2,141.0 213.2,142.4 214.2,143.8 215.2,145.3 216.1,146.9 217.1,148.6 218.1,150.4 219.1,152.2 220.0,154.0 221.0,155.8 222.0,157.5 223.0,159.4 223.9,161.1 224.9,162.8 225.9,164.6 226.9,166.4 227.8,168.3 228.8,170.1 229.8,171.9 230.8,173.7 231.7,175.6 232.7,177.5 233.7,179.3 234.7,181.2 235.6,183.1 236.6,185.3 237.6,187.3 238.6,189.7 239.5,191.9 240.5,194.2 241.5,196.6 242.5,199.0 243.4,201.3 244.4,203.7 245.4,205.9 246.4,207.9 247.3,209.7 248.3,211.5 249.3,213.0 250.2,214.5 251.2,215.6 252.2,216.9 253.2,218.1 254.1,219.2 255.1,220.0 256.1,220.9 257.1,221.6 258.0,222.3 259.0,222.9 260.0,223.3 261.0,223.8 261.9,224.3 262.9,224.7 263.9,225.1 264.9,225.3 265.8,225.7 266.8,225.9 267.8,226.1 268.8,226.4 269.7,226.6 270.7,226.9 271.7,227.0 272.7,227.2 273.6,227.3 274.6,227.6 275.6,227.8 276.6,228.0 277.5,228.1 278.5,228.4 279.5,228.6 280.5,228.7 281.4,228.8 282.4,228.9 283.4,229.2 284.4,229.3 285.3,229.5 286.3,229.5 287.3,229.7 288.2,229.9 289.2,230.0 290.2,230.1 291.2,230.3 292.1,230.3 293.1,230.5 294.1,230.6 295.1,230.7 296.0,230.8 297.0,230.8 298.0,230.9 299.0,230.9 299.9,231.0 300.9,231.2 301.9,231.1 302.9,231.3 303.8,231.2 304.8,231.3 305.8,231.4 306.8,231.4 307.7,231.5 308.7,231.5 309.7,231.5 310.7,231.6 311.6,231.6 312.6,231.6 313.6,231.7 314.6,231.7 315.5,231.8 316.5,231.7 317.5,231.9 318.5,231.8 319.4,231.8 320.4,231.9 321.4,232.0 322.3,232.0 323.3,232.0 324.3,231.9 325.3,232.1 326.2,232.0 327.2,232.1 328.2,232.1 329.2,232.0 330.1,232.1 331.1,232.0 332.1,232.1 333.1,232.1 334.0,232.2 335.0,232.2 336.0,232.2 337.0,232.2 337.9,232.2 338.9,232.3 339.9,232.3 340.9,232.3 341.8,232.3 342.8,232.2 343.8,232.4 344.8,232.3 345.7,232.4 346.7,232.3 347.7,232.4 348.7,232.4 349.6,232.4 350.6,232.4 351.6,232.5 352.6,232.5 353.5,232.4 354.5,232.4 355.5,232.5 356.5,232.5 357.4,232.6 358.4,232.5" fill="none" stroke="#b81c1c" stroke-width="1.2" stroke-linejoin="round" stroke-opacity="0.92"/>
<polyline points="66.1,167.3 67.1,172.3 68.0,176.2 69.0,178.8 70.0,181.1 71.0,183.2 71.9,185.1 72.9,187.2 73.9,188.9 74.9,190.9 75.8,192.4 76.8,194.0 77.8,195.2 78.8,196.4 79.7,197.7 80.7,199.0 81.7,200.3 82.7,201.6 83.6,202.3 84.6,202.7 85.6,202.9 86.6,203.0 87.5,202.6 88.5,202.3 89.5,202.3 90.5,202.7 91.4,203.5 92.4,204.4 93.4,205.1 94.4,205.7 95.3,206.2 96.3,206.4 97.3,206.5 98.3,206.6 99.2,206.7 100.2,206.8 101.2,206.9 102.2,206.9 103.1,207.0 104.1,206.6 105.1,206.3 106.0,206.7 107.0,207.2 108.0,207.2 109.0,207.2 109.9,207.2 110.9,207.3 111.9,207.5 112.9,207.5 113.8,207.4 114.8,207.2 115.8,207.0 116.8,206.7 117.7,206.4 118.7,206.0 119.7,205.8 120.7,205.5 121.6,205.4 122.6,205.1 123.6,204.7 124.6,204.5 125.5,204.1 126.5,203.7 127.5,203.2 128.5,202.7 129.4,202.1 130.4,201.6 131.4,200.9 132.4,200.3 133.3,199.6 134.3,199.0 135.3,198.4 136.3,197.7 137.2,196.8 138.2,196.0 139.2,195.0 140.1,193.8 141.1,192.5 142.1,191.2 143.1,189.9 144.0,188.7 145.0,187.4 146.0,186.1 147.0,184.8 147.9,183.5 148.9,182.3 149.9,181.0 150.9,179.8 151.8,178.4 152.8,177.1 153.8,175.6 154.8,174.3 155.7,172.9 156.7,171.8 157.7,170.3 158.7,169.1 159.6,167.7 160.6,166.4 161.6,165.2 162.6,164.0 163.5,162.8 164.5,161.4 165.5,160.1 166.5,158.9 167.4,157.7 168.4,156.4 169.4,155.2 170.4,153.9 171.3,152.5 172.3,151.2 173.3,149.9 174.3,148.7 175.2,147.3 176.2,146.1 177.2,144.9 178.1,143.8 179.1,142.4 180.1,141.1 181.1,139.8 182.0,138.5 183.0,137.3 184.0,136.1 185.0,135.2 185.9,134.3 186.9,133.6 187.9,132.9 188.9,132.2 189.8,131.8 190.8,131.4 191.8,131.1 192.8,130.8 193.7,130.6 194.7,130.5 195.7,130.4 196.7,130.3 197.6,130.4 198.6,130.3 199.6,130.4 200.6,130.6 201.5,130.9 202.5,131.1 203.5,131.5 204.5,131.9 205.4,132.5 206.4,133.1 207.4,134.0 208.4,134.8 209.3,135.6 210.3,136.6 211.3,137.7 212.2,138.9 213.2,140.4 214.2,141.7 215.2,143.2 216.1,144.9 217.1,146.7 218.1,148.3 219.1,150.1 220.0,151.8 221.0,153.8 222.0,155.6 223.0,157.4 223.9,159.1 224.9,161.0 225.9,162.7 226.9,164.6 227.8,166.2 228.8,168.2 229.8,170.1 230.8,171.9 231.7,173.8 232.7,175.7 233.7,177.4 234.7,179.4 235.6,181.4 236.6,183.5 237.6,185.7 238.6,187.9 239.5,190.2 240.5,192.4 241.5,194.8 242.5,197.3 243.4,199.7 244.4,202.1 245.4,204.2 246.4,206.3 247.3,208.1 248.3,209.7 249.3,211.5 250.2,212.8 251.2,214.2 252.2,215.4 253.2,216.7 254.1,217.6 255.1,218.6 256.1,219.4 257.1,220.2 258.0,220.9 259.0,221.4 260.0,222.0 261.0,222.4 261.9,222.8 262.9,223.2 263.9,223.6 264.9,223.9 265.8,224.2 266.8,224.6 267.8,224.8 268.8,225.0 269.7,225.2 270.7,225.4 271.7,225.5 272.7,225.8 273.6,226.1 274.6,226.4 275.6,226.4 276.6,226.6 277.5,226.8 278.5,227.1 279.5,227.2 280.5,227.3 281.4,227.5 282.4,227.7 283.4,227.9 284.4,228.1 285.3,228.1 286.3,228.4 287.3,228.5 288.2,228.7 289.2,228.7 290.2,228.9 291.2,229.0 292.1,229.0 293.1,229.2 294.1,229.4 295.1,229.5 296.0,229.6 297.0,229.7 298.0,229.8 299.0,229.8 299.9,229.9 300.9,230.0 301.9,230.1 302.9,230.0 303.8,230.2 304.8,230.3 305.8,230.4 306.8,230.3 307.7,230.3 308.7,230.4 309.7,230.5 310.7,230.5 311.6,230.6 312.6,230.5 313.6,230.6 314.6,230.7 315.5,230.8 316.5,230.7 317.5,230.7 318.5,230.8 319.4,230.8 320.4,230.9 321.4,230.9 322.3,230.9 323.3,231.0 324.3,231.0 325.3,230.9 326.2,231.0 327.2,231.0 328.2,231.0 329.2,231.1 330.1,231.1 331.1,231.1 332.1,231.2 333.1,231.3 334.0,231.2 335.0,231.3 336.0,231.2 337.0,231.2 337.9,231.3 338.9,231.4 339.9,231.4 340.9,231.3 341.8,231.4 342.8,231.3 343.8,231.4 344.8,231.5 345.7,231.4 346.7,231.5 347.7,231.5 348.7,231.5 349.6,231.4 350.6,231.6 351.6,231.5 352.6,231.6 353.5,231.6 354.5,231.5 355.5,231.6 356.5,231.5 357.4,231.6 358.4,231.5" fill="none" stroke="#14148c" stroke-width="1.1" stroke-linejoin="round" stroke-opacity="0.92"/>
</g>
<line x1="18.10" y1="25.45" x2="40.80" y2="25.45" stroke="#000000" stroke-width="1.3" stroke-opacity="0.82"/>
<text x="43.55" y="29.35" font-size="10" font-weight="bold" text-anchor="start" fill="#111" >2.14</text>
<line x1="62.49" y1="25.45" x2="85.19" y2="25.45" stroke="#ff0000" stroke-width="1.3" stroke-opacity="0.82"/>
<text x="87.94" y="29.35" font-size="10" font-weight="bold" text-anchor="start" fill="#111" >2.25</text>
<line x1="106.89" y1="25.45" x2="129.59" y2="25.45" stroke="#0000ff" stroke-width="1.3" stroke-opacity="0.82"/>
<text x="132.34" y="29.35" font-size="10" font-weight="bold" text-anchor="start" fill="#111" >2.48</text>
<line x1="151.28" y1="25.45" x2="173.98" y2="25.45" stroke="#008080" stroke-width="1.3" stroke-opacity="0.82"/>
<text x="176.73" y="29.35" font-size="10" font-weight="bold" text-anchor="start" fill="#111" >2.67</text>
<line x1="195.67" y1="25.45" x2="218.37" y2="25.45" stroke="#ff00ff" stroke-width="1.3" stroke-opacity="0.82"/>
<text x="221.12" y="29.35" font-size="10" font-weight="bold" text-anchor="start" fill="#111" >2.9</text>
<line x1="234.50" y1="25.45" x2="257.20" y2="25.45" stroke="#808000" stroke-width="1.3" stroke-opacity="0.82"/>
<text x="259.95" y="29.35" font-size="10" font-weight="bold" text-anchor="start" fill="#111" >3.25</text>
<line x1="278.90" y1="25.45" x2="301.60" y2="25.45" stroke="#000080" stroke-width="1.3" stroke-opacity="0.82"/>
<text x="304.35" y="29.35" font-size="10" font-weight="bold" text-anchor="start" fill="#111" >3.65</text>
<line x1="323.29" y1="25.45" x2="345.99" y2="25.45" stroke="#800000" stroke-width="1.3" stroke-opacity="0.82"/>
<text x="348.74" y="29.35" font-size="10" font-weight="bold" text-anchor="start" fill="#111" >4.07</text>
<line x1="18.10" y1="37.90" x2="40.80" y2="37.90" stroke="#ff0080" stroke-width="1.3" stroke-opacity="0.82"/>
<text x="43.55" y="41.80" font-size="10" font-weight="bold" text-anchor="start" fill="#111" >4.35</text>
<line x1="62.49" y1="37.90" x2="85.19" y2="37.90" stroke="#008000" stroke-width="1.3" stroke-opacity="0.82"/>
<text x="87.94" y="41.80" font-size="10" font-weight="bold" text-anchor="start" fill="#111" >4.63</text>
<line x1="106.89" y1="37.90" x2="129.59" y2="37.90" stroke="#4545c8" stroke-width="1.3" stroke-opacity="0.82"/>
<text x="132.34" y="41.80" font-size="10" font-weight="bold" text-anchor="start" fill="#111" >4.9</text>
<line x1="145.72" y1="37.90" x2="168.42" y2="37.90" stroke="#ff8000" stroke-width="1.3" stroke-opacity="0.82"/>
<text x="171.17" y="41.80" font-size="10" font-weight="bold" text-anchor="start" fill="#111" >5.58</text>
<line x1="190.11" y1="37.90" x2="212.81" y2="37.90" stroke="#a020a0" stroke-width="1.3" stroke-opacity="0.82"/>
<text x="215.56" y="41.80" font-size="10" font-weight="bold" text-anchor="start" fill="#111" >5.87</text>
<line x1="234.50" y1="37.90" x2="257.20" y2="37.90" stroke="#a040ff" stroke-width="1.3" stroke-opacity="0.82"/>
<text x="259.95" y="41.80" font-size="10" font-weight="bold" text-anchor="start" fill="#111" >6.4</text>
<line x1="273.33" y1="37.90" x2="296.03" y2="37.90" stroke="#808080" stroke-width="1.3" stroke-opacity="0.82"/>
<text x="298.78" y="41.80" font-size="10" font-weight="bold" text-anchor="start" fill="#111" >6.8</text>
<line x1="18.10" y1="50.30" x2="40.80" y2="50.30" stroke="#ff0000" stroke-width="1.3" stroke-opacity="0.82"/>
<text x="43.55" y="54.20" font-size="10" font-weight="bold" text-anchor="start" fill="#111" >7.4</text>
<line x1="56.93" y1="50.30" x2="79.63" y2="50.30" stroke="#0000ff" stroke-width="1.3" stroke-opacity="0.82"/>
<text x="82.38" y="54.20" font-size="10" font-weight="bold" text-anchor="start" fill="#111" >7.92</text>
<line x1="101.32" y1="50.30" x2="124.02" y2="50.30" stroke="#008080" stroke-width="1.3" stroke-opacity="0.82"/>
<text x="126.77" y="54.20" font-size="10" font-weight="bold" text-anchor="start" fill="#111" >8.6</text>
<line x1="140.16" y1="50.30" x2="162.86" y2="50.30" stroke="#ff00ff" stroke-width="1.3" stroke-opacity="0.82"/>
<text x="165.61" y="54.20" font-size="10" font-weight="bold" text-anchor="start" fill="#111" >9.75</text>
<line x1="184.55" y1="50.30" x2="207.25" y2="50.30" stroke="#808000" stroke-width="1.3" stroke-opacity="0.82"/>
<text x="210.00" y="54.20" font-size="10" font-weight="bold" text-anchor="start" fill="#111" >9.91</text>
<line x1="228.94" y1="50.30" x2="251.64" y2="50.30" stroke="#000080" stroke-width="1.3" stroke-opacity="0.82"/>
<text x="254.39" y="54.20" font-size="10" font-weight="bold" text-anchor="start" fill="#111" >10.23</text>
<line x1="278.90" y1="50.30" x2="301.60" y2="50.30" stroke="#800000" stroke-width="1.3" stroke-opacity="0.82"/>
<text x="304.35" y="54.20" font-size="10" font-weight="bold" text-anchor="start" fill="#111" >10.5</text>
<line x1="18.10" y1="62.60" x2="40.80" y2="62.60" stroke="#ff0080" stroke-width="1.3" stroke-opacity="0.82"/>
<text x="43.55" y="66.50" font-size="10" font-weight="bold" text-anchor="start" fill="#111" >10.8</text>
<line x1="62.49" y1="62.60" x2="85.19" y2="62.60" stroke="#008000" stroke-width="1.3" stroke-opacity="0.82"/>
<text x="87.94" y="66.50" font-size="10" font-weight="bold" text-anchor="start" fill="#111" >11.1</text>
<line x1="106.89" y1="62.60" x2="129.59" y2="62.60" stroke="#4545c8" stroke-width="1.3" stroke-opacity="0.82"/>
<text x="132.34" y="66.50" font-size="10" font-weight="bold" text-anchor="start" fill="#111" >11.43</text>
<line x1="156.84" y1="62.60" x2="179.54" y2="62.60" stroke="#ff8000" stroke-width="1.3" stroke-opacity="0.82"/>
<text x="182.29" y="66.50" font-size="10" font-weight="bold" text-anchor="start" fill="#111" >11.62</text>
<line x1="206.79" y1="62.60" x2="229.49" y2="62.60" stroke="#a020a0" stroke-width="1.3" stroke-opacity="0.82"/>
<text x="232.24" y="66.50" font-size="10" font-weight="bold" text-anchor="start" fill="#111" >11.92</text>
<line x1="256.75" y1="62.60" x2="279.45" y2="62.60" stroke="#a040ff" stroke-width="1.3" stroke-opacity="0.82"/>
<text x="282.20" y="66.50" font-size="10" font-weight="bold" text-anchor="start" fill="#111" >12.13</text>
<line x1="306.70" y1="62.60" x2="329.40" y2="62.60" stroke="#808080" stroke-width="1.3" stroke-opacity="0.82"/>
<text x="332.15" y="66.50" font-size="10" font-weight="bold" text-anchor="start" fill="#111" >12.42</text>
<line x1="18.10" y1="75.40" x2="40.80" y2="75.40" stroke="#ff0000" stroke-width="1.3" stroke-opacity="0.82"/>
<text x="43.55" y="79.30" font-size="10" font-weight="bold" text-anchor="start" fill="#111" >12.61</text>
<line x1="68.05" y1="75.40" x2="90.75" y2="75.40" stroke="#0000ff" stroke-width="1.3" stroke-opacity="0.82"/>
<text x="93.50" y="79.30" font-size="10" font-weight="bold" text-anchor="start" fill="#111" >12.73</text>
<line x1="459.30" y1="58.20" x2="459.30" y2="252.80" stroke="#222" stroke-width="1.0" />
<line x1="459.30" y1="252.30" x2="716.19" y2="252.30" stroke="#222" stroke-width="1.0" />
<line x1="455.30" y1="236.70" x2="459.30" y2="236.70" stroke="#222" stroke-width="1.0" />
<text x="453.00" y="238.70" font-size="7.2" font-weight="normal" text-anchor="end" fill="#333" >0</text>
<line x1="455.30" y1="206.95" x2="459.30" y2="206.95" stroke="#222" stroke-width="1.0" />
<text x="453.00" y="208.95" font-size="7.2" font-weight="normal" text-anchor="end" fill="#333" >100</text>
<line x1="455.30" y1="177.20" x2="459.30" y2="177.20" stroke="#222" stroke-width="1.0" />
<text x="453.00" y="179.20" font-size="7.2" font-weight="normal" text-anchor="end" fill="#333" >200</text>
<line x1="455.30" y1="147.45" x2="459.30" y2="147.45" stroke="#222" stroke-width="1.0" />
<text x="453.00" y="149.45" font-size="7.2" font-weight="normal" text-anchor="end" fill="#333" >300</text>
<line x1="455.30" y1="117.70" x2="459.30" y2="117.70" stroke="#222" stroke-width="1.0" />
<text x="453.00" y="119.70" font-size="7.2" font-weight="normal" text-anchor="end" fill="#333" >400</text>
<line x1="455.30" y1="87.95" x2="459.30" y2="87.95" stroke="#222" stroke-width="1.0" />
<text x="453.00" y="89.95" font-size="7.2" font-weight="normal" text-anchor="end" fill="#333" >500</text>
<line x1="455.30" y1="58.20" x2="459.30" y2="58.20" stroke="#222" stroke-width="1.0" />
<text x="453.00" y="60.20" font-size="7.2" font-weight="normal" text-anchor="end" fill="#333" >600</text>
<line x1="457.30" y1="221.82" x2="459.30" y2="221.82" stroke="#222" stroke-width="1.0" />
<line x1="457.30" y1="192.07" x2="459.30" y2="192.07" stroke="#222" stroke-width="1.0" />
<line x1="457.30" y1="162.32" x2="459.30" y2="162.32" stroke="#222" stroke-width="1.0" />
<line x1="457.30" y1="132.57" x2="459.30" y2="132.57" stroke="#222" stroke-width="1.0" />
<line x1="457.30" y1="102.82" x2="459.30" y2="102.82" stroke="#222" stroke-width="1.0" />
<line x1="457.30" y1="73.07" x2="459.30" y2="73.07" stroke="#222" stroke-width="1.0" />
<line x1="480.40" y1="252.30" x2="480.40" y2="255.30" stroke="#222" stroke-width="1.0" />
<text x="480.40" y="263.70" font-size="7.2" font-weight="normal" text-anchor="middle" fill="#333" >450</text>
<line x1="523.18" y1="252.30" x2="523.18" y2="255.30" stroke="#222" stroke-width="1.0" />
<text x="523.18" y="263.70" font-size="7.2" font-weight="normal" text-anchor="middle" fill="#333" >500</text>
<line x1="565.96" y1="252.30" x2="565.96" y2="255.30" stroke="#222" stroke-width="1.0" />
<text x="565.96" y="263.70" font-size="7.2" font-weight="normal" text-anchor="middle" fill="#333" >550</text>
<line x1="608.74" y1="252.30" x2="608.74" y2="255.30" stroke="#222" stroke-width="1.0" />
<text x="608.74" y="263.70" font-size="7.2" font-weight="normal" text-anchor="middle" fill="#333" >600</text>
<line x1="651.52" y1="252.30" x2="651.52" y2="255.30" stroke="#222" stroke-width="1.0" />
<text x="651.52" y="263.70" font-size="7.2" font-weight="normal" text-anchor="middle" fill="#333" >650</text>
<line x1="694.30" y1="252.30" x2="694.30" y2="255.30" stroke="#222" stroke-width="1.0" />
<text x="694.30" y="263.70" font-size="7.2" font-weight="normal" text-anchor="middle" fill="#333" >700</text>
<line x1="459.01" y1="252.30" x2="459.01" y2="254.30" stroke="#222" stroke-width="1.0" />
<line x1="501.79" y1="252.30" x2="501.79" y2="254.30" stroke="#222" stroke-width="1.0" />
<line x1="544.57" y1="252.30" x2="544.57" y2="254.30" stroke="#222" stroke-width="1.0" />
<line x1="587.35" y1="252.30" x2="587.35" y2="254.30" stroke="#222" stroke-width="1.0" />
<line x1="630.13" y1="252.30" x2="630.13" y2="254.30" stroke="#222" stroke-width="1.0" />
<line x1="672.91" y1="252.30" x2="672.91" y2="254.30" stroke="#222" stroke-width="1.0" />
<line x1="715.69" y1="252.30" x2="715.69" y2="254.30" stroke="#222" stroke-width="1.0" />
<text x="549.10" y="278.60" font-size="9.65" font-weight="bold" text-anchor="start" fill="#000" >Wavelength (nm)</text>
<text x="428.40" y="158.00" font-size="9.8" font-weight="bold" text-anchor="middle" fill="#000" transform="rotate(-90 428.4 158.0)">Emission (A.U.)</text>
<text x="399.80" y="27.10" font-size="15.6" font-weight="bold" text-anchor="start" fill="#000" >B</text>
<g>
<polyline points="489.0,236.6 489.8,236.5 490.7,236.4 491.5,236.3 492.4,236.2 493.2,236.0 494.1,235.8 494.9,235.6 495.8,235.4 496.7,235.1 497.5,234.8 498.4,234.5 499.2,234.2 500.1,233.9 500.9,233.6 501.8,233.2 502.6,232.8 503.5,232.4 504.4,232.0 505.2,231.5 506.1,230.9 506.9,230.2 507.8,229.3 508.6,228.3 509.5,227.2 510.3,226.0 511.2,224.7 512.1,223.1 512.9,221.2 513.8,219.2 514.6,217.0 515.5,214.4 516.3,211.9 517.2,209.4 518.0,207.2 518.9,204.8 519.8,202.1 520.6,199.0 521.5,195.5 522.3,192.0 523.2,188.4 524.0,184.7 524.9,180.5 525.7,176.5 526.6,172.8 527.5,169.4 528.3,165.8 529.2,162.2 530.0,158.2 530.9,153.7 531.7,149.2 532.6,145.3 533.4,141.8 534.3,138.4 535.2,134.4 536.0,130.8 536.9,126.7 537.7,123.2 538.6,119.5 539.4,116.2 540.3,112.3 541.1,109.1 542.0,106.0 542.9,103.3 543.7,100.7 544.6,97.9 545.4,95.7 546.3,94.4 547.1,92.8 548.0,91.9 548.8,89.9 549.7,88.8 550.6,87.8 551.4,87.8 552.3,88.0 553.1,87.3 554.0,86.8 554.8,86.5 555.7,86.7 556.5,86.5 557.4,86.6 558.3,86.8 559.1,87.5 560.0,87.8 560.8,88.4 561.7,89.4 562.5,90.6 563.4,91.9 564.2,93.0 565.1,94.0 566.0,95.5 566.8,96.9 567.7,99.0 568.5,100.7 569.4,102.3 570.2,104.2 571.1,106.2 571.9,108.3 572.8,110.1 573.7,111.7 574.5,113.8 575.4,116.2 576.2,118.1 577.1,120.0 577.9,121.1 578.8,123.2 579.6,124.5 580.5,126.7 581.4,128.4 582.2,131.1 583.1,133.5 583.9,135.8 584.8,137.9 585.6,140.3 586.5,142.5 587.4,144.2 588.2,145.0 589.1,146.8 589.9,148.5 590.8,150.4 591.6,151.6 592.5,153.3 593.3,155.6 594.2,157.8 595.1,159.5 595.9,161.0 596.8,162.8 597.6,164.6 598.5,166.2 599.3,167.5 600.2,169.0 601.0,170.7 601.9,172.3 602.8,173.6 603.6,174.9 604.5,176.0 605.3,177.5 606.2,179.0 607.0,180.4 607.9,181.6 608.7,182.9 609.6,184.1 610.5,185.5 611.3,186.9 612.2,188.1 613.0,189.2 613.9,190.3 614.7,191.5 615.6,192.6 616.4,193.7 617.3,194.7 618.2,195.9 619.0,197.0 619.9,198.1 620.7,199.2 621.6,200.2 622.4,201.3 623.3,202.3 624.1,203.3 625.0,204.1 625.9,204.9 626.7,205.7 627.6,206.5 628.4,207.4 629.3,208.4 630.1,209.4 631.0,210.5 631.8,211.3 632.7,212.1 633.6,212.8 634.4,213.4 635.3,214.0 636.1,214.6 637.0,215.2 637.8,215.7 638.7,216.3 639.5,216.8 640.4,217.3 641.3,217.8 642.1,218.3 643.0,218.8 643.8,219.3 644.7,219.8 645.5,220.4 646.4,220.9 647.2,221.4 648.1,221.9 649.0,222.5 649.8,223.0 650.7,223.5 651.5,224.0 652.4,224.4 653.2,224.9 654.1,225.4 654.9,225.8 655.8,226.2 656.7,226.5 657.5,226.9 658.4,227.2 659.2,227.5 660.1,227.8 660.9,228.2 661.8,228.5 662.6,228.7 663.5,229.0 664.4,229.3 665.2,229.5 666.1,229.8 666.9,230.0 667.8,230.2 668.6,230.5 669.5,230.7 670.3,230.9 671.2,231.1 672.1,231.3 672.9,231.5 673.8,231.7 674.6,231.9 675.5,232.1 676.3,232.2 677.2,232.4 678.0,232.6 678.9,232.7 679.8,232.9 680.6,233.0 681.5,233.1 682.3,233.3 683.2,233.4 684.0,233.5 684.9,233.6 685.7,233.7 686.6,233.8 687.5,234.0 688.3,234.1 689.2,234.2 690.0,234.3 690.9,234.3 691.7,234.4 692.6,234.5 693.4,234.6 694.3,234.6" fill="none" stroke="#000000" stroke-width="0.9" stroke-linejoin="round" />
<polyline points="489.0,236.6 489.8,236.5 490.7,236.4 491.5,236.3 492.4,236.2 493.2,236.0 494.1,235.8 494.9,235.6 495.8,235.3 496.7,235.0 497.5,234.7 498.4,234.4 499.2,234.1 500.1,233.8 500.9,233.5 501.8,233.1 502.6,232.8 503.5,232.3 504.4,231.9 505.2,231.4 506.1,230.7 506.9,230.0 507.8,229.1 508.6,228.1 509.5,227.0 510.3,225.8 511.2,224.4 512.1,222.8 512.9,220.9 513.8,218.8 514.6,216.6 515.5,214.1 516.3,211.3 517.2,208.9 518.0,206.5 518.9,204.3 519.8,201.4 520.6,198.5 521.5,194.9 522.3,191.6 523.2,187.8 524.0,183.7 524.9,179.4 525.7,175.3 526.6,172.1 527.5,168.5 528.3,165.7 529.2,161.4 530.0,157.2 530.9,152.3 531.7,148.4 532.6,144.1 533.4,139.8 534.3,136.0 535.2,132.1 536.0,128.8 536.9,125.0 537.7,121.7 538.6,117.8 539.4,113.3 540.3,109.2 541.1,105.8 542.0,103.3 542.9,100.4 543.7,97.6 544.6,95.4 545.4,93.6 546.3,91.4 547.1,89.3 548.0,87.7 548.8,86.9 549.7,85.8 550.6,84.9 551.4,84.5 552.3,83.8 553.1,83.6 554.0,83.4 554.8,83.8 555.7,83.9 556.5,84.0 557.4,84.2 558.3,84.5 559.1,85.6 560.0,86.2 560.8,86.7 561.7,86.7 562.5,87.5 563.4,88.8 564.2,89.8 565.1,91.1 566.0,92.6 566.8,94.1 567.7,95.8 568.5,97.3 569.4,99.5 570.2,101.4 571.1,103.8 571.9,106.0 572.8,107.8 573.7,109.8 574.5,111.6 575.4,114.1 576.2,115.8 577.1,117.8 577.9,119.7 578.8,121.2 579.6,123.0 580.5,124.2 581.4,126.6 582.2,128.7 583.1,131.0 583.9,133.1 584.8,135.6 585.6,137.9 586.5,139.9 587.4,141.6 588.2,143.5 589.1,145.4 589.9,147.0 590.8,148.8 591.6,150.5 592.5,152.1 593.3,153.8 594.2,154.9 595.1,156.8 595.9,158.7 596.8,161.0 597.6,162.6 598.5,164.3 599.3,166.1 600.2,167.6 601.0,169.3 601.9,170.6 602.8,172.3 603.6,173.8 604.5,175.3 605.3,176.7 606.2,178.1 607.0,179.6 607.9,180.8 608.7,182.0 609.6,183.2 610.5,184.4 611.3,185.7 612.2,186.9 613.0,188.2 613.9,189.4 614.7,190.6 615.6,191.7 616.4,192.8 617.3,193.9 618.2,195.1 619.0,196.2 619.9,197.4 620.7,198.5 621.6,199.6 622.4,200.6 623.3,201.6 624.1,202.6 625.0,203.4 625.9,204.3 626.7,205.1 627.6,205.9 628.4,206.8 629.3,207.8 630.1,208.9 631.0,210.0 631.8,210.9 632.7,211.6 633.6,212.3 634.4,213.0 635.3,213.6 636.1,214.2 637.0,214.8 637.8,215.3 638.7,215.9 639.5,216.4 640.4,216.9 641.3,217.4 642.1,217.9 643.0,218.4 643.8,218.9 644.7,219.5 645.5,220.0 646.4,220.6 647.2,221.1 648.1,221.6 649.0,222.2 649.8,222.7 650.7,223.2 651.5,223.7 652.4,224.2 653.2,224.7 654.1,225.1 654.9,225.5 655.8,225.9 656.7,226.3 657.5,226.7 658.4,227.0 659.2,227.4 660.1,227.7 660.9,228.0 661.8,228.3 662.6,228.6 663.5,228.8 664.4,229.1 665.2,229.4 666.1,229.6 666.9,229.9 667.8,230.1 668.6,230.3 669.5,230.6 670.3,230.8 671.2,231.0 672.1,231.2 672.9,231.4 673.8,231.6 674.6,231.8 675.5,232.0 676.3,232.1 677.2,232.3 678.0,232.5 678.9,232.6 679.8,232.8 680.6,232.9 681.5,233.1 682.3,233.2 683.2,233.3 684.0,233.4 684.9,233.6 685.7,233.7 686.6,233.8 687.5,233.9 688.3,234.0 689.2,234.1 690.0,234.2 690.9,234.3 691.7,234.4 692.6,234.5 693.4,234.5 694.3,234.6" fill="none" stroke="#ff0000" stroke-width="0.9" stroke-linejoin="round" />
<polyline points="489.0,236.6 489.8,236.5 490.7,236.4 491.5,236.3 492.4,236.1 493.2,236.0 494.1,235.8 494.9,235.6 495.8,235.3 496.7,235.0 497.5,234.8 498.4,234.4 499.2,234.1 500.1,233.8 500.9,233.5 501.8,233.1 502.6,232.7 503.5,232.3 504.4,231.8 505.2,231.3 506.1,230.6 506.9,229.9 507.8,229.0 508.6,228.0 509.5,226.9 510.3,225.7 511.2,224.3 512.1,222.7 512.9,220.7 513.8,218.5 514.6,216.3 515.5,213.6 516.3,211.1 517.2,208.5 518.0,206.4 518.9,203.9 519.8,201.3 520.6,197.9 521.5,194.5 522.3,190.8 523.2,186.9 524.0,182.9 524.9,178.7 525.7,174.7 526.6,171.0 527.5,167.7 528.3,164.0 529.2,160.1 530.0,155.5 530.9,151.1 531.7,146.2 532.6,141.6 533.4,137.5 534.3,133.9 535.2,130.8 536.0,127.2 536.9,123.2 537.7,119.5 538.6,115.9 539.4,112.2 540.3,108.5 541.1,105.0 542.0,101.7 542.9,98.4 543.7,95.7 544.6,92.9 545.4,90.7 546.3,89.3 547.1,88.3 548.0,86.8 548.8,85.5 549.7,84.1 550.6,83.4 551.4,82.9 552.3,82.5 553.1,82.4 554.0,81.7 554.8,81.6 555.7,81.2 556.5,81.8 557.4,82.0 558.3,82.4 559.1,82.7 560.0,83.4 560.8,83.7 561.7,84.5 562.5,85.1 563.4,86.6 564.2,87.8 565.1,89.1 566.0,90.5 566.8,91.9 567.7,94.4 568.5,96.2 569.4,97.9 570.2,99.4 571.1,101.5 571.9,103.6 572.8,105.6 573.7,107.5 574.5,109.6 575.4,111.4 576.2,113.8 577.1,115.9 577.9,118.1 578.8,120.0 579.6,121.8 580.5,123.9 581.4,125.6 582.2,128.5 583.1,130.9 583.9,133.3 584.8,134.9 585.6,136.8 586.5,138.9 587.4,140.9 588.2,142.3 589.1,144.0 589.9,145.5 590.8,147.2 591.6,149.2 592.5,151.3 593.3,153.6 594.2,155.1 595.1,156.7 595.9,158.2 596.8,159.9 597.6,161.8 598.5,163.5 599.3,165.4 600.2,166.7 601.0,168.4 601.9,169.5 602.8,171.1 603.6,172.7 604.5,174.4 605.3,175.9 606.2,177.4 607.0,178.9 607.9,180.2 608.7,181.3 609.6,182.5 610.5,183.9 611.3,185.3 612.2,186.4 613.0,187.5 613.9,188.7 614.7,189.9 615.6,191.1 616.4,192.2 617.3,193.3 618.2,194.5 619.0,195.7 619.9,196.8 620.7,198.0 621.6,199.1 622.4,200.1 623.3,201.2 624.1,202.1 625.0,203.0 625.9,203.8 626.7,204.6 627.6,205.5 628.4,206.4 629.3,207.4 630.1,208.5 631.0,209.6 631.8,210.5 632.7,211.3 633.6,212.0 634.4,212.7 635.3,213.3 636.1,213.9 637.0,214.5 637.8,215.1 638.7,215.6 639.5,216.1 640.4,216.7 641.3,217.1 642.1,217.6 643.0,218.2 643.8,218.7 644.7,219.3 645.5,219.8 646.4,220.3 647.2,220.9 648.1,221.4 649.0,222.0 649.8,222.5 650.7,223.0 651.5,223.5 652.4,224.0 653.2,224.5 654.1,225.0 654.9,225.4 655.8,225.8 656.7,226.2 657.5,226.6 658.4,226.9 659.2,227.2 660.1,227.5 660.9,227.9 661.8,228.2 662.6,228.5 663.5,228.7 664.4,229.0 665.2,229.3 666.1,229.5 666.9,229.8 667.8,230.0 668.6,230.2 669.5,230.5 670.3,230.7 671.2,230.9 672.1,231.1 672.9,231.3 673.8,231.5 674.6,231.7 675.5,231.9 676.3,232.1 677.2,232.3 678.0,232.4 678.9,232.6 679.8,232.7 680.6,232.9 681.5,233.0 682.3,233.1 683.2,233.3 684.0,233.4 684.9,233.5 685.7,233.6 686.6,233.7 687.5,233.9 688.3,234.0 689.2,234.1 690.0,234.2 690.9,234.3 691.7,234.3 692.6,234.4 693.4,234.5 694.3,234.6" fill="none" stroke="#0000ff" stroke-width="0.9" stroke-linejoin="round" />
<polyline points="489.0,236.6 489.8,236.5 490.7,236.4 491.5,236.3 492.4,236.1 493.2,236.0 494.1,235.8 494.9,235.6 495.8,235.3 496.7,235.0 497.5,234.7 498.4,234.4 499.2,234.1 500.1,233.8 500.9,233.4 501.8,233.1 502.6,232.7 503.5,232.2 504.4,231.8 505.2,231.2 506.1,230.6 506.9,229.8 507.8,228.9 508.6,227.9 509.5,226.8 510.3,225.5 511.2,224.1 512.1,222.6 512.9,220.6 513.8,218.4 514.6,216.0 515.5,213.4 516.3,210.7 517.2,208.3 518.0,206.0 518.9,203.5 519.8,200.6 520.6,197.3 521.5,193.8 522.3,190.1 523.2,186.4 524.0,182.3 524.9,178.1 525.7,173.8 526.6,170.2 527.5,166.6 528.3,162.9 529.2,159.1 530.0,154.6 530.9,149.6 531.7,145.1 532.6,141.0 533.4,137.4 534.3,133.7 535.2,129.8 536.0,126.2 536.9,122.2 537.7,118.5 538.6,114.6 539.4,110.3 540.3,106.6 541.1,103.2 542.0,100.2 542.9,97.3 543.7,94.9 544.6,92.4 545.4,89.9 546.3,87.4 547.1,85.6 548.0,83.6 548.8,82.7 549.7,81.8 550.6,81.3 551.4,80.7 552.3,79.7 553.1,80.4 554.0,80.1 554.8,80.1 555.7,79.1 556.5,79.1 557.4,79.9 558.3,80.7 559.1,81.0 560.0,81.3 560.8,81.8 561.7,82.9 562.5,83.7 563.4,84.6 564.2,84.9 565.1,86.3 566.0,88.0 566.8,90.5 567.7,92.7 568.5,95.2 569.4,96.7 570.2,98.0 571.1,99.6 571.9,102.4 572.8,104.9 573.7,106.9 574.5,108.5 575.4,110.2 576.2,111.9 577.1,113.5 577.9,115.9 578.8,117.9 579.6,120.2 580.5,121.7 581.4,124.0 582.2,125.9 583.1,128.7 583.9,130.9 584.8,133.6 585.6,135.5 586.5,137.9 587.4,139.8 588.2,141.9 589.1,142.9 589.9,144.4 590.8,146.1 591.6,148.1 592.5,149.4 593.3,151.1 594.2,153.2 595.1,155.7 595.9,157.4 596.8,158.7 597.6,160.3 598.5,162.1 599.3,164.3 600.2,166.1 601.0,167.6 601.9,169.1 602.8,170.5 603.6,172.3 604.5,173.8 605.3,175.3 606.2,176.4 607.0,177.8 607.9,179.2 608.7,180.7 609.6,182.0 610.5,183.3 611.3,184.6 612.2,185.8 613.0,186.9 613.9,188.0 614.7,189.2 615.6,190.5 616.4,191.6 617.3,192.9 618.2,194.1 619.0,195.2 619.9,196.3 620.7,197.5 621.6,198.7 622.4,199.7 623.3,200.7 624.1,201.7 625.0,202.6 625.9,203.5 626.7,204.3 627.6,205.1 628.4,206.0 629.3,207.1 630.1,208.2 631.0,209.3 631.8,210.2 632.7,211.0 633.6,211.7 634.4,212.4 635.3,213.0 636.1,213.7 637.0,214.2 637.8,214.8 638.7,215.3 639.5,215.9 640.4,216.5 641.3,217.0 642.1,217.5 643.0,218.0 643.8,218.5 644.7,219.1 645.5,219.6 646.4,220.2 647.2,220.7 648.1,221.3 649.0,221.8 649.8,222.4 650.7,222.9 651.5,223.4 652.4,223.9 653.2,224.4 654.1,224.8 654.9,225.3 655.8,225.7 656.7,226.1 657.5,226.4 658.4,226.8 659.2,227.1 660.1,227.4 660.9,227.8 661.8,228.1 662.6,228.4 663.5,228.7 664.4,228.9 665.2,229.2 666.1,229.5 666.9,229.7 667.8,229.9 668.6,230.2 669.5,230.4 670.3,230.6 671.2,230.8 672.1,231.1 672.9,231.3 673.8,231.5 674.6,231.7 675.5,231.8 676.3,232.0 677.2,232.2 678.0,232.4 678.9,232.5 679.8,232.7 680.6,232.8 681.5,233.0 682.3,233.1 683.2,233.2 684.0,233.3 684.9,233.5 685.7,233.6 686.6,233.7 687.5,233.8 688.3,233.9 689.2,234.0 690.0,234.1 690.9,234.2 691.7,234.3 692.6,234.4 693.4,234.5 694.3,234.5" fill="none" stroke="#008080" stroke-width="0.9" stroke-linejoin="round" />
<polyline points="489.0,236.6 489.8,236.5 490.7,236.4 491.5,236.3 492.4,236.1 493.2,236.0 494.1,235.8 494.9,235.6 495.8,235.3 496.7,235.0 497.5,234.7 498.4,234.4 499.2,234.0 500.1,233.7 500.9,233.4 501.8,233.0 502.6,232.6 503.5,232.1 504.4,231.7 505.2,231.1 506.1,230.5 506.9,229.7 507.8,228.9 508.6,227.8 509.5,226.7 510.3,225.4 511.2,224.1 512.1,222.4 512.9,220.4 513.8,218.3 514.6,215.8 515.5,213.0 516.3,210.3 517.2,207.8 518.0,205.5 518.9,203.0 519.8,200.2 520.6,196.9 521.5,193.4 522.3,189.6 523.2,185.6 524.0,181.2 524.9,177.2 525.7,173.3 526.6,169.9 527.5,165.9 528.3,162.7 529.2,159.0 530.0,154.8 530.9,149.7 531.7,145.0 532.6,140.2 533.4,136.0 534.3,131.8 535.2,128.2 536.0,125.0 536.9,121.4 537.7,118.4 538.6,114.0 539.4,109.6 540.3,105.0 541.1,101.9 542.0,98.9 542.9,95.8 543.7,93.2 544.6,90.6 545.4,88.3 546.3,86.1 547.1,84.5 548.0,83.1 548.8,81.6 549.7,80.2 550.6,79.7 551.4,79.4 552.3,79.2 553.1,79.0 554.0,78.5 554.8,78.2 555.7,77.8 556.5,78.0 557.4,78.0 558.3,79.0 559.1,79.5 560.0,80.4 560.8,81.2 561.7,82.3 562.5,83.3 563.4,83.8 564.2,84.6 565.1,85.9 566.0,87.6 566.8,89.6 567.7,91.4 568.5,92.8 569.4,94.3 570.2,96.5 571.1,98.9 571.9,101.1 572.8,102.7 573.7,105.0 574.5,107.0 575.4,109.2 576.2,111.2 577.1,113.3 577.9,115.4 578.8,117.1 579.6,118.8 580.5,120.9 581.4,123.0 582.2,125.1 583.1,127.5 583.9,130.3 584.8,132.5 585.6,134.6 586.5,136.2 587.4,138.3 588.2,140.1 589.1,142.2 589.9,144.2 590.8,145.9 591.6,147.4 592.5,149.1 593.3,150.5 594.2,152.2 595.1,153.8 595.9,155.7 596.8,157.5 597.6,159.6 598.5,161.7 599.3,163.5 600.2,164.9 601.0,166.4 601.9,168.1 602.8,170.1 603.6,171.7 604.5,173.0 605.3,174.5 606.2,175.8 607.0,177.4 607.9,178.7 608.7,180.2 609.6,181.6 610.5,182.9 611.3,184.1 612.2,185.3 613.0,186.5 613.9,187.8 614.7,189.0 615.6,190.1 616.4,191.3 617.3,192.5 618.2,193.6 619.0,194.8 619.9,196.0 620.7,197.2 621.6,198.3 622.4,199.5 623.3,200.5 624.1,201.5 625.0,202.3 625.9,203.2 626.7,204.0 627.6,204.8 628.4,205.7 629.3,206.8 630.1,207.9 631.0,209.0 631.8,209.9 632.7,210.7 633.6,211.4 634.4,212.1 635.3,212.8 636.1,213.4 637.0,214.0 637.8,214.6 638.7,215.2 639.5,215.7 640.4,216.2 641.3,216.8 642.1,217.3 643.0,217.8 643.8,218.3 644.7,218.9 645.5,219.4 646.4,220.0 647.2,220.6 648.1,221.1 649.0,221.6 649.8,222.2 650.7,222.7 651.5,223.3 652.4,223.8 653.2,224.3 654.1,224.7 654.9,225.2 655.8,225.6 656.7,226.0 657.5,226.3 658.4,226.7 659.2,227.0 660.1,227.4 660.9,227.7 661.8,228.0 662.6,228.3 663.5,228.6 664.4,228.9 665.2,229.1 666.1,229.4 666.9,229.6 667.8,229.9 668.6,230.1 669.5,230.3 670.3,230.6 671.2,230.8 672.1,231.0 672.9,231.2 673.8,231.4 674.6,231.6 675.5,231.8 676.3,232.0 677.2,232.2 678.0,232.3 678.9,232.5 679.8,232.6 680.6,232.8 681.5,232.9 682.3,233.1 683.2,233.2 684.0,233.3 684.9,233.4 685.7,233.6 686.6,233.7 687.5,233.8 688.3,233.9 689.2,234.0 690.0,234.1 690.9,234.2 691.7,234.3 692.6,234.4 693.4,234.5 694.3,234.5" fill="none" stroke="#ff00ff" stroke-width="0.9" stroke-linejoin="round" />
<polyline points="489.0,236.6 489.8,236.5 490.7,236.4 491.5,236.3 492.4,236.1 493.2,236.0 494.1,235.8 494.9,235.5 495.8,235.3 496.7,235.0 497.5,234.7 498.4,234.3 499.2,234.0 500.1,233.7 500.9,233.4 501.8,233.0 502.6,232.6 503.5,232.1 504.4,231.6 505.2,231.1 506.1,230.4 506.9,229.6 507.8,228.7 508.6,227.6 509.5,226.5 510.3,225.3 511.2,224.0 512.1,222.2 512.9,220.3 513.8,218.0 514.6,215.6 515.5,212.8 516.3,210.2 517.2,207.8 518.0,205.3 518.9,202.8 519.8,199.7 520.6,196.6 521.5,192.8 522.3,189.1 523.2,185.0 524.0,180.9 524.9,176.5 525.7,172.1 526.6,168.1 527.5,164.5 528.3,161.2 529.2,157.4 530.0,152.8 530.9,147.9 531.7,143.4 532.6,138.7 533.4,134.1 534.3,130.0 535.2,126.8 536.0,123.5 536.9,120.1 537.7,116.5 538.6,112.5 539.4,108.1 540.3,103.6 541.1,99.5 542.0,96.0 542.9,93.2 543.7,91.1 544.6,88.5 545.4,85.8 546.3,83.6 547.1,81.8 548.0,81.0 548.8,80.0 549.7,79.3 550.6,78.1 551.4,77.5 552.3,76.7 553.1,76.6 554.0,76.0 554.8,76.2 555.7,75.7 556.5,76.2 557.4,76.7 558.3,77.5 559.1,77.6 560.0,77.8 560.8,78.6 561.7,79.8 562.5,81.1 563.4,81.5 564.2,82.4 565.1,83.4 566.0,85.8 566.8,87.6 567.7,89.6 568.5,90.8 569.4,93.0 570.2,94.7 571.1,96.9 571.9,98.6 572.8,101.3 573.7,103.1 574.5,105.3 575.4,107.0 576.2,109.5 577.1,111.6 577.9,113.5 578.8,115.3 579.6,116.9 580.5,118.7 581.4,121.0 582.2,123.6 583.1,126.2 583.9,128.7 584.8,130.9 585.6,133.0 586.5,134.7 587.4,136.8 588.2,138.7 589.1,140.5 589.9,142.0 590.8,143.9 591.6,145.5 592.5,147.7 593.3,149.5 594.2,151.6 595.1,153.3 595.9,155.3 596.8,157.4 597.6,159.0 598.5,160.7 599.3,162.3 600.2,163.9 601.0,165.7 601.9,167.5 602.8,169.2 603.6,171.0 604.5,172.5 605.3,174.2 606.2,175.6 607.0,177.0 607.9,178.2 608.7,179.5 609.6,180.8 610.5,182.2 611.3,183.4 612.2,184.7 613.0,185.9 613.9,187.0 614.7,188.2 615.6,189.5 616.4,190.8 617.3,192.0 618.2,193.1 619.0,194.3 619.9,195.4 620.7,196.6 621.6,197.7 622.4,198.8 623.3,199.9 624.1,200.9 625.0,201.8 625.9,202.7 626.7,203.6 627.6,204.5 628.4,205.4 629.3,206.4 630.1,207.5 631.0,208.6 631.8,209.5 632.7,210.4 633.6,211.1 634.4,211.8 635.3,212.5 636.1,213.2 637.0,213.8 637.8,214.3 638.7,214.9 639.5,215.4 640.4,216.0 641.3,216.5 642.1,217.1 643.0,217.6 643.8,218.1 644.7,218.7 645.5,219.2 646.4,219.8 647.2,220.3 648.1,220.9 649.0,221.5 649.8,222.0 650.7,222.6 651.5,223.1 652.4,223.6 653.2,224.1 654.1,224.6 654.9,225.0 655.8,225.4 656.7,225.8 657.5,226.2 658.4,226.6 659.2,226.9 660.1,227.2 660.9,227.6 661.8,227.9 662.6,228.2 663.5,228.5 664.4,228.7 665.2,229.0 666.1,229.3 666.9,229.6 667.8,229.8 668.6,230.0 669.5,230.3 670.3,230.5 671.2,230.7 672.1,230.9 672.9,231.1 673.8,231.4 674.6,231.5 675.5,231.7 676.3,231.9 677.2,232.1 678.0,232.3 678.9,232.4 679.8,232.6 680.6,232.7 681.5,232.9 682.3,233.0 683.2,233.1 684.0,233.3 684.9,233.4 685.7,233.5 686.6,233.7 687.5,233.8 688.3,233.9 689.2,234.0 690.0,234.1 690.9,234.2 691.7,234.3 692.6,234.3 693.4,234.4 694.3,234.5" fill="none" stroke="#808000" stroke-width="0.9" stroke-linejoin="round" />
<polyline points="489.0,236.6 489.8,236.5 490.7,236.4 491.5,236.3 492.4,236.1 493.2,236.0 494.1,235.8 494.9,235.5 495.8,235.3 496.7,235.0 497.5,234.6 498.4,234.3 499.2,234.0 500.1,233.7 500.9,233.3 501.8,233.0 502.6,232.6 503.5,232.1 504.4,231.6 505.2,231.0 506.1,230.4 506.9,229.6 507.8,228.7 508.6,227.6 509.5,226.5 510.3,225.2 511.2,223.8 512.1,222.0 512.9,220.0 513.8,217.9 514.6,215.5 515.5,212.8 516.3,209.9 517.2,207.6 518.0,205.3 518.9,202.8 519.8,199.8 520.6,196.5 521.5,192.7 522.3,189.0 523.2,185.1 524.0,181.1 524.9,176.7 525.7,172.1 526.6,168.3 527.5,164.7 528.3,161.4 529.2,157.4 530.0,152.5 530.9,147.7 531.7,143.1 532.6,138.6 533.4,134.3 534.3,130.6 535.2,127.3 536.0,124.1 536.9,120.3 537.7,116.4 538.6,111.9 539.4,107.8 540.3,103.7 541.1,100.4 542.0,97.0 542.9,94.0 543.7,91.3 544.6,88.3 545.4,85.9 546.3,83.5 547.1,82.0 548.0,80.8 548.8,80.1 549.7,79.5 550.6,78.6 551.4,77.6 552.3,77.1 553.1,76.4 554.0,76.2 554.8,75.6 555.7,75.9 556.5,76.7 557.4,77.1 558.3,77.2 559.1,76.6 560.0,77.2 560.8,77.9 561.7,78.8 562.5,80.4 563.4,81.7 564.2,83.7 565.1,84.5 566.0,85.8 566.8,87.0 567.7,89.3 568.5,91.2 569.4,93.2 570.2,95.0 571.1,97.0 571.9,99.0 572.8,101.2 573.7,103.4 574.5,105.8 575.4,107.6 576.2,109.8 577.1,111.9 577.9,114.1 578.8,116.1 579.6,117.8 580.5,119.7 581.4,121.8 582.2,124.3 583.1,126.8 583.9,128.6 584.8,130.7 585.6,132.5 586.5,134.8 587.4,136.4 588.2,138.9 589.1,141.0 589.9,143.2 590.8,144.7 591.6,146.2 592.5,147.9 593.3,149.8 594.2,151.6 595.1,153.7 595.9,154.9 596.8,156.8 597.6,158.6 598.5,160.4 599.3,162.4 600.2,163.9 601.0,165.8 601.9,167.3 602.8,169.2 603.6,170.8 604.5,172.3 605.3,173.8 606.2,175.2 607.0,176.6 607.9,178.0 608.7,179.2 609.6,180.7 610.5,182.0 611.3,183.3 612.2,184.5 613.0,185.6 613.9,186.9 614.7,188.1 615.6,189.3 616.4,190.6 617.3,191.7 618.2,193.0 619.0,194.1 619.9,195.4 620.7,196.6 621.6,197.7 622.4,198.8 623.3,199.8 624.1,200.8 625.0,201.7 625.9,202.6 626.7,203.5 627.6,204.4 628.4,205.3 629.3,206.3 630.1,207.5 631.0,208.6 631.8,209.5 632.7,210.3 633.6,211.1 634.4,211.8 635.3,212.5 636.1,213.1 637.0,213.7 637.8,214.3 638.7,214.8 639.5,215.4 640.4,215.9 641.3,216.4 642.1,217.0 643.0,217.5 643.8,218.0 644.7,218.6 645.5,219.2 646.4,219.7 647.2,220.3 648.1,220.9 649.0,221.4 649.8,222.0 650.7,222.5 651.5,223.0 652.4,223.6 653.2,224.1 654.1,224.5 654.9,225.0 655.8,225.4 656.7,225.8 657.5,226.2 658.4,226.5 659.2,226.9 660.1,227.2 660.9,227.5 661.8,227.9 662.6,228.2 663.5,228.5 664.4,228.7 665.2,229.0 666.1,229.3 666.9,229.5 667.8,229.8 668.6,230.0 669.5,230.2 670.3,230.5 671.2,230.7 672.1,230.9 672.9,231.1 673.8,231.3 674.6,231.5 675.5,231.7 676.3,231.9 677.2,232.1 678.0,232.3 678.9,232.4 679.8,232.6 680.6,232.7 681.5,232.9 682.3,233.0 683.2,233.1 684.0,233.3 684.9,233.4 685.7,233.5 686.6,233.6 687.5,233.8 688.3,233.9 689.2,234.0 690.0,234.1 690.9,234.2 691.7,234.3 692.6,234.3 693.4,234.4 694.3,234.5" fill="none" stroke="#000080" stroke-width="0.9" stroke-linejoin="round" />
<polyline points="489.0,236.6 489.8,236.5 490.7,236.4 491.5,236.3 492.4,236.1 493.2,236.0 494.1,235.8 494.9,235.6 495.8,235.3 496.7,235.0 497.5,234.7 498.4,234.4 499.2,234.1 500.1,233.7 500.9,233.4 501.8,233.0 502.6,232.6 503.5,232.2 504.4,231.7 505.2,231.2 506.1,230.5 506.9,229.7 507.8,228.9 508.6,227.9 509.5,226.7 510.3,225.5 511.2,224.1 512.1,222.4 512.9,220.5 513.8,218.3 514.6,215.9 515.5,213.2 516.3,210.7 517.2,208.0 518.0,205.6 518.9,202.9 519.8,200.6 520.6,197.2 521.5,193.8 522.3,190.0 523.2,186.2 524.0,182.1 524.9,177.6 525.7,173.5 526.6,169.5 527.5,166.0 528.3,162.4 529.2,158.7 530.0,154.5 530.9,149.6 531.7,145.1 532.6,140.4 533.4,136.9 534.3,132.6 535.2,129.1 536.0,125.3 536.9,122.0 537.7,118.3 538.6,114.2 539.4,110.0 540.3,105.9 541.1,102.5 542.0,99.2 542.9,96.7 543.7,94.1 544.6,91.4 545.4,88.9 546.3,87.0 547.1,84.8 548.0,83.0 548.8,81.5 549.7,81.1 550.6,80.6 551.4,79.9 552.3,79.4 553.1,79.0 554.0,79.0 554.8,78.8 555.7,78.6 556.5,78.9 557.4,79.1 558.3,79.6 559.1,79.8 560.0,80.3 560.8,81.3 561.7,82.4 562.5,83.8 563.4,84.4 564.2,85.2 565.1,86.1 566.0,87.4 566.8,89.2 567.7,90.9 568.5,93.0 569.4,94.6 570.2,97.0 571.1,99.2 571.9,101.7 572.8,103.8 573.7,106.3 574.5,108.0 575.4,109.8 576.2,110.7 577.1,112.9 577.9,114.7 578.8,117.4 579.6,119.0 580.5,121.1 581.4,122.5 582.2,124.5 583.1,127.4 583.9,130.5 584.8,133.5 585.6,135.3 586.5,137.4 587.4,138.9 588.2,140.3 589.1,141.8 589.9,143.4 590.8,145.3 591.6,146.8 592.5,148.6 593.3,150.6 594.2,152.3 595.1,154.6 595.9,156.5 596.8,158.4 597.6,160.2 598.5,162.0 599.3,163.7 600.2,165.4 601.0,167.0 601.9,168.8 602.8,170.5 603.6,172.0 604.5,173.4 605.3,174.8 606.2,176.1 607.0,177.4 607.9,178.9 608.7,180.4 609.6,181.8 610.5,183.0 611.3,184.2 612.2,185.3 613.0,186.4 613.9,187.7 614.7,189.0 615.6,190.2 616.4,191.3 617.3,192.5 618.2,193.8 619.0,194.9 619.9,196.1 620.7,197.2 621.6,198.3 622.4,199.4 623.3,200.5 624.1,201.4 625.0,202.3 625.9,203.2 626.7,204.0 627.6,204.9 628.4,205.8 629.3,206.9 630.1,208.0 631.0,209.0 631.8,210.0 632.7,210.8 633.6,211.5 634.4,212.2 635.3,212.9 636.1,213.5 637.0,214.1 637.8,214.6 638.7,215.2 639.5,215.7 640.4,216.2 641.3,216.8 642.1,217.3 643.0,217.8 643.8,218.4 644.7,218.9 645.5,219.4 646.4,220.0 647.2,220.6 648.1,221.1 649.0,221.7 649.8,222.2 650.7,222.8 651.5,223.3 652.4,223.8 653.2,224.3 654.1,224.7 654.9,225.2 655.8,225.6 656.7,226.0 657.5,226.3 658.4,226.7 659.2,227.0 660.1,227.4 660.9,227.7 661.8,228.0 662.6,228.3 663.5,228.6 664.4,228.9 665.2,229.1 666.1,229.4 666.9,229.6 667.8,229.9 668.6,230.1 669.5,230.4 670.3,230.6 671.2,230.8 672.1,231.0 672.9,231.2 673.8,231.4 674.6,231.6 675.5,231.8 676.3,232.0 677.2,232.2 678.0,232.3 678.9,232.5 679.8,232.7 680.6,232.8 681.5,232.9 682.3,233.1 683.2,233.2 684.0,233.3 684.9,233.4 685.7,233.6 686.6,233.7 687.5,233.8 688.3,233.9 689.2,234.0 690.0,234.1 690.9,234.2 691.7,234.3 692.6,234.4 693.4,234.5 694.3,234.5" fill="none" stroke="#800000" stroke-width="0.9" stroke-linejoin="round" />
<polyline points="489.0,236.6 489.8,236.5 490.7,236.4 491.5,236.3 492.4,236.1 493.2,236.0 494.1,235.8 494.9,235.6 495.8,235.3 496.7,235.0 497.5,234.7 498.4,234.4 499.2,234.1 500.1,233.7 500.9,233.4 501.8,233.0 502.6,232.7 503.5,232.2 504.4,231.7 505.2,231.2 506.1,230.6 506.9,229.8 507.8,228.9 508.6,227.9 509.5,226.8 510.3,225.6 511.2,224.2 512.1,222.5 512.9,220.5 513.8,218.3 514.6,216.0 515.5,213.4 516.3,210.6 517.2,208.0 518.0,205.7 518.9,203.3 519.8,200.6 520.6,197.3 521.5,193.7 522.3,189.8 523.2,186.3 524.0,182.1 524.9,177.8 525.7,173.6 526.6,169.5 527.5,166.2 528.3,162.2 529.2,158.6 530.0,154.2 530.9,149.2 531.7,145.0 532.6,140.8 533.4,137.1 534.3,132.9 535.2,129.3 536.0,125.6 536.9,122.2 537.7,118.4 538.6,114.9 539.4,110.5 540.3,106.4 541.1,102.8 542.0,99.4 542.9,96.3 543.7,93.9 544.6,91.6 545.4,89.1 546.3,86.6 547.1,84.7 548.0,83.9 548.8,83.6 549.7,82.7 550.6,81.2 551.4,80.3 552.3,79.8 553.1,79.8 554.0,79.5 554.8,79.2 555.7,79.2 556.5,79.2 557.4,79.6 558.3,80.1 559.1,80.2 560.0,80.5 560.8,81.1 561.7,82.0 562.5,82.9 563.4,84.1 564.2,85.4 565.1,87.4 566.0,88.5 566.8,90.5 567.7,91.9 568.5,94.0 569.4,95.5 570.2,97.7 571.1,100.2 571.9,102.8 572.8,104.5 573.7,105.8 574.5,107.6 575.4,109.8 576.2,112.3 577.1,114.5 577.9,116.7 578.8,118.4 579.6,119.6 580.5,121.4 581.4,123.2 582.2,125.8 583.1,128.0 583.9,131.0 584.8,133.5 585.6,135.5 586.5,137.5 587.4,139.2 588.2,141.3 589.1,142.7 589.9,144.3 590.8,146.1 591.6,147.6 592.5,149.3 593.3,151.3 594.2,153.3 595.1,155.4 595.9,156.8 596.8,158.8 597.6,160.5 598.5,162.0 599.3,163.7 600.2,165.5 601.0,167.4 601.9,169.0 602.8,170.6 603.6,172.2 604.5,173.8 605.3,175.1 606.2,176.5 607.0,177.8 607.9,179.2 608.7,180.5 609.6,181.8 610.5,183.0 611.3,184.3 612.2,185.4 613.0,186.8 613.9,188.0 614.7,189.2 615.6,190.5 616.4,191.6 617.3,192.7 618.2,193.9 619.0,195.1 619.9,196.2 620.7,197.4 621.6,198.5 622.4,199.6 623.3,200.6 624.1,201.6 625.0,202.5 625.9,203.3 626.7,204.1 627.6,205.0 628.4,205.9 629.3,207.0 630.1,208.1 631.0,209.2 631.8,210.1 632.7,210.8 633.6,211.6 634.4,212.2 635.3,212.9 636.1,213.5 637.0,214.1 637.8,214.7 638.7,215.3 639.5,215.8 640.4,216.3 641.3,216.9 642.1,217.4 643.0,217.9 643.8,218.4 644.7,219.0 645.5,219.5 646.4,220.1 647.2,220.7 648.1,221.2 649.0,221.8 649.8,222.3 650.7,222.8 651.5,223.4 652.4,223.9 653.2,224.3 654.1,224.8 654.9,225.2 655.8,225.7 656.7,226.0 657.5,226.4 658.4,226.7 659.2,227.1 660.1,227.4 660.9,227.7 661.8,228.0 662.6,228.3 663.5,228.6 664.4,228.9 665.2,229.2 666.1,229.4 666.9,229.7 667.8,229.9 668.6,230.2 669.5,230.4 670.3,230.6 671.2,230.8 672.1,231.0 672.9,231.2 673.8,231.4 674.6,231.6 675.5,231.8 676.3,232.0 677.2,232.2 678.0,232.4 678.9,232.5 679.8,232.7 680.6,232.8 681.5,233.0 682.3,233.1 683.2,233.2 684.0,233.3 684.9,233.5 685.7,233.6 686.6,233.7 687.5,233.8 688.3,233.9 689.2,234.0 690.0,234.1 690.9,234.2 691.7,234.3 692.6,234.4 693.4,234.5 694.3,234.5" fill="none" stroke="#ff0080" stroke-width="0.9" stroke-linejoin="round" />
<polyline points="489.0,236.6 489.8,236.5 490.7,236.4 491.5,236.3 492.4,236.1 493.2,236.0 494.1,235.8 494.9,235.5 495.8,235.3 496.7,235.0 497.5,234.7 498.4,234.4 499.2,234.0 500.1,233.7 500.9,233.4 501.8,233.0 502.6,232.6 503.5,232.2 504.4,231.7 505.2,231.1 506.1,230.5 506.9,229.7 507.8,228.8 508.6,227.7 509.5,226.5 510.3,225.3 511.2,223.9 512.1,222.2 512.9,220.2 513.8,217.9 514.6,215.5 515.5,212.9 516.3,210.3 517.2,207.9 518.0,205.3 518.9,202.8 519.8,199.9 520.6,197.0 521.5,193.2 522.3,189.4 523.2,185.3 524.0,181.3 524.9,177.2 525.7,172.9 526.6,169.3 527.5,165.9 528.3,162.3 529.2,158.2 530.0,153.4 530.9,148.8 531.7,144.2 532.6,140.0 533.4,135.9 534.3,132.0 535.2,128.1 536.0,124.5 536.9,120.9 537.7,117.1 538.6,112.8 539.4,108.2 540.3,104.2 541.1,100.5 542.0,97.1 542.9,94.1 543.7,91.2 544.6,89.3 545.4,86.9 546.3,85.3 547.1,83.3 548.0,82.2 548.8,81.2 549.7,80.1 550.6,79.3 551.4,78.6 552.3,78.3 553.1,77.2 554.0,76.8 554.8,76.7 555.7,77.6 556.5,78.4 557.4,78.7 558.3,78.6 559.1,78.6 560.0,79.1 560.8,79.7 561.7,80.4 562.5,81.2 563.4,82.5 564.2,83.4 565.1,84.9 566.0,86.6 566.8,88.5 567.7,90.1 568.5,91.6 569.4,93.2 570.2,95.1 571.1,97.5 571.9,99.6 572.8,102.5 573.7,104.4 574.5,106.8 575.4,108.5 576.2,110.7 577.1,112.2 577.9,114.0 578.8,115.5 579.6,117.8 580.5,119.7 581.4,122.1 582.2,124.5 583.1,127.2 583.9,129.6 584.8,131.2 585.6,133.2 586.5,135.6 587.4,137.6 588.2,139.6 589.1,141.0 589.9,143.3 590.8,144.9 591.6,146.8 592.5,148.3 593.3,149.9 594.2,152.0 595.1,153.6 595.9,155.8 596.8,157.2 597.6,159.1 598.5,160.5 599.3,162.8 600.2,164.6 601.0,166.5 601.9,168.0 602.8,169.7 603.6,171.0 604.5,172.6 605.3,174.2 606.2,175.9 607.0,177.3 607.9,178.6 608.7,179.9 609.6,181.1 610.5,182.4 611.3,183.6 612.2,185.0 613.0,186.3 613.9,187.5 614.7,188.6 615.6,189.7 616.4,190.9 617.3,192.1 618.2,193.3 619.0,194.5 619.9,195.7 620.7,196.9 621.6,198.0 622.4,199.1 623.3,200.2 624.1,201.2 625.0,202.1 625.9,202.9 626.7,203.7 627.6,204.6 628.4,205.5 629.3,206.6 630.1,207.7 631.0,208.9 631.8,209.8 632.7,210.5 633.6,211.2 634.4,211.9 635.3,212.6 636.1,213.2 637.0,213.9 637.8,214.5 638.7,215.0 639.5,215.6 640.4,216.1 641.3,216.6 642.1,217.1 643.0,217.6 643.8,218.2 644.7,218.8 645.5,219.3 646.4,219.9 647.2,220.5 648.1,221.0 649.0,221.5 649.8,222.1 650.7,222.6 651.5,223.2 652.4,223.7 653.2,224.2 654.1,224.6 654.9,225.1 655.8,225.5 656.7,225.9 657.5,226.3 658.4,226.6 659.2,227.0 660.1,227.3 660.9,227.6 661.8,227.9 662.6,228.2 663.5,228.5 664.4,228.8 665.2,229.1 666.1,229.3 666.9,229.6 667.8,229.8 668.6,230.1 669.5,230.3 670.3,230.5 671.2,230.7 672.1,231.0 672.9,231.2 673.8,231.4 674.6,231.6 675.5,231.8 676.3,231.9 677.2,232.1 678.0,232.3 678.9,232.5 679.8,232.6 680.6,232.8 681.5,232.9 682.3,233.0 683.2,233.2 684.0,233.3 684.9,233.4 685.7,233.5 686.6,233.7 687.5,233.8 688.3,233.9 689.2,234.0 690.0,234.1 690.9,234.2 691.7,234.3 692.6,234.4 693.4,234.4 694.3,234.5" fill="none" stroke="#008000" stroke-width="0.9" stroke-linejoin="round" />
<polyline points="489.0,236.6 489.8,236.5 490.7,236.4 491.5,236.3 492.4,236.1 493.2,236.0 494.1,235.8 494.9,235.6 495.8,235.3 496.7,235.0 497.5,234.7 498.4,234.4 499.2,234.1 500.1,233.8 500.9,233.5 501.8,233.1 502.6,232.7 503.5,232.3 504.4,231.8 505.2,231.2 506.1,230.6 506.9,229.8 507.8,228.9 508.6,227.8 509.5,226.8 510.3,225.6 511.2,224.2 512.1,222.5 512.9,220.6 513.8,218.6 514.6,216.2 515.5,213.6 516.3,210.9 517.2,208.3 518.0,206.0 518.9,203.3 519.8,200.6 520.6,197.2 521.5,193.8 522.3,190.0 523.2,186.0 524.0,182.1 524.9,177.9 525.7,173.9 526.6,170.4 527.5,166.8 528.3,163.1 529.2,158.8 530.0,154.5 530.9,149.8 531.7,145.2 532.6,140.9 533.4,137.2 534.3,133.4 535.2,129.7 536.0,125.8 536.9,122.4 537.7,118.9 538.6,115.4 539.4,111.2 540.3,107.2 541.1,103.6 542.0,100.4 542.9,97.0 543.7,94.0 544.6,91.2 545.4,89.2 546.3,87.7 547.1,86.0 548.0,84.2 548.8,82.5 549.7,81.4 550.6,81.5 551.4,81.0 552.3,80.7 553.1,79.7 554.0,79.5 554.8,79.3 555.7,79.9 556.5,80.3 557.4,80.8 558.3,80.8 559.1,81.0 560.0,81.7 560.8,82.3 561.7,82.9 562.5,83.4 563.4,84.2 564.2,85.5 565.1,86.6 566.0,88.4 566.8,90.6 567.7,92.7 568.5,94.4 569.4,95.7 570.2,97.6 571.1,99.6 571.9,102.5 572.8,104.6 573.7,106.8 574.5,108.3 575.4,110.4 576.2,112.7 577.1,114.9 577.9,116.6 578.8,118.0 579.6,119.8 580.5,121.9 581.4,124.1 582.2,125.9 583.1,128.4 583.9,131.2 584.8,133.8 585.6,135.6 586.5,137.3 587.4,139.0 588.2,140.9 589.1,142.6 589.9,144.2 590.8,145.7 591.6,147.2 592.5,149.1 593.3,151.2 594.2,153.2 595.1,155.1 595.9,157.0 596.8,158.7 597.6,160.7 598.5,162.2 599.3,164.0 600.2,165.7 601.0,167.5 601.9,169.3 602.8,170.9 603.6,172.6 604.5,173.9 605.3,175.3 606.2,176.6 607.0,177.9 607.9,179.1 608.7,180.6 609.6,182.0 610.5,183.4 611.3,184.5 612.2,185.7 613.0,186.9 613.9,188.0 614.7,189.2 615.6,190.5 616.4,191.8 617.3,193.0 618.2,194.1 619.0,195.2 619.9,196.3 620.7,197.5 621.6,198.6 622.4,199.7 623.3,200.7 624.1,201.7 625.0,202.6 625.9,203.5 626.7,204.3 627.6,205.1 628.4,206.0 629.3,207.1 630.1,208.2 631.0,209.3 631.8,210.2 632.7,210.9 633.6,211.7 634.4,212.3 635.3,213.0 636.1,213.6 637.0,214.2 637.8,214.8 638.7,215.3 639.5,215.9 640.4,216.4 641.3,217.0 642.1,217.5 643.0,218.0 643.8,218.5 644.7,219.1 645.5,219.6 646.4,220.2 647.2,220.7 648.1,221.3 649.0,221.8 649.8,222.3 650.7,222.9 651.5,223.4 652.4,223.9 653.2,224.4 654.1,224.8 654.9,225.3 655.8,225.7 656.7,226.1 657.5,226.4 658.4,226.8 659.2,227.1 660.1,227.5 660.9,227.8 661.8,228.1 662.6,228.4 663.5,228.7 664.4,228.9 665.2,229.2 666.1,229.4 666.9,229.7 667.8,229.9 668.6,230.2 669.5,230.4 670.3,230.6 671.2,230.8 672.1,231.1 672.9,231.3 673.8,231.5 674.6,231.7 675.5,231.9 676.3,232.0 677.2,232.2 678.0,232.4 678.9,232.5 679.8,232.7 680.6,232.8 681.5,233.0 682.3,233.1 683.2,233.2 684.0,233.4 684.9,233.5 685.7,233.6 686.6,233.7 687.5,233.8 688.3,233.9 689.2,234.0 690.0,234.1 690.9,234.2 691.7,234.3 692.6,234.4 693.4,234.5 694.3,234.5" fill="none" stroke="#4545c8" stroke-width="0.9" stroke-linejoin="round" />
<polyline points="489.0,236.6 489.8,236.5 490.7,236.4 491.5,236.3 492.4,236.1 493.2,236.0 494.1,235.8 494.9,235.6 495.8,235.3 496.7,235.0 497.5,234.7 498.4,234.4 499.2,234.0 500.1,233.7 500.9,233.3 501.8,233.0 502.6,232.6 503.5,232.2 504.4,231.7 505.2,231.1 506.1,230.5 506.9,229.7 507.8,228.8 508.6,227.8 509.5,226.6 510.3,225.5 511.2,224.0 512.1,222.2 512.9,220.1 513.8,217.8 514.6,215.5 515.5,212.8 516.3,210.3 517.2,207.8 518.0,205.3 518.9,202.8 519.8,200.1 520.6,197.1 521.5,193.4 522.3,189.4 523.2,185.5 524.0,181.3 524.9,177.1 525.7,172.8 526.6,169.1 527.5,165.6 528.3,161.3 529.2,157.6 530.0,153.2 530.9,149.0 531.7,144.7 532.6,140.0 533.4,135.9 534.3,131.7 535.2,128.2 536.0,124.4 536.9,120.6 537.7,117.1 538.6,113.2 539.4,108.9 540.3,104.6 541.1,101.2 542.0,98.4 542.9,95.6 543.7,93.1 544.6,90.5 545.4,88.2 546.3,85.7 547.1,83.9 548.0,82.6 548.8,81.5 549.7,80.8 550.6,79.7 551.4,79.1 552.3,78.4 553.1,77.9 554.0,77.8 554.8,77.6 555.7,77.2 556.5,77.5 557.4,77.8 558.3,78.7 559.1,78.7 560.0,79.0 560.8,79.8 561.7,80.5 562.5,81.2 563.4,82.0 564.2,83.9 565.1,85.4 566.0,87.0 566.8,88.6 567.7,90.5 568.5,92.5 569.4,93.7 570.2,95.6 571.1,97.7 571.9,100.2 572.8,102.5 573.7,104.8 574.5,107.2 575.4,108.6 576.2,110.3 577.1,112.1 577.9,114.2 578.8,116.2 579.6,118.2 580.5,120.0 581.4,122.0 582.2,124.2 583.1,127.2 583.9,129.8 584.8,131.7 585.6,133.7 586.5,135.8 587.4,137.6 588.2,139.8 589.1,141.3 589.9,143.7 590.8,144.8 591.6,146.5 592.5,148.2 593.3,150.2 594.2,152.0 595.1,154.0 595.9,156.2 596.8,158.0 597.6,159.7 598.5,161.2 599.3,163.0 600.2,164.8 601.0,166.5 601.9,168.2 602.8,169.8 603.6,171.3 604.5,172.9 605.3,174.3 606.2,175.8 607.0,177.2 607.9,178.6 608.7,179.9 609.6,181.3 610.5,182.4 611.3,183.8 612.2,184.9 613.0,186.1 613.9,187.3 614.7,188.6 615.6,189.8 616.4,190.9 617.3,192.1 618.2,193.4 619.0,194.6 619.9,195.8 620.7,197.0 621.6,198.1 622.4,199.2 623.3,200.2 624.1,201.2 625.0,202.1 625.9,203.0 626.7,203.8 627.6,204.7 628.4,205.6 629.3,206.6 630.1,207.8 631.0,208.8 631.8,209.8 632.7,210.6 633.6,211.3 634.4,212.0 635.3,212.7 636.1,213.3 637.0,213.9 637.8,214.5 638.7,215.0 639.5,215.6 640.4,216.1 641.3,216.6 642.1,217.2 643.0,217.7 643.8,218.2 644.7,218.7 645.5,219.3 646.4,219.9 647.2,220.5 648.1,221.0 649.0,221.6 649.8,222.1 650.7,222.7 651.5,223.2 652.4,223.7 653.2,224.2 654.1,224.7 654.9,225.1 655.8,225.5 656.7,225.9 657.5,226.3 658.4,226.6 659.2,227.0 660.1,227.3 660.9,227.6 661.8,227.9 662.6,228.2 663.5,228.5 664.4,228.8 665.2,229.1 666.1,229.4 666.9,229.6 667.8,229.8 668.6,230.1 669.5,230.3 670.3,230.5 671.2,230.8 672.1,231.0 672.9,231.2 673.8,231.4 674.6,231.6 675.5,231.8 676.3,232.0 677.2,232.1 678.0,232.3 678.9,232.5 679.8,232.6 680.6,232.8 681.5,232.9 682.3,233.0 683.2,233.2 684.0,233.3 684.9,233.4 685.7,233.5 686.6,233.7 687.5,233.8 688.3,233.9 689.2,234.0 690.0,234.1 690.9,234.2 691.7,234.3 692.6,234.4 693.4,234.4 694.3,234.5" fill="none" stroke="#ff8000" stroke-width="0.9" stroke-linejoin="round" />
<polyline points="489.0,236.6 489.8,236.5 490.7,236.4 491.5,236.3 492.4,236.1 493.2,236.0 494.1,235.8 494.9,235.6 495.8,235.3 496.7,235.0 497.5,234.7 498.4,234.4 499.2,234.0 500.1,233.7 500.9,233.4 501.8,233.0 502.6,232.6 503.5,232.2 504.4,231.7 505.2,231.1 506.1,230.5 506.9,229.8 507.8,228.8 508.6,227.8 509.5,226.6 510.3,225.4 511.2,224.0 512.1,222.2 512.9,220.2 513.8,218.0 514.6,215.8 515.5,213.2 516.3,210.4 517.2,207.9 518.0,205.3 518.9,202.7 519.8,199.9 520.6,196.7 521.5,193.2 522.3,189.4 523.2,185.2 524.0,181.2 524.9,176.8 525.7,173.1 526.6,169.1 527.5,166.1 528.3,162.1 529.2,158.3 530.0,153.5 530.9,149.5 531.7,144.7 532.6,140.4 533.4,136.0 534.3,131.8 535.2,127.9 536.0,124.6 536.9,121.8 537.7,118.1 538.6,114.2 539.4,109.2 540.3,105.3 541.1,101.4 542.0,97.9 542.9,94.7 543.7,92.1 544.6,90.0 545.4,87.5 546.3,85.3 547.1,83.3 548.0,82.2 548.8,80.8 549.7,80.0 550.6,79.3 551.4,78.8 552.3,78.2 553.1,77.5 554.0,77.2 554.8,77.1 555.7,77.2 556.5,77.5 557.4,77.4 558.3,78.0 559.1,78.6 560.0,79.3 560.8,79.7 561.7,80.9 562.5,82.0 563.4,83.3 564.2,84.0 565.1,85.1 566.0,86.6 566.8,88.7 567.7,90.7 568.5,92.3 569.4,94.3 570.2,96.2 571.1,98.8 571.9,100.5 572.8,102.7 573.7,104.3 574.5,106.2 575.4,108.0 576.2,110.2 577.1,112.2 577.9,114.1 578.8,115.8 579.6,117.6 580.5,120.3 581.4,122.5 582.2,125.4 583.1,128.0 583.9,130.9 584.8,132.8 585.6,134.1 586.5,135.6 587.4,137.2 588.2,139.2 589.1,141.7 589.9,144.0 590.8,145.8 591.6,147.0 592.5,148.5 593.3,150.5 594.2,152.5 595.1,154.2 595.9,155.9 596.8,157.9 597.6,159.7 598.5,161.4 599.3,162.9 600.2,164.9 601.0,166.8 601.9,168.5 602.8,169.7 603.6,171.4 604.5,173.1 605.3,174.8 606.2,176.2 607.0,177.6 607.9,178.9 608.7,180.2 609.6,181.4 610.5,182.6 611.3,183.9 612.2,185.1 613.0,186.4 613.9,187.5 614.7,188.8 615.6,189.9 616.4,191.1 617.3,192.3 618.2,193.5 619.0,194.7 619.9,195.9 620.7,197.0 621.6,198.1 622.4,199.2 623.3,200.3 624.1,201.3 625.0,202.2 625.9,203.0 626.7,203.8 627.6,204.7 628.4,205.6 629.3,206.7 630.1,207.8 631.0,208.9 631.8,209.8 632.7,210.6 633.6,211.3 634.4,212.0 635.3,212.7 636.1,213.3 637.0,213.9 637.8,214.5 638.7,215.1 639.5,215.6 640.4,216.2 641.3,216.7 642.1,217.2 643.0,217.7 643.8,218.3 644.7,218.8 645.5,219.4 646.4,219.9 647.2,220.5 648.1,221.1 649.0,221.6 649.8,222.2 650.7,222.7 651.5,223.2 652.4,223.7 653.2,224.2 654.1,224.7 654.9,225.1 655.8,225.5 656.7,225.9 657.5,226.3 658.4,226.6 659.2,227.0 660.1,227.3 660.9,227.6 661.8,228.0 662.6,228.2 663.5,228.5 664.4,228.8 665.2,229.1 666.1,229.4 666.9,229.6 667.8,229.9 668.6,230.1 669.5,230.3 670.3,230.5 671.2,230.8 672.1,231.0 672.9,231.2 673.8,231.4 674.6,231.6 675.5,231.8 676.3,232.0 677.2,232.1 678.0,232.3 678.9,232.5 679.8,232.6 680.6,232.8 681.5,232.9 682.3,233.1 683.2,233.2 684.0,233.3 684.9,233.4 685.7,233.6 686.6,233.7 687.5,233.8 688.3,233.9 689.2,234.0 690.0,234.1 690.9,234.2 691.7,234.3 692.6,234.4 693.4,234.4 694.3,234.5" fill="none" stroke="#a020a0" stroke-width="0.9" stroke-linejoin="round" />
<polyline points="489.0,236.6 489.8,236.5 490.7,236.4 491.5,236.3 492.4,236.1 493.2,236.0 494.1,235.8 494.9,235.5 495.8,235.3 496.7,235.0 497.5,234.7 498.4,234.4 499.2,234.0 500.1,233.7 500.9,233.4 501.8,233.0 502.6,232.6 503.5,232.1 504.4,231.6 505.2,231.1 506.1,230.5 506.9,229.6 507.8,228.7 508.6,227.6 509.5,226.5 510.3,225.2 511.2,223.8 512.1,222.0 512.9,220.1 513.8,218.0 514.6,215.7 515.5,212.9 516.3,210.2 517.2,207.6 518.0,205.3 518.9,202.8 519.8,199.8 520.6,196.5 521.5,193.0 522.3,189.2 523.2,185.1 524.0,180.7 524.9,176.7 525.7,172.3 526.6,169.0 527.5,165.4 528.3,161.8 529.2,157.6 530.0,153.0 530.9,148.5 531.7,143.9 532.6,139.0 533.4,134.7 534.3,130.4 535.2,126.7 536.0,123.3 536.9,119.3 537.7,115.7 538.6,112.0 539.4,107.8 540.3,103.6 541.1,99.5 542.0,97.0 542.9,94.2 543.7,91.6 544.6,88.8 545.4,86.5 546.3,84.8 547.1,82.7 548.0,81.1 548.8,79.7 549.7,79.4 550.6,78.8 551.4,78.1 552.3,77.0 553.1,76.4 554.0,76.1 554.8,76.0 555.7,76.3 556.5,76.7 557.4,76.6 558.3,76.7 559.1,76.9 560.0,78.0 560.8,79.1 561.7,80.0 562.5,80.8 563.4,82.0 564.2,83.4 565.1,84.8 566.0,86.0 566.8,87.5 567.7,89.4 568.5,91.1 569.4,93.4 570.2,95.2 571.1,97.4 571.9,99.2 572.8,101.6 573.7,103.8 574.5,105.8 575.4,107.7 576.2,109.8 577.1,111.9 577.9,114.2 578.8,115.9 579.6,117.4 580.5,118.7 581.4,120.6 582.2,123.2 583.1,126.0 583.9,128.4 584.8,130.6 585.6,133.0 586.5,135.1 587.4,136.9 588.2,138.9 589.1,140.9 589.9,142.9 590.8,144.2 591.6,145.8 592.5,147.7 593.3,149.7 594.2,151.4 595.1,153.2 595.9,154.9 596.8,157.1 597.6,158.8 598.5,160.6 599.3,162.4 600.2,164.4 601.0,166.3 601.9,167.8 602.8,169.3 603.6,170.6 604.5,171.9 605.3,173.6 606.2,175.3 607.0,176.9 607.9,178.3 608.7,179.6 609.6,180.9 610.5,182.2 611.3,183.5 612.2,184.7 613.0,185.8 613.9,187.0 614.7,188.1 615.6,189.3 616.4,190.6 617.3,191.8 618.2,193.1 619.0,194.2 619.9,195.5 620.7,196.7 621.6,197.8 622.4,198.9 623.3,200.0 624.1,200.9 625.0,201.8 625.9,202.6 626.7,203.6 627.6,204.4 628.4,205.3 629.3,206.4 630.1,207.5 631.0,208.6 631.8,209.6 632.7,210.4 633.6,211.1 634.4,211.8 635.3,212.5 636.1,213.1 637.0,213.7 637.8,214.3 638.7,214.8 639.5,215.4 640.4,215.9 641.3,216.5 642.1,217.0 643.0,217.6 643.8,218.1 644.7,218.7 645.5,219.2 646.4,219.8 647.2,220.3 648.1,220.9 649.0,221.5 649.8,222.0 650.7,222.5 651.5,223.1 652.4,223.6 653.2,224.1 654.1,224.6 654.9,225.0 655.8,225.4 656.7,225.8 657.5,226.2 658.4,226.6 659.2,226.9 660.1,227.2 660.9,227.6 661.8,227.9 662.6,228.2 663.5,228.5 664.4,228.7 665.2,229.0 666.1,229.3 666.9,229.5 667.8,229.8 668.6,230.0 669.5,230.3 670.3,230.5 671.2,230.7 672.1,230.9 672.9,231.1 673.8,231.4 674.6,231.5 675.5,231.7 676.3,231.9 677.2,232.1 678.0,232.3 678.9,232.4 679.8,232.6 680.6,232.7 681.5,232.9 682.3,233.0 683.2,233.1 684.0,233.3 684.9,233.4 685.7,233.5 686.6,233.6 687.5,233.8 688.3,233.9 689.2,234.0 690.0,234.1 690.9,234.2 691.7,234.3 692.6,234.3 693.4,234.4 694.3,234.5" fill="none" stroke="#a040ff" stroke-width="0.9" stroke-linejoin="round" />
<polyline points="489.0,236.6 489.8,236.5 490.7,236.4 491.5,236.3 492.4,236.1 493.2,236.0 494.1,235.8 494.9,235.5 495.8,235.3 496.7,235.0 497.5,234.6 498.4,234.3 499.2,234.0 500.1,233.6 500.9,233.3 501.8,232.9 502.6,232.5 503.5,232.1 504.4,231.6 505.2,231.1 506.1,230.4 506.9,229.6 507.8,228.7 508.6,227.6 509.5,226.5 510.3,225.2 511.2,223.8 512.1,222.0 512.9,219.9 513.8,217.7 514.6,215.4 515.5,212.6 516.3,209.9 517.2,207.2 518.0,204.9 518.9,202.4 519.8,199.7 520.6,196.4 521.5,192.8 522.3,189.2 523.2,185.0 524.0,180.4 524.9,175.6 525.7,171.9 526.6,168.3 527.5,164.7 528.3,160.3 529.2,156.4 530.0,151.9 530.9,147.5 531.7,143.1 532.6,138.7 533.4,134.8 534.3,130.7 535.2,127.1 536.0,123.3 536.9,119.2 537.7,115.1 538.6,111.2 539.4,107.1 540.3,102.8 541.1,99.2 542.0,96.3 542.9,93.9 543.7,91.0 544.6,88.0 545.4,85.7 546.3,83.4 547.1,81.4 548.0,79.3 548.8,77.9 549.7,77.4 550.6,77.1 551.4,76.9 552.3,76.4 553.1,75.6 554.0,75.4 554.8,75.7 555.7,76.0 556.5,76.3 557.4,76.1 558.3,76.1 559.1,76.2 560.0,76.6 560.8,77.4 561.7,78.6 562.5,79.8 563.4,80.9 564.2,82.0 565.1,83.4 566.0,85.1 566.8,86.8 567.7,88.5 568.5,89.8 569.4,91.9 570.2,94.1 571.1,96.7 571.9,98.5 572.8,100.4 573.7,102.6 574.5,104.9 575.4,107.3 576.2,109.2 577.1,111.4 577.9,113.0 578.8,115.0 579.6,116.6 580.5,118.7 581.4,120.7 582.2,123.3 583.1,125.7 583.9,127.6 584.8,130.2 585.6,132.5 586.5,135.0 587.4,136.5 588.2,138.1 589.1,139.8 589.9,141.5 590.8,143.5 591.6,145.0 592.5,147.2 593.3,148.7 594.2,151.4 595.1,153.4 595.9,155.5 596.8,156.6 597.6,158.4 598.5,160.4 599.3,162.3 600.2,163.9 601.0,165.4 601.9,167.3 602.8,168.7 603.6,170.2 604.5,171.7 605.3,173.4 606.2,175.1 607.0,176.6 607.9,178.0 608.7,179.5 609.6,180.6 610.5,181.9 611.3,183.1 612.2,184.5 613.0,185.7 613.9,186.9 614.7,188.1 615.6,189.3 616.4,190.5 617.3,191.6 618.2,192.9 619.0,194.1 619.9,195.3 620.7,196.4 621.6,197.6 622.4,198.7 623.3,199.8 624.1,200.7 625.0,201.7 625.9,202.6 626.7,203.4 627.6,204.3 628.4,205.2 629.3,206.2 630.1,207.4 631.0,208.5 631.8,209.4 632.7,210.2 633.6,211.0 634.4,211.7 635.3,212.3 636.1,213.0 637.0,213.6 637.8,214.2 638.7,214.8 639.5,215.3 640.4,215.8 641.3,216.4 642.1,216.9 643.0,217.5 643.8,218.0 644.7,218.5 645.5,219.1 646.4,219.6 647.2,220.2 648.1,220.8 649.0,221.4 649.8,221.9 650.7,222.5 651.5,223.0 652.4,223.5 653.2,224.0 654.1,224.5 654.9,224.9 655.8,225.4 656.7,225.8 657.5,226.1 658.4,226.5 659.2,226.8 660.1,227.2 660.9,227.5 661.8,227.8 662.6,228.1 663.5,228.4 664.4,228.7 665.2,229.0 666.1,229.2 666.9,229.5 667.8,229.8 668.6,230.0 669.5,230.2 670.3,230.5 671.2,230.7 672.1,230.9 672.9,231.1 673.8,231.3 674.6,231.5 675.5,231.7 676.3,231.9 677.2,232.1 678.0,232.3 678.9,232.4 679.8,232.6 680.6,232.7 681.5,232.9 682.3,233.0 683.2,233.1 684.0,233.3 684.9,233.4 685.7,233.5 686.6,233.6 687.5,233.7 688.3,233.9 689.2,234.0 690.0,234.1 690.9,234.2 691.7,234.2 692.6,234.3 693.4,234.4 694.3,234.5" fill="none" stroke="#808080" stroke-width="0.9" stroke-linejoin="round" />
<polyline points="489.0,236.6 489.8,236.5 490.7,236.4 491.5,236.3 492.4,236.1 493.2,236.0 494.1,235.8 494.9,235.5 495.8,235.3 496.7,235.0 497.5,234.7 498.4,234.4 499.2,234.0 500.1,233.7 500.9,233.4 501.8,233.0 502.6,232.6 503.5,232.1 504.4,231.6 505.2,231.1 506.1,230.4 506.9,229.6 507.8,228.7 508.6,227.7 509.5,226.5 510.3,225.2 511.2,223.8 512.1,222.1 512.9,220.2 513.8,218.1 514.6,215.6 515.5,212.6 516.3,209.7 517.2,207.2 518.0,205.0 518.9,202.8 519.8,200.1 520.6,196.9 521.5,192.8 522.3,188.9 523.2,184.5 524.0,180.4 524.9,176.0 525.7,171.8 526.6,167.9 527.5,164.2 528.3,160.2 529.2,156.4 530.0,152.2 530.9,147.9 531.7,142.9 532.6,138.5 533.4,134.3 534.3,130.7 535.2,126.8 536.0,123.1 536.9,119.4 537.7,115.6 538.6,111.7 539.4,107.6 540.3,103.2 541.1,99.9 542.0,96.2 542.9,93.6 543.7,90.3 544.6,87.7 545.4,85.2 546.3,83.0 547.1,81.5 548.0,80.2 548.8,79.3 549.7,78.2 550.6,77.5 551.4,76.7 552.3,75.6 553.1,74.9 554.0,75.1 554.8,75.8 555.7,76.1 556.5,76.0 557.4,76.3 558.3,76.5 559.1,77.1 560.0,77.4 560.8,78.2 561.7,78.6 562.5,79.8 563.4,80.4 564.2,81.9 565.1,83.1 566.0,85.2 566.8,86.8 567.7,88.9 568.5,90.7 569.4,92.4 570.2,94.4 571.1,96.5 571.9,98.7 572.8,100.7 573.7,103.3 574.5,105.8 575.4,107.6 576.2,109.1 577.1,110.8 577.9,112.8 578.8,114.9 579.6,116.5 580.5,118.4 581.4,120.5 582.2,123.1 583.1,126.0 583.9,128.5 584.8,130.5 585.6,132.5 586.5,134.8 587.4,136.7 588.2,138.4 589.1,139.5 589.9,141.6 590.8,143.7 591.6,146.0 592.5,147.5 593.3,148.8 594.2,150.3 595.1,152.3 595.9,154.3 596.8,156.2 597.6,158.3 598.5,160.2 599.3,162.2 600.2,163.7 601.0,165.2 601.9,167.0 602.8,169.1 603.6,171.0 604.5,172.6 605.3,173.8 606.2,175.1 607.0,176.5 607.9,178.0 608.7,179.4 609.6,180.6 610.5,181.7 611.3,183.0 612.2,184.3 613.0,185.6 613.9,186.9 614.7,188.1 615.6,189.3 616.4,190.5 617.3,191.6 618.2,192.9 619.0,194.1 619.9,195.4 620.7,196.5 621.6,197.6 622.4,198.7 623.3,199.7 624.1,200.8 625.0,201.7 625.9,202.5 626.7,203.4 627.6,204.3 628.4,205.2 629.3,206.3 630.1,207.4 631.0,208.5 631.8,209.5 632.7,210.3 633.6,211.0 634.4,211.7 635.3,212.4 636.1,213.0 637.0,213.6 637.8,214.2 638.7,214.8 639.5,215.3 640.4,215.9 641.3,216.4 642.1,216.9 643.0,217.5 643.8,218.0 644.7,218.6 645.5,219.1 646.4,219.7 647.2,220.3 648.1,220.8 649.0,221.4 649.8,222.0 650.7,222.5 651.5,223.0 652.4,223.5 653.2,224.1 654.1,224.5 654.9,225.0 655.8,225.4 656.7,225.8 657.5,226.2 658.4,226.5 659.2,226.9 660.1,227.2 660.9,227.5 661.8,227.8 662.6,228.1 663.5,228.4 664.4,228.7 665.2,229.0 666.1,229.3 666.9,229.5 667.8,229.8 668.6,230.0 669.5,230.2 670.3,230.5 671.2,230.7 672.1,230.9 672.9,231.1 673.8,231.3 674.6,231.5 675.5,231.7 676.3,231.9 677.2,232.1 678.0,232.3 678.9,232.4 679.8,232.6 680.6,232.7 681.5,232.9 682.3,233.0 683.2,233.1 684.0,233.3 684.9,233.4 685.7,233.5 686.6,233.6 687.5,233.8 688.3,233.9 689.2,234.0 690.0,234.1 690.9,234.2 691.7,234.3 692.6,234.3 693.4,234.4 694.3,234.5" fill="none" stroke="#ff0000" stroke-width="0.9" stroke-linejoin="round" />
<polyline points="489.0,236.6 489.8,236.5 490.7,236.4 491.5,236.3 492.4,236.1 493.2,236.0 494.1,235.8 494.9,235.6 495.8,235.3 496.7,235.0 497.5,234.7 498.4,234.4 499.2,234.0 500.1,233.7 500.9,233.4 501.8,233.0 502.6,232.6 503.5,232.2 504.4,231.7 505.2,231.1 506.1,230.5 506.9,229.7 507.8,228.8 508.6,227.7 509.5,226.6 510.3,225.3 511.2,223.9 512.1,222.1 512.9,220.2 513.8,218.1 514.6,215.7 515.5,213.1 516.3,210.5 517.2,208.0 518.0,205.6 518.9,202.9 519.8,200.0 520.6,196.8 521.5,193.1 522.3,189.2 523.2,185.1 524.0,180.9 524.9,176.6 525.7,172.4 526.6,169.4 527.5,166.2 528.3,162.7 529.2,158.3 530.0,153.5 530.9,148.9 531.7,144.3 532.6,140.1 533.4,136.0 534.3,132.3 535.2,128.5 536.0,124.9 536.9,121.1 537.7,117.4 538.6,113.4 539.4,108.8 540.3,104.6 541.1,101.2 542.0,97.8 542.9,95.1 543.7,92.3 544.6,89.8 545.4,87.2 546.3,84.7 547.1,82.8 548.0,81.5 548.8,80.8 549.7,80.3 550.6,79.8 551.4,78.6 552.3,77.8 553.1,77.3 554.0,78.2 554.8,78.6 555.7,78.3 556.5,77.7 557.4,77.7 558.3,78.2 559.1,78.8 560.0,79.4 560.8,80.5 561.7,81.7 562.5,82.6 563.4,83.4 564.2,84.3 565.1,85.6 566.0,87.1 566.8,88.7 567.7,91.4 568.5,93.2 569.4,94.9 570.2,96.1 571.1,98.0 571.9,100.4 572.8,102.5 573.7,104.4 574.5,106.7 575.4,108.8 576.2,111.1 577.1,112.7 577.9,114.3 578.8,116.3 579.6,118.4 580.5,120.3 581.4,122.4 582.2,124.5 583.1,127.7 583.9,130.2 584.8,132.1 585.6,134.1 586.5,135.7 587.4,138.0 588.2,139.4 589.1,141.4 589.9,142.9 590.8,145.2 591.6,147.1 592.5,148.6 593.3,150.1 594.2,151.9 595.1,153.9 595.9,155.8 596.8,157.5 597.6,159.6 598.5,161.3 599.3,163.1 600.2,164.9 601.0,166.7 601.9,168.2 602.8,169.6 603.6,171.2 604.5,172.7 605.3,174.4 606.2,175.7 607.0,177.4 607.9,178.7 608.7,180.0 609.6,181.2 610.5,182.5 611.3,184.0 612.2,185.2 613.0,186.4 613.9,187.6 614.7,188.7 615.6,189.9 616.4,191.0 617.3,192.2 618.2,193.4 619.0,194.6 619.9,195.8 620.7,196.9 621.6,198.1 622.4,199.2 623.3,200.3 624.1,201.3 625.0,202.2 625.9,203.1 626.7,203.9 627.6,204.8 628.4,205.6 629.3,206.7 630.1,207.8 631.0,208.9 631.8,209.8 632.7,210.6 633.6,211.4 634.4,212.0 635.3,212.7 636.1,213.3 637.0,213.9 637.8,214.5 638.7,215.1 639.5,215.6 640.4,216.1 641.3,216.7 642.1,217.2 643.0,217.7 643.8,218.2 644.7,218.8 645.5,219.3 646.4,219.9 647.2,220.5 648.1,221.1 649.0,221.6 649.8,222.1 650.7,222.7 651.5,223.2 652.4,223.7 653.2,224.2 654.1,224.7 654.9,225.1 655.8,225.5 656.7,225.9 657.5,226.3 658.4,226.6 659.2,227.0 660.1,227.3 660.9,227.6 661.8,228.0 662.6,228.3 663.5,228.6 664.4,228.8 665.2,229.1 666.1,229.4 666.9,229.6 667.8,229.9 668.6,230.1 669.5,230.3 670.3,230.5 671.2,230.8 672.1,231.0 672.9,231.2 673.8,231.4 674.6,231.6 675.5,231.8 676.3,232.0 677.2,232.1 678.0,232.3 678.9,232.5 679.8,232.6 680.6,232.8 681.5,232.9 682.3,233.0 683.2,233.2 684.0,233.3 684.9,233.4 685.7,233.6 686.6,233.7 687.5,233.8 688.3,233.9 689.2,234.0 690.0,234.1 690.9,234.2 691.7,234.3 692.6,234.4 693.4,234.4 694.3,234.5" fill="none" stroke="#0000ff" stroke-width="0.9" stroke-linejoin="round" />
<polyline points="489.0,236.6 489.8,236.5 490.7,236.4 491.5,236.3 492.4,236.1 493.2,236.0 494.1,235.8 494.9,235.5 495.8,235.3 496.7,235.0 497.5,234.7 498.4,234.4 499.2,234.0 500.1,233.7 500.9,233.3 501.8,233.0 502.6,232.6 503.5,232.1 504.4,231.7 505.2,231.2 506.1,230.5 506.9,229.7 507.8,228.8 508.6,227.7 509.5,226.5 510.3,225.3 511.2,223.8 512.1,222.1 512.9,220.1 513.8,218.0 514.6,215.5 515.5,212.7 516.3,209.9 517.2,207.4 518.0,205.1 518.9,202.8 519.8,200.0 520.6,196.7 521.5,193.0 522.3,189.0 523.2,185.1 524.0,180.9 524.9,176.8 525.7,172.6 526.6,169.0 527.5,165.4 528.3,161.9 529.2,158.0 530.0,153.4 530.9,148.5 531.7,143.4 532.6,138.8 533.4,134.9 534.3,130.8 535.2,127.1 536.0,123.3 536.9,119.6 537.7,115.8 538.6,111.9 539.4,108.2 540.3,104.6 541.1,100.6 542.0,97.0 542.9,93.5 543.7,91.0 544.6,88.1 545.4,86.2 546.3,84.0 547.1,82.9 548.0,81.4 548.8,79.9 549.7,79.0 550.6,77.9 551.4,77.6 552.3,77.0 553.1,76.7 554.0,76.6 554.8,76.1 555.7,76.2 556.5,76.5 557.4,76.9 558.3,77.4 559.1,77.5 560.0,78.1 560.8,78.5 561.7,79.6 562.5,80.4 563.4,81.1 564.2,82.1 565.1,83.6 566.0,85.8 566.8,87.8 567.7,89.5 568.5,91.4 569.4,93.3 570.2,95.3 571.1,97.2 571.9,99.1 572.8,100.6 573.7,102.7 574.5,105.0 575.4,107.7 576.2,109.8 577.1,111.8 577.9,113.8 578.8,115.9 579.6,117.8 580.5,120.1 581.4,121.8 582.2,123.9 583.1,126.1 583.9,128.5 584.8,131.0 585.6,133.0 586.5,134.8 587.4,136.9 588.2,139.0 589.1,141.4 589.9,142.7 590.8,144.4 591.6,145.9 592.5,147.7 593.3,149.3 594.2,151.3 595.1,153.3 595.9,155.8 596.8,157.9 597.6,159.6 598.5,160.8 599.3,162.5 600.2,164.0 601.0,165.8 601.9,167.4 602.8,169.2 603.6,170.6 604.5,172.3 605.3,173.6 606.2,175.3 607.0,176.8 607.9,178.3 608.7,179.6 609.6,180.8 610.5,182.1 611.3,183.4 612.2,184.6 613.0,185.8 613.9,187.0 614.7,188.2 615.6,189.4 616.4,190.6 617.3,191.8 618.2,193.1 619.0,194.3 619.9,195.6 620.7,196.7 621.6,197.8 622.4,198.9 623.3,199.9 624.1,200.9 625.0,201.8 625.9,202.7 626.7,203.6 627.6,204.5 628.4,205.4 629.3,206.4 630.1,207.6 631.0,208.6 631.8,209.6 632.7,210.4 633.6,211.1 634.4,211.8 635.3,212.5 636.1,213.2 637.0,213.7 637.8,214.3 638.7,214.9 639.5,215.4 640.4,216.0 641.3,216.5 642.1,217.0 643.0,217.6 643.8,218.1 644.7,218.7 645.5,219.2 646.4,219.8 647.2,220.4 648.1,220.9 649.0,221.5 649.8,222.0 650.7,222.6 651.5,223.1 652.4,223.6 653.2,224.1 654.1,224.6 654.9,225.0 655.8,225.4 656.7,225.8 657.5,226.2 658.4,226.5 659.2,226.9 660.1,227.2 660.9,227.6 661.8,227.9 662.6,228.2 663.5,228.5 664.4,228.7 665.2,229.0 666.1,229.3 666.9,229.5 667.8,229.8 668.6,230.0 669.5,230.3 670.3,230.5 671.2,230.7 672.1,230.9 672.9,231.1 673.8,231.4 674.6,231.5 675.5,231.7 676.3,231.9 677.2,232.1 678.0,232.3 678.9,232.4 679.8,232.6 680.6,232.7 681.5,232.9 682.3,233.0 683.2,233.1 684.0,233.3 684.9,233.4 685.7,233.5 686.6,233.6 687.5,233.8 688.3,233.9 689.2,234.0 690.0,234.1 690.9,234.2 691.7,234.3 692.6,234.3 693.4,234.4 694.3,234.5" fill="none" stroke="#008080" stroke-width="0.9" stroke-linejoin="round" />
<polyline points="489.0,236.6 489.8,236.5 490.7,236.4 491.5,236.3 492.4,236.1 493.2,236.0 494.1,235.8 494.9,235.5 495.8,235.3 496.7,235.0 497.5,234.6 498.4,234.3 499.2,234.0 500.1,233.7 500.9,233.3 501.8,232.9 502.6,232.5 503.5,232.1 504.4,231.6 505.2,231.1 506.1,230.4 506.9,229.7 507.8,228.7 508.6,227.7 509.5,226.5 510.3,225.3 511.2,223.8 512.1,222.2 512.9,220.1 513.8,218.0 514.6,215.5 515.5,212.6 516.3,209.6 517.2,207.0 518.0,204.6 518.9,202.2 519.8,199.4 520.6,196.2 521.5,192.5 522.3,188.5 523.2,184.6 524.0,180.6 524.9,176.4 525.7,172.1 526.6,168.2 527.5,164.8 528.3,160.9 529.2,156.5 530.0,151.7 530.9,147.5 531.7,143.0 532.6,138.5 533.4,134.2 534.3,130.7 535.2,127.1 536.0,123.3 536.9,119.4 537.7,115.5 538.6,111.4 539.4,107.1 540.3,103.1 541.1,99.7 542.0,96.3 542.9,93.5 543.7,90.9 544.6,88.0 545.4,84.8 546.3,82.3 547.1,80.1 548.0,79.1 548.8,78.2 549.7,77.4 550.6,77.0 551.4,76.5 552.3,75.8 553.1,75.0 554.0,74.7 554.8,75.3 555.7,75.7 556.5,75.7 557.4,75.7 558.3,75.8 559.1,76.7 560.0,77.3 560.8,78.0 561.7,78.7 562.5,79.6 563.4,80.4 564.2,81.1 565.1,82.2 566.0,83.8 566.8,85.5 567.7,87.7 568.5,90.1 569.4,92.1 570.2,93.5 571.1,95.3 571.9,97.7 572.8,100.5 573.7,102.5 574.5,104.8 575.4,106.4 576.2,108.8 577.1,110.7 577.9,112.9 578.8,114.9 579.6,116.6 580.5,118.5 581.4,120.3 582.2,122.5 583.1,125.3 583.9,127.8 584.8,130.5 585.6,132.8 586.5,135.1 587.4,137.1 588.2,138.6 589.1,140.1 589.9,141.5 590.8,143.6 591.6,145.5 592.5,147.5 593.3,149.0 594.2,150.7 595.1,152.8 595.9,154.7 596.8,157.1 597.6,158.8 598.5,160.9 599.3,162.4 600.2,163.9 601.0,165.4 601.9,167.1 602.8,168.8 603.6,170.4 604.5,171.8 605.3,173.3 606.2,174.6 607.0,176.1 607.9,177.5 608.7,178.9 609.6,180.3 610.5,181.7 611.3,183.0 612.2,184.3 613.0,185.4 613.9,186.6 614.7,187.8 615.6,189.0 616.4,190.2 617.3,191.5 618.2,192.7 619.0,193.9 619.9,195.1 620.7,196.3 621.6,197.5 622.4,198.6 623.3,199.6 624.1,200.7 625.0,201.6 625.9,202.5 626.7,203.3 627.6,204.2 628.4,205.1 629.3,206.1 630.1,207.4 631.0,208.5 631.8,209.4 632.7,210.2 633.6,210.9 634.4,211.6 635.3,212.3 636.1,212.9 637.0,213.6 637.8,214.2 638.7,214.7 639.5,215.3 640.4,215.8 641.3,216.3 642.1,216.9 643.0,217.4 643.8,218.0 644.7,218.5 645.5,219.1 646.4,219.7 647.2,220.3 648.1,220.8 649.0,221.4 649.8,221.9 650.7,222.4 651.5,223.0 652.4,223.5 653.2,224.0 654.1,224.5 654.9,224.9 655.8,225.3 656.7,225.7 657.5,226.1 658.4,226.5 659.2,226.8 660.1,227.2 660.9,227.5 661.8,227.8 662.6,228.1 663.5,228.4 664.4,228.7 665.2,229.0 666.1,229.2 666.9,229.5 667.8,229.7 668.6,230.0 669.5,230.2 670.3,230.4 671.2,230.7 672.1,230.9 672.9,231.1 673.8,231.3 674.6,231.5 675.5,231.7 676.3,231.9 677.2,232.1 678.0,232.2 678.9,232.4 679.8,232.6 680.6,232.7 681.5,232.8 682.3,233.0 683.2,233.1 684.0,233.3 684.9,233.4 685.7,233.5 686.6,233.6 687.5,233.7 688.3,233.9 689.2,234.0 690.0,234.1 690.9,234.2 691.7,234.2 692.6,234.3 693.4,234.4 694.3,234.5" fill="none" stroke="#ff00ff" stroke-width="0.9" stroke-linejoin="round" />
<polyline points="489.0,236.6 489.8,236.5 490.7,236.4 491.5,236.3 492.4,236.1 493.2,236.0 494.1,235.8 494.9,235.5 495.8,235.3 496.7,235.0 497.5,234.7 498.4,234.4 499.2,234.1 500.1,233.7 500.9,233.4 501.8,233.0 502.6,232.6 503.5,232.2 504.4,231.7 505.2,231.2 506.1,230.5 506.9,229.7 507.8,228.7 508.6,227.6 509.5,226.5 510.3,225.3 511.2,224.0 512.1,222.3 512.9,220.3 513.8,218.1 514.6,215.7 515.5,213.0 516.3,210.3 517.2,207.7 518.0,205.4 518.9,202.9 519.8,200.2 520.6,196.9 521.5,193.2 522.3,189.5 523.2,185.5 524.0,181.3 524.9,176.7 525.7,172.5 526.6,169.2 527.5,165.7 528.3,161.9 529.2,157.9 530.0,153.5 530.9,149.2 531.7,144.4 532.6,140.1 533.4,136.2 534.3,131.9 535.2,127.6 536.0,123.3 536.9,120.1 537.7,117.0 538.6,113.2 539.4,108.7 540.3,104.4 541.1,101.1 542.0,98.2 542.9,95.3 543.7,92.1 544.6,89.5 545.4,87.1 546.3,85.3 547.1,83.2 548.0,82.0 548.8,80.8 549.7,79.9 550.6,78.6 551.4,77.7 552.3,77.5 553.1,77.9 554.0,77.9 554.8,77.1 555.7,76.7 556.5,77.1 557.4,77.7 558.3,77.8 559.1,77.8 560.0,78.5 560.8,78.9 561.7,80.0 562.5,81.1 563.4,82.7 564.2,83.7 565.1,84.8 566.0,86.2 566.8,87.9 567.7,90.1 568.5,92.2 569.4,94.8 570.2,96.9 571.1,99.2 571.9,100.7 572.8,102.1 573.7,103.5 574.5,105.7 575.4,108.2 576.2,110.5 577.1,112.5 577.9,114.0 578.8,116.4 579.6,118.2 580.5,120.5 581.4,122.1 582.2,124.3 583.1,126.8 583.9,129.4 584.8,131.7 585.6,133.7 586.5,135.8 587.4,138.4 588.2,140.4 589.1,142.3 589.9,142.7 590.8,144.5 591.6,146.0 592.5,148.3 593.3,149.9 594.2,151.7 595.1,153.8 595.9,155.7 596.8,157.6 597.6,159.9 598.5,161.9 599.3,163.6 600.2,165.0 601.0,166.7 601.9,168.2 602.8,169.6 603.6,171.1 604.5,172.8 605.3,174.4 606.2,175.8 607.0,177.3 607.9,178.6 608.7,179.8 609.6,181.0 610.5,182.5 611.3,183.8 612.2,185.0 613.0,186.1 613.9,187.3 614.7,188.6 615.6,189.8 616.4,190.9 617.3,192.1 618.2,193.4 619.0,194.6 619.9,195.7 620.7,196.9 621.6,198.0 622.4,199.1 623.3,200.1 624.1,201.1 625.0,202.0 625.9,202.9 626.7,203.7 627.6,204.6 628.4,205.5 629.3,206.6 630.1,207.7 631.0,208.7 631.8,209.7 632.7,210.5 633.6,211.3 634.4,212.0 635.3,212.6 636.1,213.3 637.0,213.8 637.8,214.4 638.7,214.9 639.5,215.5 640.4,216.1 641.3,216.6 642.1,217.1 643.0,217.7 643.8,218.2 644.7,218.7 645.5,219.3 646.4,219.9 647.2,220.4 648.1,221.0 649.0,221.6 649.8,222.1 650.7,222.6 651.5,223.2 652.4,223.7 653.2,224.2 654.1,224.6 654.9,225.1 655.8,225.5 656.7,225.9 657.5,226.3 658.4,226.6 659.2,227.0 660.1,227.3 660.9,227.6 661.8,227.9 662.6,228.2 663.5,228.5 664.4,228.8 665.2,229.1 666.1,229.3 666.9,229.6 667.8,229.8 668.6,230.1 669.5,230.3 670.3,230.5 671.2,230.8 672.1,231.0 672.9,231.2 673.8,231.4 674.6,231.6 675.5,231.8 676.3,232.0 677.2,232.1 678.0,232.3 678.9,232.5 679.8,232.6 680.6,232.8 681.5,232.9 682.3,233.0 683.2,233.2 684.0,233.3 684.9,233.4 685.7,233.5 686.6,233.7 687.5,233.8 688.3,233.9 689.2,234.0 690.0,234.1 690.9,234.2 691.7,234.3 692.6,234.4 693.4,234.4 694.3,234.5" fill="none" stroke="#808000" stroke-width="0.9" stroke-linejoin="round" />
<polyline points="489.0,236.6 489.8,236.5 490.7,236.4 491.5,236.3 492.4,236.1 493.2,236.0 494.1,235.8 494.9,235.6 495.8,235.3 496.7,235.0 497.5,234.7 498.4,234.4 499.2,234.0 500.1,233.7 500.9,233.4 501.8,233.0 502.6,232.6 503.5,232.2 504.4,231.7 505.2,231.2 506.1,230.5 506.9,229.8 507.8,229.0 508.6,228.0 509.5,226.8 510.3,225.5 511.2,224.2 512.1,222.4 512.9,220.5 513.8,218.1 514.6,215.9 515.5,213.2 516.3,210.5 517.2,208.1 518.0,205.8 518.9,203.4 519.8,200.6 520.6,197.1 521.5,193.4 522.3,189.4 523.2,185.5 524.0,181.9 524.9,177.6 525.7,174.0 526.6,169.9 527.5,166.9 528.3,162.9 529.2,158.9 530.0,154.3 530.9,149.8 531.7,145.1 532.6,140.6 533.4,136.4 534.3,132.9 535.2,129.1 536.0,125.3 536.9,121.1 537.7,118.0 538.6,114.1 539.4,110.3 540.3,105.8 541.1,102.7 542.0,99.1 542.9,96.0 543.7,93.5 544.6,90.9 545.4,88.6 546.3,86.5 547.1,84.5 548.0,83.4 548.8,82.0 549.7,81.6 550.6,81.2 551.4,80.6 552.3,79.9 553.1,79.4 554.0,78.9 554.8,78.7 555.7,78.2 556.5,78.5 557.4,78.8 558.3,79.4 559.1,80.1 560.0,80.6 560.8,81.5 561.7,82.2 562.5,83.3 563.4,84.0 564.2,84.9 565.1,86.6 566.0,88.1 566.8,89.9 567.7,91.4 568.5,93.2 569.4,95.0 570.2,97.1 571.1,99.9 571.9,102.1 572.8,103.5 573.7,105.3 574.5,107.1 575.4,109.7 576.2,111.8 577.1,114.4 577.9,116.3 578.8,118.0 579.6,119.7 580.5,121.3 581.4,123.6 582.2,126.2 583.1,128.8 583.9,130.9 584.8,132.4 585.6,134.8 586.5,136.9 587.4,138.7 588.2,140.4 589.1,141.7 589.9,144.1 590.8,146.0 591.6,148.1 592.5,149.4 593.3,150.9 594.2,152.9 595.1,154.8 595.9,156.8 596.8,158.8 597.6,160.4 598.5,162.2 599.3,163.8 600.2,165.4 601.0,167.2 601.9,168.7 602.8,170.5 603.6,171.8 604.5,173.6 605.3,175.0 606.2,176.5 607.0,177.6 607.9,179.0 608.7,180.3 609.6,181.6 610.5,182.9 611.3,184.4 612.2,185.7 613.0,186.7 613.9,187.8 614.7,189.0 615.6,190.2 616.4,191.4 617.3,192.6 618.2,193.8 619.0,194.9 619.9,196.1 620.7,197.3 621.6,198.4 622.4,199.5 623.3,200.5 624.1,201.5 625.0,202.5 625.9,203.3 626.7,204.1 627.6,205.0 628.4,205.9 629.3,207.0 630.1,208.1 631.0,209.1 631.8,210.0 632.7,210.8 633.6,211.5 634.4,212.2 635.3,212.9 636.1,213.5 637.0,214.1 637.8,214.7 638.7,215.2 639.5,215.8 640.4,216.3 641.3,216.8 642.1,217.3 643.0,217.9 643.8,218.4 644.7,219.0 645.5,219.5 646.4,220.1 647.2,220.6 648.1,221.2 649.0,221.7 649.8,222.3 650.7,222.8 651.5,223.3 652.4,223.8 653.2,224.3 654.1,224.8 654.9,225.2 655.8,225.6 656.7,226.0 657.5,226.4 658.4,226.7 659.2,227.1 660.1,227.4 660.9,227.7 661.8,228.0 662.6,228.3 663.5,228.6 664.4,228.9 665.2,229.1 666.1,229.4 666.9,229.7 667.8,229.9 668.6,230.1 669.5,230.4 670.3,230.6 671.2,230.8 672.1,231.0 672.9,231.2 673.8,231.4 674.6,231.6 675.5,231.8 676.3,232.0 677.2,232.2 678.0,232.3 678.9,232.5 679.8,232.7 680.6,232.8 681.5,232.9 682.3,233.1 683.2,233.2 684.0,233.3 684.9,233.5 685.7,233.6 686.6,233.7 687.5,233.8 688.3,233.9 689.2,234.0 690.0,234.1 690.9,234.2 691.7,234.3 692.6,234.4 693.4,234.5 694.3,234.5" fill="none" stroke="#000080" stroke-width="0.9" stroke-linejoin="round" />
<polyline points="489.0,236.6 489.8,236.5 490.7,236.4 491.5,236.3 492.4,236.1 493.2,236.0 494.1,235.8 494.9,235.6 495.8,235.3 496.7,235.0 497.5,234.7 498.4,234.4 499.2,234.1 500.1,233.8 500.9,233.4 501.8,233.1 502.6,232.7 503.5,232.3 504.4,231.8 505.2,231.2 506.1,230.5 506.9,229.8 507.8,228.9 508.6,227.9 509.5,226.7 510.3,225.5 511.2,224.1 512.1,222.6 512.9,220.6 513.8,218.4 514.6,216.0 515.5,213.4 516.3,210.7 517.2,208.1 518.0,205.9 518.9,203.5 519.8,200.8 520.6,197.6 521.5,194.1 522.3,190.5 523.2,186.6 524.0,182.2 524.9,177.8 525.7,173.8 526.6,170.4 527.5,167.0 528.3,163.4 529.2,159.5 530.0,154.9 530.9,150.2 531.7,145.8 532.6,141.8 533.4,137.6 534.3,133.3 535.2,129.5 536.0,126.4 536.9,123.1 537.7,119.3 538.6,115.1 539.4,111.0 540.3,107.3 541.1,103.9 542.0,100.6 542.9,97.6 543.7,94.8 544.6,92.5 545.4,90.2 546.3,88.5 547.1,86.4 548.0,85.1 548.8,83.6 549.7,83.1 550.6,82.4 551.4,82.0 552.3,81.1 553.1,80.6 554.0,80.3 554.8,79.9 555.7,79.8 556.5,79.9 557.4,80.9 558.3,81.4 559.1,82.1 560.0,82.3 560.8,82.8 561.7,83.3 562.5,83.9 563.4,84.8 564.2,85.9 565.1,87.9 566.0,89.6 566.8,91.5 567.7,93.3 568.5,95.1 569.4,96.5 570.2,98.1 571.1,100.4 571.9,102.9 572.8,105.5 573.7,107.5 574.5,109.2 575.4,110.6 576.2,112.7 577.1,115.0 577.9,116.6 578.8,117.6 579.6,119.1 580.5,121.2 581.4,123.5 582.2,125.8 583.1,128.9 583.9,131.3 584.8,134.1 585.6,135.8 586.5,138.2 587.4,139.7 588.2,141.6 589.1,143.6 589.9,145.3 590.8,146.9 591.6,148.4 592.5,150.1 593.3,151.9 594.2,153.9 595.1,156.0 595.9,157.6 596.8,158.8 597.6,160.1 598.5,162.3 599.3,164.3 600.2,166.3 601.0,167.9 601.9,169.3 602.8,170.9 603.6,172.3 604.5,173.9 605.3,175.3 606.2,176.7 607.0,178.2 607.9,179.6 608.7,181.0 609.6,182.4 610.5,183.7 611.3,184.9 612.2,185.9 613.0,187.1 613.9,188.3 614.7,189.5 615.6,190.6 616.4,191.9 617.3,193.1 618.2,194.2 619.0,195.3 619.9,196.4 620.7,197.6 621.6,198.7 622.4,199.7 623.3,200.8 624.1,201.7 625.0,202.7 625.9,203.5 626.7,204.4 627.6,205.2 628.4,206.1 629.3,207.2 630.1,208.3 631.0,209.4 631.8,210.2 632.7,211.0 633.6,211.8 634.4,212.4 635.3,213.1 636.1,213.7 637.0,214.2 637.8,214.8 638.7,215.4 639.5,215.9 640.4,216.4 641.3,217.0 642.1,217.5 643.0,218.0 643.8,218.6 644.7,219.1 645.5,219.6 646.4,220.2 647.2,220.7 648.1,221.3 649.0,221.8 649.8,222.4 650.7,222.9 651.5,223.4 652.4,223.9 653.2,224.4 654.1,224.9 654.9,225.3 655.8,225.7 656.7,226.1 657.5,226.4 658.4,226.8 659.2,227.1 660.1,227.5 660.9,227.8 661.8,228.1 662.6,228.4 663.5,228.7 664.4,228.9 665.2,229.2 666.1,229.5 666.9,229.7 667.8,229.9 668.6,230.2 669.5,230.4 670.3,230.6 671.2,230.9 672.1,231.1 672.9,231.3 673.8,231.5 674.6,231.7 675.5,231.9 676.3,232.0 677.2,232.2 678.0,232.4 678.9,232.5 679.8,232.7 680.6,232.8 681.5,233.0 682.3,233.1 683.2,233.2 684.0,233.4 684.9,233.5 685.7,233.6 686.6,233.7 687.5,233.8 688.3,233.9 689.2,234.0 690.0,234.1 690.9,234.2 691.7,234.3 692.6,234.4 693.4,234.5 694.3,234.5" fill="none" stroke="#800000" stroke-width="0.9" stroke-linejoin="round" />
<polyline points="489.0,236.6 489.8,236.5 490.7,236.4 491.5,236.3 492.4,236.1 493.2,236.0 494.1,235.8 494.9,235.6 495.8,235.3 496.7,235.0 497.5,234.7 498.4,234.4 499.2,234.1 500.1,233.8 500.9,233.5 501.8,233.1 502.6,232.7 503.5,232.3 504.4,231.8 505.2,231.3 506.1,230.7 506.9,229.9 507.8,229.1 508.6,228.0 509.5,226.9 510.3,225.7 511.2,224.4 512.1,222.8 512.9,220.9 513.8,218.8 514.6,216.4 515.5,213.8 516.3,211.1 517.2,208.7 518.0,206.3 518.9,204.0 519.8,201.2 520.6,198.0 521.5,194.7 522.3,190.9 523.2,187.1 524.0,182.9 524.9,178.7 525.7,174.7 526.6,171.0 527.5,168.0 528.3,164.0 529.2,160.2 530.0,155.0 530.9,150.6 531.7,145.7 532.6,141.9 533.4,138.5 534.3,135.0 535.2,131.4 536.0,127.1 536.9,123.5 537.7,120.3 538.6,116.9 539.4,112.8 540.3,108.9 541.1,105.6 542.0,102.2 542.9,98.8 543.7,96.3 544.6,94.0 545.4,91.8 546.3,89.7 547.1,87.8 548.0,86.2 548.8,85.0 549.7,84.0 550.6,83.9 551.4,83.1 552.3,83.3 553.1,82.4 554.0,82.2 554.8,81.8 555.7,82.2 556.5,83.0 557.4,83.3 558.3,83.4 559.1,83.6 560.0,84.3 560.8,84.7 561.7,85.3 562.5,85.8 563.4,86.9 564.2,88.0 565.1,89.4 566.0,91.0 566.8,92.9 567.7,94.5 568.5,96.3 569.4,97.7 570.2,99.9 571.1,101.9 571.9,104.7 572.8,106.7 573.7,108.6 574.5,110.3 575.4,112.1 576.2,114.4 577.1,116.0 577.9,118.1 578.8,119.7 579.6,122.0 580.5,124.2 581.4,126.3 582.2,128.6 583.1,130.5 583.9,133.0 584.8,134.7 585.6,136.7 586.5,138.2 587.4,140.5 588.2,142.2 589.1,144.4 589.9,145.8 590.8,147.7 591.6,149.7 592.5,151.4 593.3,153.1 594.2,154.5 595.1,156.1 595.9,158.1 596.8,159.7 597.6,161.9 598.5,163.6 599.3,165.4 600.2,167.0 601.0,168.7 601.9,170.5 602.8,172.2 603.6,173.6 604.5,174.9 605.3,175.9 606.2,177.4 607.0,178.9 607.9,180.4 608.7,181.7 609.6,182.9 610.5,184.1 611.3,185.2 612.2,186.4 613.0,187.7 613.9,188.9 614.7,190.1 615.6,191.2 616.4,192.3 617.3,193.5 618.2,194.6 619.0,195.8 619.9,197.0 620.7,198.1 621.6,199.2 622.4,200.3 623.3,201.3 624.1,202.3 625.0,203.1 625.9,203.9 626.7,204.8 627.6,205.6 628.4,206.5 629.3,207.5 630.1,208.6 631.0,209.7 631.8,210.6 632.7,211.4 633.6,212.1 634.4,212.8 635.3,213.4 636.1,214.0 637.0,214.6 637.8,215.1 638.7,215.7 639.5,216.2 640.4,216.7 641.3,217.3 642.1,217.8 643.0,218.3 643.8,218.8 644.7,219.3 645.5,219.8 646.4,220.4 647.2,220.9 648.1,221.5 649.0,222.0 649.8,222.6 650.7,223.1 651.5,223.6 652.4,224.1 653.2,224.6 654.1,225.0 654.9,225.4 655.8,225.9 656.7,226.2 657.5,226.6 658.4,226.9 659.2,227.2 660.1,227.6 660.9,227.9 661.8,228.2 662.6,228.5 663.5,228.8 664.4,229.0 665.2,229.3 666.1,229.6 666.9,229.8 667.8,230.0 668.6,230.3 669.5,230.5 670.3,230.7 671.2,230.9 672.1,231.1 672.9,231.3 673.8,231.5 674.6,231.7 675.5,231.9 676.3,232.1 677.2,232.3 678.0,232.4 678.9,232.6 679.8,232.7 680.6,232.9 681.5,233.0 682.3,233.1 683.2,233.3 684.0,233.4 684.9,233.5 685.7,233.6 686.6,233.8 687.5,233.9 688.3,234.0 689.2,234.1 690.0,234.2 690.9,234.3 691.7,234.4 692.6,234.4 693.4,234.5 694.3,234.6" fill="none" stroke="#ff0080" stroke-width="0.9" stroke-linejoin="round" />
<polyline points="489.0,236.6 489.8,236.5 490.7,236.4 491.5,236.3 492.4,236.2 493.2,236.0 494.1,235.8 494.9,235.6 495.8,235.4 496.7,235.1 497.5,234.8 498.4,234.5 499.2,234.2 500.1,233.9 500.9,233.6 501.8,233.2 502.6,232.9 503.5,232.4 504.4,231.9 505.2,231.4 506.1,230.8 506.9,230.1 507.8,229.3 508.6,228.3 509.5,227.2 510.3,225.9 511.2,224.5 512.1,222.9 512.9,221.1 513.8,219.2 514.6,216.9 515.5,214.2 516.3,211.6 517.2,209.2 518.0,207.1 518.9,204.7 519.8,202.2 520.6,199.2 521.5,195.6 522.3,192.0 523.2,188.1 524.0,184.6 524.9,180.2 525.7,176.2 526.6,172.5 527.5,169.5 528.3,166.3 529.2,162.5 530.0,158.3 530.9,153.5 531.7,149.3 532.6,145.1 533.4,141.8 534.3,137.7 535.2,134.2 536.0,129.9 536.9,126.5 537.7,122.8 538.6,119.3 539.4,115.9 540.3,111.7 541.1,108.1 542.0,104.4 542.9,102.0 543.7,99.8 544.6,97.4 545.4,94.8 546.3,93.0 547.1,91.7 548.0,90.8 548.8,89.2 549.7,88.3 550.6,87.5 551.4,87.1 552.3,86.2 553.1,85.5 554.0,85.2 554.8,85.1 555.7,85.2 556.5,85.2 557.4,85.5 558.3,86.2 559.1,87.3 560.0,87.9 560.8,88.4 561.7,89.1 562.5,89.5 563.4,90.4 564.2,91.4 565.1,93.3 566.0,95.0 566.8,96.5 567.7,98.1 568.5,99.8 569.4,101.6 570.2,103.6 571.1,105.6 571.9,107.7 572.8,109.5 573.7,111.3 574.5,112.9 575.4,114.6 576.2,116.8 577.1,119.1 577.9,121.1 578.8,122.5 579.6,124.1 580.5,125.6 581.4,127.9 582.2,130.2 583.1,132.8 583.9,134.8 584.8,136.8 585.6,138.9 586.5,141.3 587.4,143.1 588.2,144.8 589.1,146.7 589.9,148.4 590.8,149.9 591.6,151.0 592.5,152.9 593.3,155.0 594.2,156.7 595.1,158.2 595.9,159.6 596.8,161.7 597.6,163.4 598.5,165.4 599.3,166.8 600.2,168.5 601.0,170.1 601.9,171.8 602.8,173.5 603.6,174.8 604.5,176.2 605.3,177.5 606.2,179.0 607.0,180.2 607.9,181.6 608.7,182.8 609.6,184.1 610.5,185.3 611.3,186.5 612.2,187.7 613.0,188.8 613.9,190.0 614.7,191.1 615.6,192.3 616.4,193.4 617.3,194.6 618.2,195.7 619.0,196.8 619.9,197.9 620.7,199.0 621.6,200.1 622.4,201.1 623.3,202.1 624.1,203.0 625.0,203.9 625.9,204.8 626.7,205.5 627.6,206.4 628.4,207.2 629.3,208.2 630.1,209.3 631.0,210.3 631.8,211.2 632.7,211.9 633.6,212.7 634.4,213.3 635.3,213.9 636.1,214.5 637.0,215.1 637.8,215.6 638.7,216.1 639.5,216.6 640.4,217.2 641.3,217.7 642.1,218.2 643.0,218.7 643.8,219.2 644.7,219.7 645.5,220.2 646.4,220.8 647.2,221.3 648.1,221.9 649.0,222.4 649.8,222.9 650.7,223.4 651.5,223.9 652.4,224.4 653.2,224.8 654.1,225.3 654.9,225.7 655.8,226.1 656.7,226.5 657.5,226.8 658.4,227.2 659.2,227.5 660.1,227.8 660.9,228.1 661.8,228.4 662.6,228.7 663.5,229.0 664.4,229.2 665.2,229.5 666.1,229.7 666.9,230.0 667.8,230.2 668.6,230.4 669.5,230.6 670.3,230.9 671.2,231.1 672.1,231.3 672.9,231.5 673.8,231.7 674.6,231.8 675.5,232.0 676.3,232.2 677.2,232.4 678.0,232.5 678.9,232.7 679.8,232.8 680.6,233.0 681.5,233.1 682.3,233.2 683.2,233.4 684.0,233.5 684.9,233.6 685.7,233.7 686.6,233.8 687.5,233.9 688.3,234.0 689.2,234.1 690.0,234.2 690.9,234.3 691.7,234.4 692.6,234.5 693.4,234.6 694.3,234.6" fill="none" stroke="#008000" stroke-width="0.9" stroke-linejoin="round" />
<polyline points="489.0,236.6 489.8,236.5 490.7,236.4 491.5,236.3 492.4,236.2 493.2,236.1 494.1,235.9 494.9,235.7 495.8,235.5 496.7,235.2 497.5,234.9 498.4,234.6 499.2,234.4 500.1,234.1 500.9,233.8 501.8,233.5 502.6,233.1 503.5,232.7 504.4,232.3 505.2,231.8 506.1,231.3 506.9,230.5 507.8,229.7 508.6,228.8 509.5,227.9 510.3,226.8 511.2,225.5 512.1,224.0 512.9,222.3 513.8,220.5 514.6,218.4 515.5,216.0 516.3,213.3 517.2,211.2 518.0,209.0 518.9,207.1 519.8,204.6 520.6,201.9 521.5,198.7 522.3,195.1 523.2,191.6 524.0,188.0 524.9,184.7 525.7,181.4 526.6,178.3 527.5,175.0 528.3,171.8 529.2,168.3 530.0,164.2 530.9,159.7 531.7,155.5 532.6,151.6 533.4,147.9 534.3,144.5 535.2,141.4 536.0,138.3 536.9,134.8 537.7,131.4 538.6,128.5 539.4,125.0 540.3,121.8 541.1,118.2 542.0,115.4 542.9,112.1 543.7,110.2 544.6,107.9 545.4,106.0 546.3,104.1 547.1,102.5 548.0,101.1 548.8,99.6 549.7,98.7 550.6,98.2 551.4,98.1 552.3,97.7 553.1,97.3 554.0,97.1 554.8,97.1 555.7,97.0 556.5,97.2 557.4,97.0 558.3,97.3 559.1,97.5 560.0,98.2 560.8,98.9 561.7,99.6 562.5,100.6 563.4,101.5 564.2,102.6 565.1,103.9 566.0,105.2 566.8,106.4 567.7,108.3 568.5,109.9 569.4,111.8 570.2,113.2 571.1,115.1 571.9,117.1 572.8,118.4 573.7,120.3 574.5,122.0 575.4,124.2 576.2,126.1 577.1,128.1 577.9,130.0 578.8,131.5 579.6,132.7 580.5,134.4 581.4,136.4 582.2,138.8 583.1,140.9 583.9,142.7 584.8,144.7 585.6,146.6 586.5,148.6 587.4,150.1 588.2,151.7 589.1,153.2 589.9,154.4 590.8,155.5 591.6,156.9 592.5,159.1 593.3,160.9 594.2,162.6 595.1,164.0 595.9,165.7 596.8,167.5 597.6,169.1 598.5,170.5 599.3,172.1 600.2,173.6 601.0,175.2 601.9,176.5 602.8,177.8 603.6,179.2 604.5,180.7 605.3,182.0 606.2,183.2 607.0,184.4 607.9,185.7 608.7,186.9 609.6,188.0 610.5,189.1 611.3,190.2 612.2,191.3 613.0,192.4 613.9,193.5 614.7,194.6 615.6,195.5 616.4,196.5 617.3,197.6 618.2,198.7 619.0,199.8 619.9,200.8 620.7,201.8 621.6,202.8 622.4,203.8 623.3,204.7 624.1,205.6 625.0,206.4 625.9,207.1 626.7,207.9 627.6,208.6 628.4,209.4 629.3,210.3 630.1,211.3 631.0,212.3 631.8,213.1 632.7,213.8 633.6,214.4 634.4,215.0 635.3,215.6 636.1,216.2 637.0,216.7 637.8,217.2 638.7,217.7 639.5,218.2 640.4,218.6 641.3,219.1 642.1,219.5 643.0,220.0 643.8,220.5 644.7,221.0 645.5,221.5 646.4,222.0 647.2,222.5 648.1,223.0 649.0,223.5 649.8,223.9 650.7,224.4 651.5,224.8 652.4,225.3 653.2,225.7 654.1,226.1 654.9,226.5 655.8,226.9 656.7,227.2 657.5,227.6 658.4,227.9 659.2,228.2 660.1,228.5 660.9,228.7 661.8,229.0 662.6,229.3 663.5,229.5 664.4,229.8 665.2,230.0 666.1,230.2 666.9,230.5 667.8,230.7 668.6,230.9 669.5,231.1 670.3,231.3 671.2,231.5 672.1,231.7 672.9,231.9 673.8,232.0 674.6,232.2 675.5,232.4 676.3,232.5 677.2,232.7 678.0,232.9 678.9,233.0 679.8,233.1 680.6,233.2 681.5,233.4 682.3,233.5 683.2,233.6 684.0,233.7 684.9,233.8 685.7,233.9 686.6,234.0 687.5,234.1 688.3,234.2 689.2,234.3 690.0,234.4 690.9,234.5 691.7,234.6 692.6,234.6 693.4,234.7 694.3,234.8" fill="none" stroke="#4545c8" stroke-width="0.9" stroke-linejoin="round" />
<polyline points="489.0,236.6 489.8,236.5 490.7,236.5 491.5,236.4 492.4,236.2 493.2,236.1 494.1,236.0 494.9,235.8 495.8,235.6 496.7,235.3 497.5,235.1 498.4,234.8 499.2,234.6 500.1,234.3 500.9,234.0 501.8,233.7 502.6,233.4 503.5,233.1 504.4,232.7 505.2,232.2 506.1,231.7 506.9,231.1 507.8,230.4 508.6,229.5 509.5,228.7 510.3,227.7 511.2,226.5 512.1,225.1 512.9,223.5 513.8,221.9 514.6,220.0 515.5,217.8 516.3,215.4 517.2,213.4 518.0,211.5 518.9,209.6 519.8,207.4 520.6,204.9 521.5,201.8 522.3,198.9 523.2,195.5 524.0,192.3 524.9,188.5 525.7,185.2 526.6,182.5 527.5,179.7 528.3,176.8 529.2,173.7 530.0,170.4 530.9,166.4 531.7,162.3 532.6,158.6 533.4,155.9 534.3,153.1 535.2,149.6 536.0,146.3 536.9,143.3 537.7,140.4 538.6,137.4 539.4,133.9 540.3,130.9 541.1,128.1 542.0,125.7 542.9,123.4 543.7,121.7 544.6,119.3 545.4,117.1 546.3,114.8 547.1,113.9 548.0,112.4 548.8,111.5 549.7,110.4 550.6,110.2 551.4,109.6 552.3,109.3 553.1,109.4 554.0,109.5 554.8,108.9 555.7,108.6 556.5,108.5 557.4,109.4 558.3,109.7 559.1,110.0 560.0,110.5 560.8,111.2 561.7,111.8 562.5,112.7 563.4,113.3 564.2,114.5 565.1,115.3 566.0,116.2 566.8,117.9 567.7,119.4 568.5,121.1 569.4,122.0 570.2,123.6 571.1,125.4 571.9,127.0 572.8,128.4 573.7,130.0 574.5,132.0 575.4,134.1 576.2,135.8 577.1,137.1 577.9,138.4 578.8,140.1 579.6,141.7 580.5,143.4 581.4,144.6 582.2,146.7 583.1,148.8 583.9,151.2 584.8,152.6 585.6,153.7 586.5,155.2 587.4,157.1 588.2,158.8 589.1,160.4 589.9,161.2 590.8,162.8 591.6,164.0 592.5,165.9 593.3,167.3 594.2,168.8 595.1,170.2 595.9,171.7 596.8,173.3 597.6,174.5 598.5,175.9 599.3,177.0 600.2,178.6 601.0,180.1 601.9,182.0 602.8,183.4 603.6,184.6 604.5,185.7 605.3,186.8 606.2,188.1 607.0,189.1 607.9,190.0 608.7,191.0 609.6,192.0 610.5,193.1 611.3,194.1 612.2,195.1 613.0,196.1 613.9,197.1 614.7,198.1 615.6,199.1 616.4,200.1 617.3,201.0 618.2,202.0 619.0,203.0 619.9,203.9 620.7,204.9 621.6,205.7 622.4,206.6 623.3,207.5 624.1,208.2 625.0,208.9 625.9,209.6 626.7,210.3 627.6,211.0 628.4,211.7 629.3,212.6 630.1,213.5 631.0,214.4 631.8,215.1 632.7,215.7 633.6,216.3 634.4,216.9 635.3,217.5 636.1,218.0 637.0,218.4 637.8,218.9 638.7,219.3 639.5,219.8 640.4,220.2 641.3,220.6 642.1,221.0 643.0,221.5 643.8,221.9 644.7,222.3 645.5,222.8 646.4,223.2 647.2,223.7 648.1,224.1 649.0,224.6 649.8,225.0 650.7,225.4 651.5,225.9 652.4,226.3 653.2,226.7 654.1,227.0 654.9,227.4 655.8,227.7 656.7,228.0 657.5,228.3 658.4,228.6 659.2,228.9 660.1,229.2 660.9,229.4 661.8,229.7 662.6,229.9 663.5,230.2 664.4,230.4 665.2,230.6 666.1,230.8 666.9,231.0 667.8,231.2 668.6,231.4 669.5,231.6 670.3,231.8 671.2,231.9 672.1,232.1 672.9,232.3 673.8,232.4 674.6,232.6 675.5,232.7 676.3,232.9 677.2,233.0 678.0,233.2 678.9,233.3 679.8,233.4 680.6,233.5 681.5,233.7 682.3,233.8 683.2,233.9 684.0,234.0 684.9,234.1 685.7,234.2 686.6,234.3 687.5,234.4 688.3,234.4 689.2,234.5 690.0,234.6 690.9,234.7 691.7,234.8 692.6,234.8 693.4,234.9 694.3,234.9" fill="none" stroke="#ff8000" stroke-width="0.9" stroke-linejoin="round" />
<polyline points="489.0,236.6 489.8,236.6 490.7,236.5 491.5,236.4 492.4,236.3 493.2,236.2 494.1,236.1 494.9,236.0 495.8,235.8 496.7,235.6 497.5,235.4 498.4,235.2 499.2,235.0 500.1,234.8 500.9,234.6 501.8,234.4 502.6,234.1 503.5,233.8 504.4,233.5 505.2,233.2 506.1,232.7 506.9,232.2 507.8,231.6 508.6,231.0 509.5,230.2 510.3,229.4 511.2,228.5 512.1,227.5 512.9,226.3 513.8,224.8 514.6,223.3 515.5,221.5 516.3,219.8 517.2,218.1 518.0,216.6 518.9,215.0 519.8,213.3 520.6,211.0 521.5,208.8 522.3,206.5 523.2,204.2 524.0,201.7 524.9,198.6 525.7,196.1 526.6,193.7 527.5,191.4 528.3,188.7 529.2,185.9 530.0,183.2 530.9,179.9 531.7,176.8 532.6,174.0 533.4,171.7 534.3,169.2 535.2,166.4 536.0,164.1 536.9,161.2 537.7,159.4 538.6,156.5 539.4,154.1 540.3,151.3 541.1,149.2 542.0,147.0 542.9,145.3 543.7,143.9 544.6,142.5 545.4,140.9 546.3,139.7 547.1,138.4 548.0,137.5 548.8,136.4 549.7,135.7 550.6,135.4 551.4,134.8 552.3,134.5 553.1,134.0 554.0,134.2 554.8,134.4 555.7,134.1 556.5,134.5 557.4,134.5 558.3,135.0 559.1,135.2 560.0,135.3 560.8,135.7 561.7,136.1 562.5,136.9 563.4,137.7 564.2,138.5 565.1,139.3 566.0,140.3 566.8,141.5 567.7,142.8 568.5,143.5 569.4,144.7 570.2,145.8 571.1,147.6 571.9,148.8 572.8,150.0 573.7,151.1 574.5,152.2 575.4,153.8 576.2,155.2 577.1,156.7 577.9,158.1 578.8,159.0 579.6,160.1 580.5,160.7 581.4,162.3 582.2,164.1 583.1,166.3 583.9,167.9 584.8,169.3 585.6,170.8 586.5,171.8 587.4,172.8 588.2,173.7 589.1,174.8 589.9,176.1 590.8,177.2 591.6,178.8 592.5,180.0 593.3,181.4 594.2,182.2 595.1,183.6 595.9,184.7 596.8,185.8 597.6,186.7 598.5,188.2 599.3,189.6 600.2,190.5 601.0,191.2 601.9,192.3 602.8,193.6 603.6,194.7 604.5,195.5 605.3,196.4 606.2,197.3 607.0,198.4 607.9,199.1 608.7,200.1 609.6,200.9 610.5,201.8 611.3,202.7 612.2,203.4 613.0,204.2 613.9,204.9 614.7,205.7 615.6,206.5 616.4,207.2 617.3,208.0 618.2,208.8 619.0,209.6 619.9,210.3 620.7,211.0 621.6,211.8 622.4,212.6 623.3,213.2 624.1,213.9 625.0,214.4 625.9,215.0 626.7,215.5 627.6,216.0 628.4,216.6 629.3,217.3 630.1,218.1 631.0,218.8 631.8,219.4 632.7,219.9 633.6,220.4 634.4,220.8 635.3,221.2 636.1,221.6 637.0,222.0 637.8,222.4 638.7,222.7 639.5,223.1 640.4,223.5 641.3,223.8 642.1,224.1 643.0,224.5 643.8,224.8 644.7,225.2 645.5,225.5 646.4,225.9 647.2,226.3 648.1,226.6 649.0,227.0 649.8,227.3 650.7,227.7 651.5,228.0 652.4,228.3 653.2,228.7 654.1,229.0 654.9,229.2 655.8,229.5 656.7,229.8 657.5,230.0 658.4,230.2 659.2,230.4 660.1,230.6 660.9,230.8 661.8,231.1 662.6,231.2 663.5,231.4 664.4,231.6 665.2,231.8 666.1,232.0 666.9,232.1 667.8,232.3 668.6,232.4 669.5,232.6 670.3,232.7 671.2,232.9 672.1,233.0 672.9,233.1 673.8,233.3 674.6,233.4 675.5,233.5 676.3,233.6 677.2,233.8 678.0,233.9 678.9,234.0 679.8,234.1 680.6,234.2 681.5,234.3 682.3,234.3 683.2,234.4 684.0,234.5 684.9,234.6 685.7,234.7 686.6,234.7 687.5,234.8 688.3,234.9 689.2,235.0 690.0,235.0 690.9,235.1 691.7,235.1 692.6,235.2 693.4,235.2 694.3,235.3" fill="none" stroke="#a020a0" stroke-width="0.9" stroke-linejoin="round" />
<polyline points="489.0,236.6 489.8,236.6 490.7,236.5 491.5,236.5 492.4,236.4 493.2,236.3 494.1,236.3 494.9,236.1 495.8,236.0 496.7,235.9 497.5,235.7 498.4,235.6 499.2,235.4 500.1,235.3 500.9,235.1 501.8,234.9 502.6,234.7 503.5,234.5 504.4,234.3 505.2,234.0 506.1,233.7 506.9,233.3 507.8,232.9 508.6,232.4 509.5,231.8 510.3,231.1 511.2,230.4 512.1,229.6 512.9,228.7 513.8,227.6 514.6,226.4 515.5,225.1 516.3,223.7 517.2,222.4 518.0,221.2 518.9,220.0 519.8,218.7 520.6,217.2 521.5,215.4 522.3,213.6 523.2,211.7 524.0,209.7 524.9,207.5 525.7,205.4 526.6,203.4 527.5,201.6 528.3,199.7 529.2,197.7 530.0,195.8 530.9,193.7 531.7,191.4 532.6,189.3 533.4,187.4 534.3,185.5 535.2,183.5 536.0,181.5 536.9,180.0 537.7,178.2 538.6,175.9 539.4,173.6 540.3,171.3 541.1,169.9 542.0,168.3 542.9,167.2 543.7,165.9 544.6,164.6 545.4,163.4 546.3,162.7 547.1,161.8 548.0,161.1 548.8,160.2 549.7,160.0 550.6,159.7 551.4,159.4 552.3,159.1 553.1,159.1 554.0,159.1 554.8,158.9 555.7,158.9 556.5,159.0 557.4,159.1 558.3,159.1 559.1,158.9 560.0,159.2 560.8,159.5 561.7,160.4 562.5,161.0 563.4,161.5 564.2,161.7 565.1,162.3 566.0,162.7 566.8,164.0 567.7,165.1 568.5,166.0 569.4,166.6 570.2,167.0 571.1,168.5 571.9,169.7 572.8,170.8 573.7,171.6 574.5,172.6 575.4,173.9 576.2,175.2 577.1,176.1 577.9,176.6 578.8,177.2 579.6,178.3 580.5,179.5 581.4,180.7 582.2,181.8 583.1,183.3 583.9,184.5 584.8,185.6 585.6,186.4 586.5,187.0 587.4,188.4 588.2,189.4 589.1,190.8 589.9,191.3 590.8,192.1 591.6,192.7 592.5,193.5 593.3,194.4 594.2,195.2 595.1,195.9 595.9,196.8 596.8,197.8 597.6,198.7 598.5,199.5 599.3,200.5 600.2,201.4 601.0,202.5 601.9,203.4 602.8,204.0 603.6,204.5 604.5,205.0 605.3,205.9 606.2,206.8 607.0,207.6 607.9,208.1 608.7,208.8 609.6,209.4 610.5,210.0 611.3,210.5 612.2,211.2 613.0,211.8 613.9,212.5 614.7,213.1 615.6,213.7 616.4,214.3 617.3,214.9 618.2,215.4 619.0,216.0 619.9,216.6 620.7,217.2 621.6,217.7 622.4,218.3 623.3,218.8 624.1,219.3 625.0,219.8 625.9,220.2 626.7,220.6 627.6,221.0 628.4,221.4 629.3,221.9 630.1,222.5 631.0,223.1 631.8,223.5 632.7,223.9 633.6,224.2 634.4,224.6 635.3,224.9 636.1,225.2 637.0,225.5 637.8,225.8 638.7,226.1 639.5,226.3 640.4,226.6 641.3,226.9 642.1,227.1 643.0,227.4 643.8,227.7 644.7,227.9 645.5,228.2 646.4,228.5 647.2,228.7 648.1,229.0 649.0,229.3 649.8,229.5 650.7,229.8 651.5,230.1 652.4,230.3 653.2,230.6 654.1,230.8 654.9,231.0 655.8,231.2 656.7,231.4 657.5,231.6 658.4,231.8 659.2,231.9 660.1,232.1 660.9,232.2 661.8,232.4 662.6,232.6 663.5,232.7 664.4,232.8 665.2,233.0 666.1,233.1 666.9,233.2 667.8,233.3 668.6,233.4 669.5,233.6 670.3,233.7 671.2,233.8 672.1,233.9 672.9,234.0 673.8,234.1 674.6,234.2 675.5,234.3 676.3,234.4 677.2,234.5 678.0,234.5 678.9,234.6 679.8,234.7 680.6,234.8 681.5,234.8 682.3,234.9 683.2,235.0 684.0,235.0 684.9,235.1 685.7,235.2 686.6,235.2 687.5,235.3 688.3,235.3 689.2,235.4 690.0,235.4 690.9,235.5 691.7,235.5 692.6,235.6 693.4,235.6 694.3,235.6" fill="none" stroke="#a040ff" stroke-width="0.9" stroke-linejoin="round" />
<polyline points="489.0,236.7 489.8,236.6 490.7,236.6 491.5,236.6 492.4,236.5 493.2,236.5 494.1,236.4 494.9,236.4 495.8,236.3 496.7,236.2 497.5,236.1 498.4,236.0 499.2,235.9 500.1,235.8 500.9,235.8 501.8,235.7 502.6,235.6 503.5,235.4 504.4,235.3 505.2,235.2 506.1,235.0 506.9,234.8 507.8,234.5 508.6,234.3 509.5,233.9 510.3,233.5 511.2,233.2 512.1,232.7 512.9,232.2 513.8,231.6 514.6,230.9 515.5,230.0 516.3,229.3 517.2,228.4 518.0,227.9 518.9,227.2 519.8,226.7 520.6,225.8 521.5,224.6 522.3,223.3 523.2,222.2 524.0,221.3 524.9,220.2 525.7,218.9 526.6,217.9 527.5,216.9 528.3,215.9 529.2,214.8 530.0,213.7 530.9,212.3 531.7,210.8 532.6,209.6 533.4,208.5 534.3,207.8 535.2,207.0 536.0,205.7 536.9,204.3 537.7,203.1 538.6,202.3 539.4,201.2 540.3,200.2 541.1,199.0 542.0,198.2 542.9,197.3 543.7,196.4 544.6,195.6 545.4,194.9 546.3,194.8 547.1,194.3 548.0,193.7 548.8,192.9 549.7,192.9 550.6,192.9 551.4,192.8 552.3,192.4 553.1,192.3 554.0,192.2 554.8,192.5 555.7,192.3 556.5,192.5 557.4,192.4 558.3,192.5 559.1,192.6 560.0,192.7 560.8,192.9 561.7,193.1 562.5,193.7 563.4,194.2 564.2,194.5 565.1,194.8 566.0,195.1 566.8,195.5 567.7,195.8 568.5,196.2 569.4,196.7 570.2,197.5 571.1,198.4 571.9,199.2 572.8,199.7 573.7,200.1 574.5,200.4 575.4,200.7 576.2,201.2 577.1,201.7 577.9,202.5 578.8,203.3 579.6,204.0 580.5,204.2 581.4,204.9 582.2,205.4 583.1,206.5 583.9,206.9 584.8,207.6 585.6,208.2 586.5,208.8 587.4,209.3 588.2,209.8 589.1,210.4 589.9,211.2 590.8,211.5 591.6,211.8 592.5,212.2 593.3,212.7 594.2,213.5 595.1,213.7 595.9,214.2 596.8,214.6 597.6,215.1 598.5,215.6 599.3,216.2 600.2,216.9 601.0,217.4 601.9,217.9 602.8,218.2 603.6,218.7 604.5,218.9 605.3,219.3 606.2,219.7 607.0,220.3 607.9,220.7 608.7,221.0 609.6,221.3 610.5,221.6 611.3,222.0 612.2,222.4 613.0,222.7 613.9,222.9 614.7,223.3 615.6,223.6 616.4,224.0 617.3,224.4 618.2,224.7 619.0,225.0 619.9,225.3 620.7,225.6 621.6,226.0 622.4,226.3 623.3,226.6 624.1,226.8 625.0,227.1 625.9,227.3 626.7,227.6 627.6,227.8 628.4,228.0 629.3,228.3 630.1,228.6 631.0,228.9 631.8,229.2 632.7,229.4 633.6,229.7 634.4,229.8 635.3,230.0 636.1,230.2 637.0,230.4 637.8,230.5 638.7,230.7 639.5,230.8 640.4,231.0 641.3,231.1 642.1,231.2 643.0,231.4 643.8,231.6 644.7,231.7 645.5,231.9 646.4,232.0 647.2,232.2 648.1,232.3 649.0,232.5 649.8,232.7 650.7,232.8 651.5,232.9 652.4,233.1 653.2,233.2 654.1,233.4 654.9,233.5 655.8,233.6 656.7,233.7 657.5,233.8 658.4,233.9 659.2,234.0 660.1,234.1 660.9,234.2 661.8,234.3 662.6,234.3 663.5,234.4 664.4,234.5 665.2,234.6 666.1,234.6 666.9,234.7 667.8,234.8 668.6,234.9 669.5,234.9 670.3,235.0 671.2,235.0 672.1,235.1 672.9,235.2 673.8,235.2 674.6,235.3 675.5,235.3 676.3,235.4 677.2,235.4 678.0,235.5 678.9,235.5 679.8,235.6 680.6,235.6 681.5,235.6 682.3,235.7 683.2,235.7 684.0,235.8 684.9,235.8 685.7,235.8 686.6,235.9 687.5,235.9 688.3,235.9 689.2,235.9 690.0,236.0 690.9,236.0 691.7,236.0 692.6,236.1 693.4,236.1 694.3,236.1" fill="none" stroke="#333" stroke-width="0.9" stroke-linejoin="round" />
<polyline points="489.0,236.7 489.8,236.7 490.7,236.7 491.5,236.6 492.4,236.6 493.2,236.6 494.1,236.6 494.9,236.5 495.8,236.5 496.7,236.5 497.5,236.4 498.4,236.4 499.2,236.3 500.1,236.3 500.9,236.2 501.8,236.2 502.6,236.1 503.5,236.1 504.4,236.0 505.2,235.9 506.1,235.8 506.9,235.7 507.8,235.6 508.6,235.5 509.5,235.3 510.3,235.1 511.2,234.9 512.1,234.7 512.9,234.4 513.8,234.0 514.6,233.7 515.5,233.3 516.3,232.9 517.2,232.5 518.0,232.1 518.9,231.7 519.8,231.4 520.6,231.0 521.5,230.7 522.3,230.1 523.2,229.6 524.0,228.9 524.9,228.1 525.7,227.4 526.6,227.1 527.5,226.8 528.3,226.3 529.2,225.4 530.0,224.7 530.9,224.0 531.7,223.3 532.6,222.8 533.4,222.3 534.3,222.2 535.2,221.5 536.0,220.9 536.9,220.2 537.7,219.8 538.6,219.3 539.4,218.7 540.3,218.1 541.1,217.7 542.0,217.2 542.9,216.8 543.7,216.4 544.6,215.8 545.4,215.5 546.3,215.2 547.1,215.3 548.0,215.1 548.8,214.8 549.7,214.5 550.6,214.2 551.4,214.2 552.3,214.4 553.1,214.4 554.0,214.5 554.8,214.0 555.7,214.2 556.5,214.1 557.4,214.6 558.3,214.3 559.1,214.4 560.0,214.5 560.8,214.9 561.7,214.9 562.5,214.7 563.4,214.5 564.2,214.5 565.1,214.8 566.0,215.3 566.8,215.9 567.7,216.5 568.5,216.4 569.4,216.7 570.2,216.7 571.1,217.2 571.9,217.1 572.8,217.5 573.7,218.0 574.5,218.3 575.4,218.5 576.2,218.7 577.1,219.1 577.9,219.6 578.8,219.8 579.6,220.4 580.5,220.4 581.4,220.9 582.2,220.9 583.1,221.2 583.9,221.3 584.8,222.0 585.6,222.2 586.5,222.5 587.4,222.6 588.2,223.2 589.1,223.7 589.9,223.8 590.8,223.8 591.6,224.1 592.5,224.5 593.3,224.7 594.2,224.7 595.1,224.6 595.9,224.8 596.8,225.2 597.6,226.0 598.5,226.1 599.3,226.3 600.2,226.3 601.0,226.5 601.9,226.8 602.8,227.3 603.6,227.6 604.5,227.7 605.3,227.8 606.2,228.0 607.0,228.3 607.9,228.5 608.7,228.7 609.6,228.8 610.5,229.0 611.3,229.1 612.2,229.4 613.0,229.5 613.9,229.7 614.7,229.9 615.6,230.0 616.4,230.2 617.3,230.4 618.2,230.6 619.0,230.7 619.9,230.9 620.7,231.0 621.6,231.2 622.4,231.4 623.3,231.5 624.1,231.7 625.0,231.8 625.9,231.9 626.7,232.1 627.6,232.2 628.4,232.3 629.3,232.4 630.1,232.6 631.0,232.7 631.8,232.9 632.7,233.0 633.6,233.1 634.4,233.2 635.3,233.3 636.1,233.4 637.0,233.5 637.8,233.6 638.7,233.6 639.5,233.7 640.4,233.8 641.3,233.9 642.1,233.9 643.0,234.0 643.8,234.1 644.7,234.2 645.5,234.2 646.4,234.3 647.2,234.4 648.1,234.5 649.0,234.6 649.8,234.6 650.7,234.7 651.5,234.8 652.4,234.9 653.2,234.9 654.1,235.0 654.9,235.1 655.8,235.1 656.7,235.2 657.5,235.2 658.4,235.3 659.2,235.3 660.1,235.4 660.9,235.4 661.8,235.5 662.6,235.5 663.5,235.5 664.4,235.6 665.2,235.6 666.1,235.7 666.9,235.7 667.8,235.7 668.6,235.8 669.5,235.8 670.3,235.8 671.2,235.9 672.1,235.9 672.9,235.9 673.8,235.9 674.6,236.0 675.5,236.0 676.3,236.0 677.2,236.1 678.0,236.1 678.9,236.1 679.8,236.1 680.6,236.1 681.5,236.2 682.3,236.2 683.2,236.2 684.0,236.2 684.9,236.2 685.7,236.3 686.6,236.3 687.5,236.3 688.3,236.3 689.2,236.3 690.0,236.3 690.9,236.3 691.7,236.4 692.6,236.4 693.4,236.4 694.3,236.4" fill="none" stroke="#ff0000" stroke-width="0.9" stroke-linejoin="round" />
<polyline points="489.0,236.7 489.8,236.7 490.7,236.7 491.5,236.7 492.4,236.7 493.2,236.7 494.1,236.6 494.9,236.6 495.8,236.6 496.7,236.6 497.5,236.6 498.4,236.5 499.2,236.5 500.1,236.5 500.9,236.5 501.8,236.4 502.6,236.4 503.5,236.4 504.4,236.4 505.2,236.3 506.1,236.2 506.9,236.2 507.8,236.2 508.6,236.1 509.5,236.0 510.3,235.9 511.2,235.9 512.1,235.8 512.9,235.6 513.8,235.5 514.6,235.3 515.5,235.2 516.3,235.0 517.2,234.9 518.0,234.6 518.9,234.4 519.8,234.1 520.6,233.9 521.5,233.7 522.3,233.6 523.2,233.4 524.0,233.1 524.9,232.8 525.7,232.4 526.6,232.1 527.5,231.8 528.3,231.7 529.2,231.4 530.0,231.2 530.9,231.0 531.7,230.8 532.6,230.6 533.4,230.1 534.3,229.7 535.2,229.2 536.0,229.1 536.9,228.7 537.7,228.3 538.6,228.1 539.4,228.2 540.3,228.1 541.1,227.8 542.0,227.6 542.9,227.3 543.7,227.3 544.6,226.9 545.4,226.5 546.3,226.1 547.1,226.3 548.0,226.6 548.8,226.6 549.7,226.3 550.6,226.3 551.4,226.1 552.3,226.2 553.1,226.1 554.0,226.3 554.8,226.2 555.7,226.3 556.5,226.1 557.4,226.2 558.3,225.9 559.1,226.1 560.0,226.0 560.8,226.3 561.7,226.2 562.5,226.3 563.4,226.3 564.2,226.3 565.1,226.3 566.0,226.5 566.8,226.8 567.7,227.2 568.5,227.1 569.4,227.2 570.2,227.2 571.1,227.6 571.9,227.8 572.8,227.8 573.7,227.7 574.5,227.9 575.4,228.1 576.2,228.1 577.1,228.2 577.9,228.6 578.8,228.8 579.6,229.1 580.5,229.2 581.4,229.3 582.2,229.3 583.1,229.2 583.9,229.7 584.8,229.6 585.6,229.9 586.5,229.9 587.4,230.3 588.2,230.5 589.1,230.7 589.9,230.6 590.8,230.8 591.6,230.8 592.5,230.8 593.3,230.8 594.2,230.9 595.1,231.3 595.9,231.5 596.8,231.4 597.6,231.5 598.5,231.5 599.3,231.7 600.2,231.8 601.0,232.0 601.9,232.1 602.8,232.2 603.6,232.2 604.5,232.2 605.3,232.4 606.2,232.4 607.0,232.6 607.9,232.8 608.7,232.9 609.6,233.0 610.5,233.0 611.3,233.1 612.2,233.2 613.0,233.4 613.9,233.5 614.7,233.5 615.6,233.6 616.4,233.6 617.3,233.7 618.2,233.8 619.0,233.9 619.9,234.0 620.7,234.1 621.6,234.1 622.4,234.2 623.3,234.3 624.1,234.3 625.0,234.4 625.9,234.5 626.7,234.6 627.6,234.6 628.4,234.6 629.3,234.7 630.1,234.8 631.0,234.8 631.8,234.9 632.7,234.9 633.6,235.0 634.4,235.0 635.3,235.1 636.1,235.1 637.0,235.1 637.8,235.2 638.7,235.2 639.5,235.3 640.4,235.3 641.3,235.3 642.1,235.4 643.0,235.4 643.8,235.5 644.7,235.5 645.5,235.5 646.4,235.6 647.2,235.6 648.1,235.6 649.0,235.7 649.8,235.7 650.7,235.8 651.5,235.8 652.4,235.8 653.2,235.8 654.1,235.9 654.9,235.9 655.8,236.0 656.7,236.0 657.5,236.0 658.4,236.0 659.2,236.0 660.1,236.1 660.9,236.1 661.8,236.1 662.6,236.1 663.5,236.1 664.4,236.2 665.2,236.2 666.1,236.2 666.9,236.2 667.8,236.2 668.6,236.3 669.5,236.3 670.3,236.3 671.2,236.3 672.1,236.3 672.9,236.3 673.8,236.3 674.6,236.4 675.5,236.4 676.3,236.4 677.2,236.4 678.0,236.4 678.9,236.4 679.8,236.4 680.6,236.4 681.5,236.4 682.3,236.5 683.2,236.5 684.0,236.5 684.9,236.5 685.7,236.5 686.6,236.5 687.5,236.5 688.3,236.5 689.2,236.5 690.0,236.5 690.9,236.5 691.7,236.5 692.6,236.5 693.4,236.5 694.3,236.6" fill="none" stroke="#0000ff" stroke-width="0.9" stroke-linejoin="round" />
</g>
<line x1="428.40" y1="16.40" x2="447.60" y2="16.40" stroke="#000000" stroke-width="1.0" stroke-opacity="0.62"/>
<text transform="translate(450.11 19.30) scale(1 1.12)" font-size="8.3" font-weight="bold" text-anchor="start" fill="#222" >2.14</text>
<line x1="468.20" y1="16.40" x2="487.40" y2="16.40" stroke="#ff0000" stroke-width="1.0" stroke-opacity="0.62"/>
<text transform="translate(489.91 19.30) scale(1 1.12)" font-size="8.3" font-weight="bold" text-anchor="start" fill="#222" >2.25</text>
<line x1="506.10" y1="16.40" x2="524.90" y2="16.40" stroke="#0000ff" stroke-width="1.0" stroke-opacity="0.62"/>
<text transform="translate(527.41 19.30) scale(1 1.12)" font-size="8.3" font-weight="bold" text-anchor="start" fill="#222" >2.48</text>
<line x1="543.10" y1="16.40" x2="562.30" y2="16.40" stroke="#008080" stroke-width="1.0" stroke-opacity="0.62"/>
<text transform="translate(564.81 19.30) scale(1 1.12)" font-size="8.3" font-weight="bold" text-anchor="start" fill="#222" >2.67</text>
<line x1="583.00" y1="16.40" x2="602.20" y2="16.40" stroke="#ff00ff" stroke-width="1.0" stroke-opacity="0.62"/>
<text transform="translate(604.71 19.30) scale(1 1.12)" font-size="8.3" font-weight="bold" text-anchor="start" fill="#222" >2.9</text>
<line x1="618.40" y1="16.40" x2="637.30" y2="16.40" stroke="#808000" stroke-width="1.0" stroke-opacity="0.62"/>
<text transform="translate(639.91 19.30) scale(1 1.12)" font-size="8.3" font-weight="bold" text-anchor="start" fill="#222" >3.25</text>
<line x1="658.10" y1="16.40" x2="677.40" y2="16.40" stroke="#000080" stroke-width="1.0" stroke-opacity="0.62"/>
<text transform="translate(679.61 19.30) scale(1 1.12)" font-size="8.3" font-weight="bold" text-anchor="start" fill="#222" >3.61</text>
<line x1="698.00" y1="16.40" x2="716.90" y2="16.40" stroke="#800000" stroke-width="1.0" stroke-opacity="0.62"/>
<text transform="translate(719.48 19.30) scale(1 1.12)" font-size="8.3" font-weight="bold" text-anchor="start" fill="#222" >4.02</text>
<line x1="428.40" y1="26.40" x2="447.60" y2="26.40" stroke="#ff0080" stroke-width="1.0" stroke-opacity="0.62"/>
<text transform="translate(449.88 29.30) scale(1 1.12)" font-size="8.3" font-weight="bold" text-anchor="start" fill="#222" >4.35</text>
<line x1="468.20" y1="26.40" x2="487.40" y2="26.40" stroke="#008000" stroke-width="1.0" stroke-opacity="0.62"/>
<text transform="translate(490.08 29.30) scale(1 1.12)" font-size="8.3" font-weight="bold" text-anchor="start" fill="#222" >4.63</text>
<line x1="508.80" y1="26.40" x2="527.60" y2="26.40" stroke="#4545c8" stroke-width="1.0" stroke-opacity="0.62"/>
<text transform="translate(529.88 29.30) scale(1 1.12)" font-size="8.3" font-weight="bold" text-anchor="start" fill="#222" >4.87</text>
<line x1="548.20" y1="26.40" x2="567.10" y2="26.40" stroke="#ff8000" stroke-width="1.0" stroke-opacity="0.62"/>
<text transform="translate(569.64 29.30) scale(1 1.12)" font-size="8.3" font-weight="bold" text-anchor="start" fill="#222" >5.57</text>
<line x1="586.10" y1="26.40" x2="604.30" y2="26.40" stroke="#a020a0" stroke-width="1.0" stroke-opacity="0.62"/>
<text transform="translate(606.84 29.30) scale(1 1.12)" font-size="8.3" font-weight="bold" text-anchor="start" fill="#222" >5.89</text>
<line x1="625.60" y1="26.40" x2="644.40" y2="26.40" stroke="#a040ff" stroke-width="1.0" stroke-opacity="0.62"/>
<text transform="translate(646.49 29.30) scale(1 1.12)" font-size="8.3" font-weight="bold" text-anchor="start" fill="#222" >6.46</text>
<line x1="664.60" y1="26.40" x2="683.40" y2="26.40" stroke="#808080" stroke-width="1.0" stroke-opacity="0.62"/>
<text transform="translate(686.19 29.30) scale(1 1.12)" font-size="8.3" font-weight="bold" text-anchor="start" fill="#222" >6.8</text>
<line x1="700.30" y1="26.40" x2="719.10" y2="26.40" stroke="#ff0000" stroke-width="1.0" stroke-opacity="0.62"/>
<text transform="translate(721.54 29.30) scale(1 1.12)" font-size="8.3" font-weight="bold" text-anchor="start" fill="#222" >7.4</text>
<line x1="428.40" y1="37.20" x2="447.60" y2="37.20" stroke="#0000ff" stroke-width="1.0" stroke-opacity="0.62"/>
<text transform="translate(449.73 40.10) scale(1 1.12)" font-size="8.3" font-weight="bold" text-anchor="start" fill="#222" >8</text>
<line x1="457.10" y1="37.20" x2="475.90" y2="37.20" stroke="#008080" stroke-width="1.0" stroke-opacity="0.62"/>
<text transform="translate(478.43 40.10) scale(1 1.12)" font-size="8.3" font-weight="bold" text-anchor="start" fill="#222" >8.68</text>
<line x1="496.50" y1="37.20" x2="515.50" y2="37.20" stroke="#ff00ff" stroke-width="1.0" stroke-opacity="0.62"/>
<text transform="translate(518.01 40.10) scale(1 1.12)" font-size="8.3" font-weight="bold" text-anchor="start" fill="#222" >9.7</text>
<line x1="529.90" y1="37.20" x2="548.50" y2="37.20" stroke="#808000" stroke-width="1.0" stroke-opacity="0.62"/>
<text transform="translate(550.71 40.10) scale(1 1.12)" font-size="8.3" font-weight="bold" text-anchor="start" fill="#222" >9.9</text>
<line x1="562.70" y1="37.20" x2="581.50" y2="37.20" stroke="#000080" stroke-width="1.0" stroke-opacity="0.62"/>
<text transform="translate(584.28 40.10) scale(1 1.12)" font-size="8.3" font-weight="bold" text-anchor="start" fill="#222" >10.19</text>
<line x1="609.00" y1="37.20" x2="628.20" y2="37.20" stroke="#800000" stroke-width="1.0" stroke-opacity="0.62"/>
<text transform="translate(630.78 40.10) scale(1 1.12)" font-size="8.3" font-weight="bold" text-anchor="start" fill="#222" >10.5</text>
<line x1="647.10" y1="37.20" x2="665.60" y2="37.20" stroke="#ff0080" stroke-width="1.0" stroke-opacity="0.62"/>
<text transform="translate(668.18 40.10) scale(1 1.12)" font-size="8.3" font-weight="bold" text-anchor="start" fill="#222" >10.77</text>
<line x1="688.60" y1="37.20" x2="707.40" y2="37.20" stroke="#008000" stroke-width="1.0" stroke-opacity="0.62"/>
<text transform="translate(709.98 40.10) scale(1 1.12)" font-size="8.3" font-weight="bold" text-anchor="start" fill="#222" >11.06</text>
<line x1="428.40" y1="48.20" x2="447.60" y2="48.20" stroke="#4545c8" stroke-width="1.0" stroke-opacity="0.62"/>
<text transform="translate(449.88 51.10) scale(1 1.12)" font-size="8.3" font-weight="bold" text-anchor="start" fill="#222" >11.4</text>
<line x1="468.20" y1="48.20" x2="487.40" y2="48.20" stroke="#ff8000" stroke-width="1.0" stroke-opacity="0.62"/>
<text transform="translate(489.68 51.10) scale(1 1.12)" font-size="8.3" font-weight="bold" text-anchor="start" fill="#222" >11.6</text>
<line x1="508.80" y1="48.20" x2="527.60" y2="48.20" stroke="#a020a0" stroke-width="1.0" stroke-opacity="0.62"/>
<text transform="translate(529.88 51.10) scale(1 1.12)" font-size="8.3" font-weight="bold" text-anchor="start" fill="#222" >11.91</text>
<line x1="552.30" y1="48.20" x2="571.40" y2="48.20" stroke="#a040ff" stroke-width="1.0" stroke-opacity="0.62"/>
<text transform="translate(573.98 51.10) scale(1 1.12)" font-size="8.3" font-weight="bold" text-anchor="start" fill="#222" >12.13</text>
<line x1="594.50" y1="48.20" x2="613.60" y2="48.20" stroke="#555" stroke-width="1.0" stroke-opacity="0.62"/>
<text transform="translate(616.28 51.10) scale(1 1.12)" font-size="8.3" font-weight="bold" text-anchor="start" fill="#222" >12.4 A</text>
<line x1="640.10" y1="48.20" x2="659.00" y2="48.20" stroke="#ff0000" stroke-width="1.0" stroke-opacity="0.62"/>
<text transform="translate(661.68 51.10) scale(1 1.12)" font-size="8.3" font-weight="bold" text-anchor="start" fill="#222" >12.61</text>
<line x1="684.20" y1="48.20" x2="703.40" y2="48.20" stroke="#0000ff" stroke-width="1.0" stroke-opacity="0.62"/>
<text transform="translate(705.88 51.10) scale(1 1.12)" font-size="8.3" font-weight="bold" text-anchor="start" fill="#222" >12.73</text>
<text transform="translate(469.40 103.00) scale(1 1.12)" font-size="8.1" font-weight="bold" text-anchor="start" fill="#111" >pH = 2.14</text>
<text transform="translate(466.00 207.90) scale(1 1.12)" font-size="8.1" font-weight="bold" text-anchor="start" fill="#111" >pH = 12.73</text>
<line x1="487.20" y1="105.20" x2="487.20" y2="193.00" stroke="#222" stroke-width="1.0" />
<path d="M485.5,192 L488.9,192 L487.2,197.9 Z" fill="#222"/>
<rect x="620" y="76" width="120" height="100" fill="#fff"/>
<line x1="624.30" y1="85.70" x2="624.30" y2="173.60" stroke="#333" stroke-width="0.9" />
<line x1="624.30" y1="173.20" x2="737.44" y2="173.20" stroke="#333" stroke-width="0.9" />
<line x1="622.30" y1="166.70" x2="624.30" y2="166.70" stroke="#333" stroke-width="0.7" />
<text x="621.90" y="167.90" font-size="3.4" font-weight="normal" text-anchor="end" fill="#444" >0</text>
<line x1="622.30" y1="153.20" x2="624.30" y2="153.20" stroke="#333" stroke-width="0.7" />
<text x="621.90" y="154.40" font-size="3.4" font-weight="normal" text-anchor="end" fill="#444" >100</text>
<line x1="622.30" y1="139.70" x2="624.30" y2="139.70" stroke="#333" stroke-width="0.7" />
<text x="621.90" y="140.90" font-size="3.4" font-weight="normal" text-anchor="end" fill="#444" >200</text>
<line x1="622.30" y1="126.20" x2="624.30" y2="126.20" stroke="#333" stroke-width="0.7" />
<text x="621.90" y="127.40" font-size="3.4" font-weight="normal" text-anchor="end" fill="#444" >300</text>
<line x1="622.30" y1="112.70" x2="624.30" y2="112.70" stroke="#333" stroke-width="0.7" />
<text x="621.90" y="113.90" font-size="3.4" font-weight="normal" text-anchor="end" fill="#444" >400</text>
<line x1="622.30" y1="99.20" x2="624.30" y2="99.20" stroke="#333" stroke-width="0.7" />
<text x="621.90" y="100.40" font-size="3.4" font-weight="normal" text-anchor="end" fill="#444" >500</text>
<line x1="622.30" y1="85.70" x2="624.30" y2="85.70" stroke="#333" stroke-width="0.7" />
<text x="621.90" y="86.90" font-size="3.4" font-weight="normal" text-anchor="end" fill="#444" >600</text>
<line x1="623.30" y1="159.95" x2="624.30" y2="159.95" stroke="#333" stroke-width="0.6" />
<line x1="623.30" y1="146.45" x2="624.30" y2="146.45" stroke="#333" stroke-width="0.6" />
<line x1="623.30" y1="132.95" x2="624.30" y2="132.95" stroke="#333" stroke-width="0.6" />
<line x1="623.30" y1="119.45" x2="624.30" y2="119.45" stroke="#333" stroke-width="0.6" />
<line x1="623.30" y1="105.95" x2="624.30" y2="105.95" stroke="#333" stroke-width="0.6" />
<line x1="623.30" y1="92.45" x2="624.30" y2="92.45" stroke="#333" stroke-width="0.6" />
<line x1="632.98" y1="173.20" x2="632.98" y2="175.00" stroke="#333" stroke-width="0.7" />
<text x="632.98" y="178.90" font-size="3.4" font-weight="normal" text-anchor="middle" fill="#444" >2</text>
<line x1="650.34" y1="173.20" x2="650.34" y2="175.00" stroke="#333" stroke-width="0.7" />
<text x="650.34" y="178.90" font-size="3.4" font-weight="normal" text-anchor="middle" fill="#444" >4</text>
<line x1="667.70" y1="173.20" x2="667.70" y2="175.00" stroke="#333" stroke-width="0.7" />
<text x="667.70" y="178.90" font-size="3.4" font-weight="normal" text-anchor="middle" fill="#444" >6</text>
<line x1="685.06" y1="173.20" x2="685.06" y2="175.00" stroke="#333" stroke-width="0.7" />
<text x="685.06" y="178.90" font-size="3.4" font-weight="normal" text-anchor="middle" fill="#444" >8</text>
<line x1="702.42" y1="173.20" x2="702.42" y2="175.00" stroke="#333" stroke-width="0.7" />
<text x="702.42" y="178.90" font-size="3.4" font-weight="normal" text-anchor="middle" fill="#444" >10</text>
<line x1="719.78" y1="173.20" x2="719.78" y2="175.00" stroke="#333" stroke-width="0.7" />
<text x="719.78" y="178.90" font-size="3.4" font-weight="normal" text-anchor="middle" fill="#444" >12</text>
<line x1="737.14" y1="173.20" x2="737.14" y2="175.00" stroke="#333" stroke-width="0.7" />
<text x="737.14" y="178.90" font-size="3.4" font-weight="normal" text-anchor="middle" fill="#444" >14</text>
<line x1="624.30" y1="173.20" x2="624.30" y2="174.20" stroke="#333" stroke-width="0.6" />
<line x1="641.66" y1="173.20" x2="641.66" y2="174.20" stroke="#333" stroke-width="0.6" />
<line x1="659.02" y1="173.20" x2="659.02" y2="174.20" stroke="#333" stroke-width="0.6" />
<line x1="676.38" y1="173.20" x2="676.38" y2="174.20" stroke="#333" stroke-width="0.6" />
<line x1="693.74" y1="173.20" x2="693.74" y2="174.20" stroke="#333" stroke-width="0.6" />
<line x1="711.10" y1="173.20" x2="711.10" y2="174.20" stroke="#333" stroke-width="0.6" />
<line x1="728.46" y1="173.20" x2="728.46" y2="174.20" stroke="#333" stroke-width="0.6" />
<text x="680.50" y="184.20" font-size="3.8" font-weight="normal" text-anchor="middle" fill="#444" >pH</text>
<text x="612.00" y="125.20" font-size="3.8" font-weight="normal" text-anchor="middle" fill="#333" transform="rotate(-90 612 125.2)">Emission at 535 nm (A.U.)</text>
<polyline points="634.2,99.2 635.1,96.9 637.1,95.7 638.8,94.9 640.8,94.2 643.8,93.9 647.0,93.9 650.5,95.1 653.4,95.1 655.8,94.3 657.9,95.1 664.0,94.3 666.7,94.3 671.7,93.9 674.6,93.7 679.9,93.7 685.1,94.7 691.0,94.1 699.8,93.7 701.6,94.3 704.1,95.1 706.8,95.7 709.1,97.6 711.6,100.5 714.6,103.1 716.3,108.6 719.0,120.5 720.9,131.2 723.3,146.6 725.1,156.4 726.1,161.6" fill="none" stroke="#555" stroke-width="0.5" stroke-linejoin="round" />
<rect x="633.30" y="98.30" width="1.8" height="1.8" fill="#000"/>
<rect x="634.25" y="96.00" width="1.8" height="1.8" fill="#000"/>
<rect x="636.25" y="94.79" width="1.8" height="1.8" fill="#000"/>
<rect x="637.90" y="93.98" width="1.8" height="1.8" fill="#000"/>
<rect x="639.89" y="93.30" width="1.8" height="1.8" fill="#000"/>
<rect x="642.93" y="93.03" width="1.8" height="1.8" fill="#000"/>
<rect x="646.05" y="93.03" width="1.8" height="1.8" fill="#000"/>
<rect x="649.61" y="94.25" width="1.8" height="1.8" fill="#000"/>
<rect x="652.48" y="94.25" width="1.8" height="1.8" fill="#000"/>
<rect x="654.91" y="93.44" width="1.8" height="1.8" fill="#000"/>
<rect x="656.99" y="94.25" width="1.8" height="1.8" fill="#000"/>
<rect x="663.07" y="93.44" width="1.8" height="1.8" fill="#000"/>
<rect x="665.85" y="93.44" width="1.8" height="1.8" fill="#000"/>
<rect x="670.79" y="93.03" width="1.8" height="1.8" fill="#000"/>
<rect x="673.74" y="92.76" width="1.8" height="1.8" fill="#000"/>
<rect x="678.95" y="92.76" width="1.8" height="1.8" fill="#000"/>
<rect x="684.16" y="93.84" width="1.8" height="1.8" fill="#000"/>
<rect x="690.06" y="93.17" width="1.8" height="1.8" fill="#000"/>
<rect x="698.92" y="92.76" width="1.8" height="1.8" fill="#000"/>
<rect x="700.65" y="93.44" width="1.8" height="1.8" fill="#000"/>
<rect x="703.17" y="94.25" width="1.8" height="1.8" fill="#000"/>
<rect x="705.86" y="94.79" width="1.8" height="1.8" fill="#000"/>
<rect x="708.20" y="96.68" width="1.8" height="1.8" fill="#000"/>
<rect x="710.72" y="99.65" width="1.8" height="1.8" fill="#000"/>
<rect x="713.67" y="102.21" width="1.8" height="1.8" fill="#000"/>
<rect x="715.41" y="107.75" width="1.8" height="1.8" fill="#000"/>
<rect x="718.10" y="119.63" width="1.8" height="1.8" fill="#000"/>
<rect x="720.01" y="130.29" width="1.8" height="1.8" fill="#000"/>
<rect x="722.35" y="145.68" width="1.8" height="1.8" fill="#000"/>
<rect x="724.17" y="155.54" width="1.8" height="1.8" fill="#000"/>
<rect x="725.22" y="160.67" width="1.8" height="1.8" fill="#000"/>
<rect x="684.5" y="77.6" width="44.2" height="4.9" fill="#fff" stroke="#8a8a8a" stroke-width="0.7"/>
<line x1="685.30" y1="80.05" x2="694.20" y2="80.05" stroke="#222" stroke-width="0.6" />
<rect x="688.7" y="79.1" width="1.9" height="1.9" fill="#000"/>
<rect x="695.6" y="78.3" width="32.6" height="3.5" fill="#b4b4b4"/>
<text x="696.00" y="81.50" font-size="3.6" font-weight="normal" text-anchor="start" fill="#fff" >Emission at 535 nm</text>
</svg>
</body></html>
